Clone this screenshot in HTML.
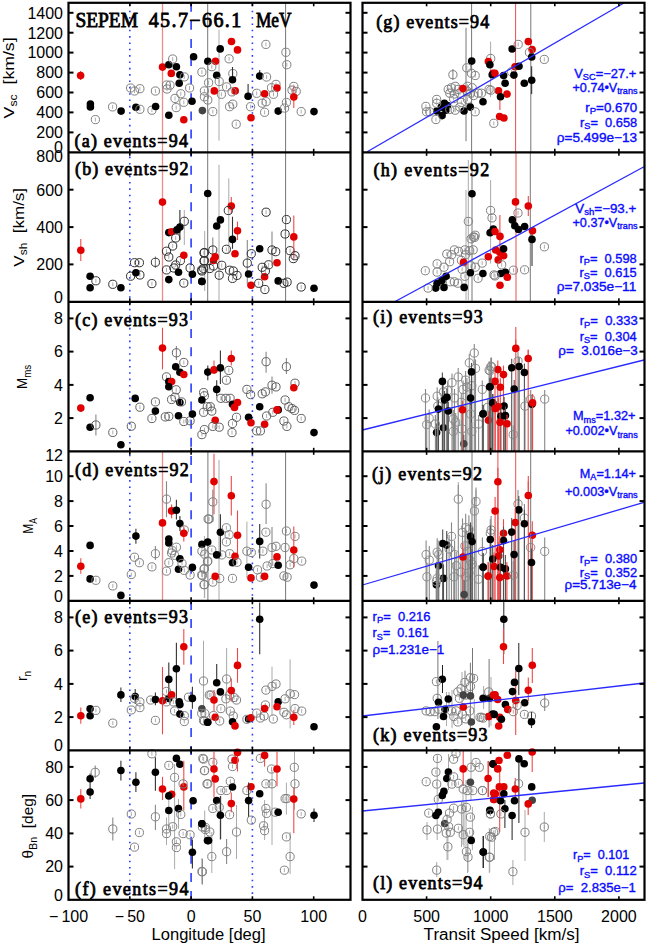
<!DOCTYPE html>
<html><head><meta charset="utf-8"><style>
html,body{margin:0;padding:0;background:#fff;width:648px;height:946px;overflow:hidden}
svg{display:block} text{white-space:pre}

</style></head><body>
<svg width="648" height="946" viewBox="0 0 648 946">
<rect x="0" y="0" width="648" height="946" fill="#fff"/>
<line x1="162.5" y1="2.8" x2="162.5" y2="152.3" stroke="#f08a8a" stroke-width="1.3"/>
<line x1="207.7" y1="2.8" x2="207.7" y2="152.3" stroke="#777" stroke-width="1"/>
<line x1="285.6" y1="2.8" x2="285.6" y2="152.3" stroke="#777" stroke-width="1"/>
<line x1="219" y1="29.6" x2="219" y2="140.7" stroke="#aaa" stroke-width="1"/>
<line x1="162.5" y1="152.3" x2="162.5" y2="301.8" stroke="#f08a8a" stroke-width="1.3"/>
<line x1="207.7" y1="152.3" x2="207.7" y2="301.8" stroke="#777" stroke-width="1"/>
<line x1="285.6" y1="152.3" x2="285.6" y2="301.8" stroke="#777" stroke-width="1"/>
<line x1="219" y1="164.8" x2="219" y2="300.6" stroke="#aaa" stroke-width="1"/>
<line x1="228.8" y1="178.4" x2="228.8" y2="253.7" stroke="#aaa" stroke-width="1"/>
<line x1="204.7" y1="231" x2="204.7" y2="291" stroke="#aaa" stroke-width="1"/>
<line x1="184.3" y1="210" x2="184.3" y2="245" stroke="#aaa" stroke-width="1"/>
<line x1="179.9" y1="210" x2="179.9" y2="240" stroke="#222" stroke-width="1"/>
<line x1="162.5" y1="451.3" x2="162.5" y2="600.8" stroke="#f08a8a" stroke-width="1.3"/>
<line x1="207.9" y1="451.3" x2="207.9" y2="600.8" stroke="#777" stroke-width="1"/>
<line x1="285.6" y1="451.3" x2="285.6" y2="600.8" stroke="#777" stroke-width="1"/>
<line x1="219" y1="459.9" x2="219" y2="600.6" stroke="#aaa" stroke-width="1"/>
<line x1="204.4" y1="536" x2="204.4" y2="598" stroke="#aaa" stroke-width="1"/>
<line x1="246.9" y1="521.6" x2="246.9" y2="578" stroke="#aaa" stroke-width="1"/>
<line x1="204.7" y1="549" x2="204.7" y2="598" stroke="#aaa" stroke-width="1"/>
<line x1="203.5" y1="640.7" x2="203.5" y2="711.1" stroke="#aaa" stroke-width="1"/>
<line x1="226.6" y1="648" x2="226.6" y2="713" stroke="#aaa" stroke-width="1"/>
<line x1="272" y1="666.7" x2="272" y2="716" stroke="#aaa" stroke-width="1"/>
<line x1="290.1" y1="659.3" x2="290.1" y2="728.4" stroke="#aaa" stroke-width="1"/>
<line x1="174.6" y1="764" x2="174.6" y2="869" stroke="#aaa" stroke-width="1"/>
<line x1="168.8" y1="791.7" x2="168.8" y2="829" stroke="#aaa" stroke-width="1"/>
<line x1="166.5" y1="817.4" x2="166.5" y2="845" stroke="#aaa" stroke-width="1"/>
<line x1="178.5" y1="799" x2="178.5" y2="829" stroke="#aaa" stroke-width="1"/>
<line x1="204.7" y1="810.5" x2="204.7" y2="840.6" stroke="#aaa" stroke-width="1"/>
<line x1="236.5" y1="805" x2="236.5" y2="859" stroke="#aaa" stroke-width="1"/>
<line x1="286.4" y1="782.6" x2="286.4" y2="814.6" stroke="#aaa" stroke-width="1"/>
<line x1="294.5" y1="751.7" x2="294.5" y2="809.7" stroke="#aaa" stroke-width="1"/>
<line x1="290.1" y1="832" x2="290.1" y2="874" stroke="#aaa" stroke-width="1"/>
<line x1="220.9" y1="796" x2="220.9" y2="839" stroke="#aaa" stroke-width="1"/>
<line x1="211.8" y1="832" x2="211.8" y2="873" stroke="#aaa" stroke-width="1"/>
<line x1="201.9" y1="858" x2="201.9" y2="884" stroke="#aaa" stroke-width="1"/>
<line x1="272" y1="770" x2="272" y2="845" stroke="#aaa" stroke-width="1"/>
<line x1="264.6" y1="800" x2="264.6" y2="840" stroke="#aaa" stroke-width="1"/>
<line x1="466" y1="27.8" x2="466" y2="141.2" stroke="#777" stroke-width="1"/>
<line x1="471.6" y1="2.8" x2="471.6" y2="152.3" stroke="#777" stroke-width="1"/>
<line x1="515.6" y1="2.8" x2="515.6" y2="152.3" stroke="#e85050" stroke-width="1"/>
<line x1="530.8" y1="2.8" x2="530.8" y2="152.3" stroke="#777" stroke-width="1"/>
<line x1="490.6" y1="41.7" x2="490.6" y2="97" stroke="#aaa" stroke-width="1"/>
<line x1="531.7" y1="66.3" x2="531.7" y2="94.1" stroke="#222" stroke-width="1"/>
<line x1="499.9" y1="97" x2="499.9" y2="110" stroke="#f04848" stroke-width="1.1"/>
<line x1="472" y1="152.3" x2="472" y2="301.8" stroke="#777" stroke-width="1"/>
<line x1="516" y1="152.3" x2="516" y2="301.8" stroke="#e85050" stroke-width="1"/>
<line x1="530.3" y1="152.3" x2="530.3" y2="301.8" stroke="#777" stroke-width="1"/>
<line x1="490.6" y1="180" x2="490.6" y2="263.6" stroke="#aaa" stroke-width="1"/>
<line x1="466" y1="190" x2="466" y2="300" stroke="#aaa" stroke-width="1"/>
<line x1="468.3" y1="160" x2="468.3" y2="300" stroke="#aaa" stroke-width="1"/>
<line x1="532" y1="229" x2="532" y2="266" stroke="#222" stroke-width="1"/>
<line x1="499.9" y1="215" x2="499.9" y2="250" stroke="#f04848" stroke-width="1.1"/>
<line x1="528.3" y1="196" x2="528.3" y2="216" stroke="#f04848" stroke-width="1.1"/>
<line x1="515.8" y1="327" x2="515.8" y2="348" stroke="#f04848" stroke-width="1.1"/>
<line x1="528.2" y1="350" x2="528.2" y2="358" stroke="#f04848" stroke-width="1.1"/>
<line x1="472" y1="451.3" x2="472" y2="600.8" stroke="#777" stroke-width="1"/>
<line x1="497.9" y1="451.3" x2="497.9" y2="600.8" stroke="#e85050" stroke-width="1"/>
<line x1="515.7" y1="451.3" x2="515.7" y2="600.8" stroke="#e85050" stroke-width="1"/>
<line x1="530.7" y1="451.3" x2="530.7" y2="600.8" stroke="#777" stroke-width="1"/>
<line x1="458.3" y1="482" x2="458.3" y2="499" stroke="#aaa" stroke-width="1"/>
<line x1="476" y1="490" x2="476" y2="501" stroke="#aaa" stroke-width="1"/>
<line x1="528.3" y1="476" x2="528.3" y2="495" stroke="#f04848" stroke-width="1.1"/>
<line x1="437.9" y1="641" x2="437.9" y2="719" stroke="#777" stroke-width="1"/>
<line x1="442.5" y1="665" x2="442.5" y2="693" stroke="#222" stroke-width="1"/>
<line x1="472.5" y1="648" x2="472.5" y2="695.4" stroke="#777" stroke-width="1"/>
<line x1="470.4" y1="662.7" x2="470.4" y2="728.8" stroke="#777" stroke-width="1"/>
<line x1="465" y1="670.7" x2="465" y2="699" stroke="#777" stroke-width="1"/>
<line x1="483.6" y1="686" x2="483.6" y2="709" stroke="#aaa" stroke-width="1"/>
<line x1="489.1" y1="659" x2="489.1" y2="727.5" stroke="#777" stroke-width="1"/>
<line x1="491" y1="677" x2="491" y2="726" stroke="#aaa" stroke-width="1"/>
<line x1="446.5" y1="692" x2="446.5" y2="726" stroke="#aaa" stroke-width="1"/>
<line x1="449" y1="692" x2="449" y2="709" stroke="#aaa" stroke-width="1"/>
<line x1="474.3" y1="699" x2="474.3" y2="724" stroke="#aaa" stroke-width="1"/>
<line x1="503.8" y1="601.5" x2="503.8" y2="654" stroke="#222" stroke-width="1"/>
<line x1="503.5" y1="628.5" x2="503.5" y2="664" stroke="#f04848" stroke-width="1.1"/>
<line x1="518.8" y1="643" x2="518.8" y2="695" stroke="#222" stroke-width="1"/>
<line x1="532.3" y1="648" x2="532.3" y2="683" stroke="#f04848" stroke-width="1.1"/>
<line x1="528.3" y1="677.6" x2="528.3" y2="701" stroke="#f04848" stroke-width="1.1"/>
<line x1="515.7" y1="671" x2="515.7" y2="735" stroke="#f04848" stroke-width="1.1"/>
<line x1="489.5" y1="662" x2="489.5" y2="727" stroke="#aaa" stroke-width="1"/>
<line x1="462" y1="672" x2="462" y2="725" stroke="#aaa" stroke-width="1"/>
<line x1="452" y1="690" x2="452" y2="728" stroke="#aaa" stroke-width="1"/>
<line x1="463.2" y1="751" x2="463.2" y2="786" stroke="#f04848" stroke-width="1.1"/>
<line x1="488.1" y1="761" x2="488.1" y2="797" stroke="#f04848" stroke-width="1.1"/>
<line x1="448.5" y1="754" x2="448.5" y2="790" stroke="#aaa" stroke-width="1"/>
<line x1="471" y1="752" x2="471" y2="800" stroke="#aaa" stroke-width="1"/>
<line x1="463" y1="790" x2="463" y2="845" stroke="#aaa" stroke-width="1"/>
<line x1="466" y1="780" x2="466" y2="860" stroke="#aaa" stroke-width="1"/>
<line x1="447.9" y1="835" x2="447.9" y2="860" stroke="#aaa" stroke-width="1"/>
<line x1="468" y1="840" x2="468" y2="872" stroke="#aaa" stroke-width="1"/>
<line x1="489.7" y1="830" x2="489.7" y2="872" stroke="#aaa" stroke-width="1"/>
<line x1="427" y1="822" x2="427" y2="840" stroke="#aaa" stroke-width="1"/>
<line x1="483.3" y1="836" x2="483.3" y2="868" stroke="#222" stroke-width="1"/>
<line x1="436.7" y1="862" x2="436.7" y2="877" stroke="#aaa" stroke-width="1"/>
<line x1="532.2" y1="751" x2="532.2" y2="772" stroke="#f04848" stroke-width="1.1"/>
<line x1="488.4" y1="761" x2="488.4" y2="797" stroke="#f04848" stroke-width="1.1"/>
<line x1="515.3" y1="778" x2="515.3" y2="800" stroke="#f04848" stroke-width="1.1"/>
<line x1="528.2" y1="800" x2="528.2" y2="815" stroke="#f04848" stroke-width="1.1"/>
<line x1="518.9" y1="762" x2="518.9" y2="823" stroke="#222" stroke-width="1"/>
<line x1="499.7" y1="765" x2="499.7" y2="832" stroke="#f04848" stroke-width="1.1"/>
<line x1="525" y1="810" x2="525" y2="861" stroke="#aaa" stroke-width="1"/>
<line x1="544.3" y1="812" x2="544.3" y2="842" stroke="#aaa" stroke-width="1"/>
<line x1="512.9" y1="860" x2="512.9" y2="885" stroke="#aaa" stroke-width="1"/>
<line x1="489.3" y1="828" x2="489.3" y2="873" stroke="#aaa" stroke-width="1"/>
<line x1="512.1" y1="812" x2="512.1" y2="840" stroke="#222" stroke-width="1"/>
<line x1="483.2" y1="836" x2="483.2" y2="868" stroke="#222" stroke-width="1"/>
<line x1="504.9" y1="800" x2="504.9" y2="828" stroke="#222" stroke-width="1"/>
<line x1="437.2" y1="754.8" x2="437.2" y2="840" stroke="#aaa" stroke-width="1"/>
<line x1="447" y1="814" x2="447" y2="860" stroke="#aaa" stroke-width="1"/>
<line x1="461.5" y1="802" x2="461.5" y2="847" stroke="#aaa" stroke-width="1"/>
<line x1="464" y1="802" x2="464" y2="847" stroke="#aaa" stroke-width="1"/>
<line x1="467.5" y1="843" x2="467.5" y2="873" stroke="#aaa" stroke-width="1"/>
<line x1="472.4" y1="807" x2="472.4" y2="850" stroke="#aaa" stroke-width="1"/>
<line x1="494.5" y1="833" x2="494.5" y2="860" stroke="#aaa" stroke-width="1"/>
<line x1="129.8" y1="2.7" x2="129.8" y2="899.3" stroke="#2a3cff" stroke-width="1.6" stroke-dasharray="1.6 4.743" stroke-dashoffset="4.693"/>
<line x1="252.4" y1="2.7" x2="252.4" y2="899.3" stroke="#2a3cff" stroke-width="1.6" stroke-dasharray="1.6 4.743" stroke-dashoffset="4.693"/>
<line x1="191.1" y1="2.7" x2="191.1" y2="899.3" stroke="#2a3cff" stroke-width="1.6" stroke-dasharray="9 9.13" stroke-dashoffset="0"/>
<line x1="80.6" y1="71" x2="80.6" y2="80" stroke="#f04848" stroke-width="1.1"/>
<circle cx="80.6" cy="75.6" r="3.8" fill="#e00000"/>
<circle cx="90.4" cy="104" r="3.8" fill="#000"/>
<circle cx="90.4" cy="107" r="3.8" fill="#000"/>
<line x1="95.4" y1="117.6" x2="95.4" y2="121.6" stroke="#999" stroke-width="0.8"/>
<circle cx="95.4" cy="119.6" r="4.1" fill="none" stroke="#808080" stroke-width="1"/>
<line x1="112.6" y1="104.9" x2="112.6" y2="108.9" stroke="#999" stroke-width="0.8"/>
<circle cx="112.6" cy="106.9" r="4.1" fill="none" stroke="#808080" stroke-width="1"/>
<circle cx="121.1" cy="111.1" r="3.8" fill="#000"/>
<line x1="130.6" y1="86" x2="130.6" y2="90" stroke="#999" stroke-width="0.8"/>
<circle cx="130.6" cy="88" r="4.1" fill="none" stroke="#808080" stroke-width="1"/>
<line x1="134.5" y1="89" x2="134.5" y2="93" stroke="#999" stroke-width="0.8"/>
<circle cx="134.5" cy="91" r="4.1" fill="none" stroke="#808080" stroke-width="1"/>
<line x1="139.9" y1="86.7" x2="139.9" y2="90.7" stroke="#999" stroke-width="0.8"/>
<circle cx="139.9" cy="88.7" r="4.1" fill="none" stroke="#808080" stroke-width="1"/>
<circle cx="135.9" cy="107.2" r="3.8" fill="#000"/>
<line x1="139.9" y1="107.3" x2="139.9" y2="111.3" stroke="#999" stroke-width="0.8"/>
<circle cx="139.9" cy="109.3" r="4.1" fill="none" stroke="#808080" stroke-width="1"/>
<line x1="151.9" y1="108.2" x2="151.9" y2="112.2" stroke="#999" stroke-width="0.8"/>
<circle cx="151.9" cy="110.2" r="4.1" fill="none" stroke="#808080" stroke-width="1"/>
<circle cx="155.6" cy="106.5" r="3.8" fill="#000"/>
<line x1="155.4" y1="89" x2="155.4" y2="93" stroke="#999" stroke-width="0.8"/>
<circle cx="155.4" cy="91" r="4.1" fill="none" stroke="#808080" stroke-width="1"/>
<circle cx="162.5" cy="67.1" r="3.8" fill="#e00000"/>
<circle cx="168.8" cy="64.8" r="3.8" fill="#000"/>
<line x1="172.7" y1="57" x2="172.7" y2="61" stroke="#999" stroke-width="0.8"/>
<circle cx="172.7" cy="59" r="4.1" fill="none" stroke="#808080" stroke-width="1"/>
<circle cx="176.4" cy="66.7" r="3.8" fill="#000"/>
<circle cx="171.3" cy="73.4" r="3.8" fill="#e00000"/>
<circle cx="179.9" cy="74.8" r="3.8" fill="#000"/>
<line x1="184.3" y1="74.9" x2="184.3" y2="78.9" stroke="#999" stroke-width="0.8"/>
<circle cx="184.3" cy="76.9" r="4.1" fill="none" stroke="#808080" stroke-width="1"/>
<line x1="166.5" y1="83" x2="166.5" y2="87" stroke="#999" stroke-width="0.8"/>
<circle cx="166.5" cy="85" r="4.1" fill="none" stroke="#808080" stroke-width="1"/>
<line x1="170" y1="83.2" x2="170" y2="87.2" stroke="#999" stroke-width="0.8"/>
<circle cx="170" cy="85.2" r="4.1" fill="none" stroke="#808080" stroke-width="1"/>
<line x1="167" y1="87" x2="167" y2="91" stroke="#999" stroke-width="0.8"/>
<circle cx="167" cy="89" r="4.1" fill="none" stroke="#808080" stroke-width="1"/>
<circle cx="179.2" cy="83.3" r="3.8" fill="#000"/>
<line x1="189.6" y1="86" x2="189.6" y2="90" stroke="#999" stroke-width="0.8"/>
<circle cx="189.6" cy="88" r="4.1" fill="none" stroke="#808080" stroke-width="1"/>
<line x1="180.8" y1="91.75" x2="180.8" y2="95.75" stroke="#999" stroke-width="0.8"/>
<circle cx="180.8" cy="93.75" r="4.1" fill="none" stroke="#808080" stroke-width="1"/>
<line x1="175" y1="96.4" x2="175" y2="100.4" stroke="#999" stroke-width="0.8"/>
<circle cx="175" cy="98.4" r="4.1" fill="none" stroke="#808080" stroke-width="1"/>
<line x1="183.8" y1="100.3" x2="183.8" y2="104.3" stroke="#999" stroke-width="0.8"/>
<circle cx="183.8" cy="102.3" r="4.1" fill="none" stroke="#808080" stroke-width="1"/>
<line x1="176.2" y1="105.6" x2="176.2" y2="109.6" stroke="#999" stroke-width="0.8"/>
<circle cx="176.2" cy="107.6" r="4.1" fill="none" stroke="#808080" stroke-width="1"/>
<circle cx="168.8" cy="115.3" r="3.8" fill="#000"/>
<circle cx="183.8" cy="119.7" r="3.8" fill="#e00000"/>
<circle cx="192" cy="101.2" r="3.8" fill="#000"/>
<circle cx="193.6" cy="56.7" r="3.8" fill="#000"/>
<circle cx="207.8" cy="61.2" r="3.8" fill="#000"/>
<circle cx="215.5" cy="61.2" r="3.8" fill="#e00000"/>
<circle cx="220.2" cy="48.9" r="3.8" fill="#000"/>
<line x1="211.8" y1="64.7" x2="211.8" y2="68.7" stroke="#999" stroke-width="0.8"/>
<circle cx="211.8" cy="66.7" r="4.1" fill="none" stroke="#808080" stroke-width="1"/>
<line x1="201.9" y1="70.1" x2="201.9" y2="74.1" stroke="#999" stroke-width="0.8"/>
<circle cx="201.9" cy="72.1" r="4.1" fill="none" stroke="#808080" stroke-width="1"/>
<circle cx="216.7" cy="75.3" r="3.8" fill="#000"/>
<line x1="208.6" y1="80.7" x2="208.6" y2="84.7" stroke="#999" stroke-width="0.8"/>
<circle cx="208.6" cy="82.7" r="4.1" fill="none" stroke="#808080" stroke-width="1"/>
<line x1="219.2" y1="79.5" x2="219.2" y2="83.5" stroke="#999" stroke-width="0.8"/>
<circle cx="219.2" cy="81.5" r="4.1" fill="none" stroke="#808080" stroke-width="1"/>
<line x1="226.6" y1="84.9" x2="226.6" y2="88.9" stroke="#999" stroke-width="0.8"/>
<circle cx="226.6" cy="86.9" r="4.1" fill="none" stroke="#808080" stroke-width="1"/>
<line x1="204.4" y1="88.9" x2="204.4" y2="92.9" stroke="#999" stroke-width="0.8"/>
<circle cx="204.4" cy="90.9" r="4.1" fill="none" stroke="#808080" stroke-width="1"/>
<line x1="204.4" y1="94.8" x2="204.4" y2="98.8" stroke="#999" stroke-width="0.8"/>
<circle cx="204.4" cy="96.8" r="4.1" fill="none" stroke="#808080" stroke-width="1"/>
<line x1="207.8" y1="98" x2="207.8" y2="102" stroke="#999" stroke-width="0.8"/>
<circle cx="207.8" cy="100" r="4.1" fill="none" stroke="#808080" stroke-width="1"/>
<line x1="221.4" y1="92.3" x2="221.4" y2="96.3" stroke="#999" stroke-width="0.8"/>
<circle cx="221.4" cy="94.3" r="4.1" fill="none" stroke="#808080" stroke-width="1"/>
<circle cx="214.3" cy="90.9" r="3.8" fill="#e00000"/>
<circle cx="231.5" cy="41.5" r="3.8" fill="#e00000"/>
<circle cx="237.5" cy="49.9" r="3.8" fill="#e00000"/>
<line x1="229.1" y1="56.8" x2="229.1" y2="60.8" stroke="#999" stroke-width="0.8"/>
<circle cx="229.1" cy="58.8" r="4.1" fill="none" stroke="#808080" stroke-width="1"/>
<line x1="232.8" y1="71.6" x2="232.8" y2="75.6" stroke="#999" stroke-width="0.8"/>
<circle cx="232.8" cy="73.6" r="4.1" fill="none" stroke="#808080" stroke-width="1"/>
<line x1="232.5" y1="67" x2="232.5" y2="80" stroke="#333" stroke-width="1.1"/>
<circle cx="232.5" cy="79.8" r="3.8" fill="#000"/>
<circle cx="235.2" cy="90.9" r="3.8" fill="#e00000"/>
<line x1="232" y1="89.9" x2="232" y2="93.9" stroke="#999" stroke-width="0.8"/>
<circle cx="232" cy="91.9" r="4.1" fill="none" stroke="#808080" stroke-width="1"/>
<line x1="229.6" y1="104.7" x2="229.6" y2="108.7" stroke="#999" stroke-width="0.8"/>
<circle cx="229.6" cy="106.7" r="4.1" fill="none" stroke="#808080" stroke-width="1"/>
<line x1="232.8" y1="102.2" x2="232.8" y2="106.2" stroke="#999" stroke-width="0.8"/>
<circle cx="232.8" cy="104.2" r="4.1" fill="none" stroke="#808080" stroke-width="1"/>
<circle cx="202.4" cy="110.6" r="3.8" fill="#444"/>
<line x1="212.8" y1="109.6" x2="212.8" y2="113.6" stroke="#999" stroke-width="0.8"/>
<circle cx="212.8" cy="111.6" r="4.1" fill="none" stroke="#808080" stroke-width="1"/>
<line x1="236.2" y1="122.2" x2="236.2" y2="126.2" stroke="#999" stroke-width="0.8"/>
<circle cx="236.2" cy="124.2" r="4.1" fill="none" stroke="#808080" stroke-width="1"/>
<line x1="248.1" y1="84" x2="248.1" y2="100" stroke="#333" stroke-width="1.1"/>
<circle cx="248.1" cy="96.3" r="3.8" fill="#000"/>
<line x1="250.6" y1="104.7" x2="250.6" y2="108.7" stroke="#999" stroke-width="0.8"/>
<circle cx="250.6" cy="106.7" r="4.1" fill="none" stroke="#808080" stroke-width="1"/>
<circle cx="251" cy="117.8" r="3.8" fill="#e00000"/>
<line x1="259.7" y1="70" x2="259.7" y2="80" stroke="#333" stroke-width="1.1"/>
<circle cx="259.7" cy="76" r="3.8" fill="#000"/>
<line x1="266.6" y1="75" x2="266.6" y2="79" stroke="#999" stroke-width="0.8"/>
<circle cx="266.6" cy="77" r="4.1" fill="none" stroke="#808080" stroke-width="1"/>
<line x1="265.9" y1="42.4" x2="265.9" y2="46.4" stroke="#999" stroke-width="0.8"/>
<circle cx="265.9" cy="44.4" r="4.1" fill="none" stroke="#808080" stroke-width="1"/>
<line x1="256.7" y1="91.3" x2="256.7" y2="95.3" stroke="#999" stroke-width="0.8"/>
<circle cx="256.7" cy="93.3" r="4.1" fill="none" stroke="#808080" stroke-width="1"/>
<circle cx="264.6" cy="93.8" r="3.8" fill="#e00000"/>
<line x1="262.2" y1="101.2" x2="262.2" y2="105.2" stroke="#999" stroke-width="0.8"/>
<circle cx="262.2" cy="103.2" r="4.1" fill="none" stroke="#808080" stroke-width="1"/>
<line x1="266.1" y1="99.7" x2="266.1" y2="103.7" stroke="#999" stroke-width="0.8"/>
<circle cx="266.1" cy="101.7" r="4.1" fill="none" stroke="#808080" stroke-width="1"/>
<line x1="264.6" y1="110.3" x2="264.6" y2="114.3" stroke="#999" stroke-width="0.8"/>
<circle cx="264.6" cy="112.3" r="4.1" fill="none" stroke="#808080" stroke-width="1"/>
<line x1="271.5" y1="85.7" x2="271.5" y2="89.7" stroke="#999" stroke-width="0.8"/>
<circle cx="271.5" cy="87.7" r="4.1" fill="none" stroke="#808080" stroke-width="1"/>
<line x1="276" y1="82.4" x2="276" y2="86.4" stroke="#999" stroke-width="0.8"/>
<circle cx="276" cy="84.4" r="4.1" fill="none" stroke="#808080" stroke-width="1"/>
<circle cx="277" cy="88.1" r="3.8" fill="#e00000"/>
<line x1="273.5" y1="92.3" x2="273.5" y2="96.3" stroke="#999" stroke-width="0.8"/>
<circle cx="273.5" cy="94.3" r="4.1" fill="none" stroke="#808080" stroke-width="1"/>
<circle cx="278.2" cy="111.1" r="3.8" fill="#000"/>
<line x1="285.9" y1="50.3" x2="285.9" y2="54.3" stroke="#999" stroke-width="0.8"/>
<circle cx="285.9" cy="52.3" r="4.1" fill="none" stroke="#808080" stroke-width="1"/>
<line x1="286.8" y1="62.7" x2="286.8" y2="66.7" stroke="#999" stroke-width="0.8"/>
<circle cx="286.8" cy="64.7" r="4.1" fill="none" stroke="#808080" stroke-width="1"/>
<line x1="286.4" y1="100.5" x2="286.4" y2="104.5" stroke="#999" stroke-width="0.8"/>
<circle cx="286.4" cy="102.5" r="4.1" fill="none" stroke="#808080" stroke-width="1"/>
<line x1="284.6" y1="106.1" x2="284.6" y2="110.1" stroke="#999" stroke-width="0.8"/>
<circle cx="284.6" cy="108.1" r="4.1" fill="none" stroke="#808080" stroke-width="1"/>
<line x1="293.8" y1="84.4" x2="293.8" y2="88.4" stroke="#999" stroke-width="0.8"/>
<circle cx="293.8" cy="86.4" r="4.1" fill="none" stroke="#808080" stroke-width="1"/>
<line x1="292" y1="88.1" x2="292" y2="92.1" stroke="#999" stroke-width="0.8"/>
<circle cx="292" cy="90.1" r="4.1" fill="none" stroke="#808080" stroke-width="1"/>
<line x1="296.2" y1="89.4" x2="296.2" y2="93.4" stroke="#999" stroke-width="0.8"/>
<circle cx="296.2" cy="91.4" r="4.1" fill="none" stroke="#808080" stroke-width="1"/>
<line x1="293.8" y1="86.4" x2="293.8" y2="108.1" stroke="#f04848" stroke-width="1.1"/>
<circle cx="293.8" cy="97" r="3.8" fill="#e00000"/>
<line x1="301.2" y1="109.6" x2="301.2" y2="113.6" stroke="#999" stroke-width="0.8"/>
<circle cx="301.2" cy="111.6" r="4.1" fill="none" stroke="#808080" stroke-width="1"/>
<circle cx="314" cy="111.6" r="3.8" fill="#000"/>
<line x1="80.8" y1="239.1" x2="80.8" y2="261.1" stroke="#f04848" stroke-width="1.1"/>
<circle cx="80.8" cy="250.2" r="3.8" fill="#e00000"/>
<circle cx="90.1" cy="276.2" r="3.8" fill="#000"/>
<circle cx="90.1" cy="287.7" r="3.8" fill="#000"/>
<line x1="95.9" y1="278.8" x2="95.9" y2="282.8" stroke="#999" stroke-width="0.8"/>
<circle cx="95.9" cy="280.8" r="4.1" fill="none" stroke="#303030" stroke-width="1"/>
<line x1="112.8" y1="282.3" x2="112.8" y2="286.3" stroke="#999" stroke-width="0.8"/>
<circle cx="112.8" cy="284.3" r="4.1" fill="none" stroke="#303030" stroke-width="1"/>
<circle cx="120.9" cy="287.7" r="3.8" fill="#000"/>
<line x1="130.6" y1="274.2" x2="130.6" y2="278.2" stroke="#999" stroke-width="0.8"/>
<circle cx="130.6" cy="276.2" r="4.1" fill="none" stroke="#303030" stroke-width="1"/>
<line x1="134.5" y1="260.7" x2="134.5" y2="264.7" stroke="#999" stroke-width="0.8"/>
<circle cx="134.5" cy="262.7" r="4.1" fill="none" stroke="#303030" stroke-width="1"/>
<line x1="139.4" y1="260.7" x2="139.4" y2="264.7" stroke="#999" stroke-width="0.8"/>
<circle cx="139.4" cy="262.7" r="4.1" fill="none" stroke="#303030" stroke-width="1"/>
<line x1="139.9" y1="273" x2="139.9" y2="277" stroke="#999" stroke-width="0.8"/>
<circle cx="139.9" cy="275" r="4.1" fill="none" stroke="#303030" stroke-width="1"/>
<circle cx="135.9" cy="272.7" r="3.8" fill="#000"/>
<line x1="151.9" y1="281.6" x2="151.9" y2="285.6" stroke="#999" stroke-width="0.8"/>
<circle cx="151.9" cy="283.6" r="4.1" fill="none" stroke="#303030" stroke-width="1"/>
<line x1="155.4" y1="256.5" x2="155.4" y2="268" stroke="#888" stroke-width="1.1"/>
<circle cx="155.4" cy="262.3" r="4.1" fill="none" stroke="#303030" stroke-width="1"/>
<circle cx="162.5" cy="202.1" r="3.8" fill="#e00000"/>
<circle cx="168.8" cy="232.6" r="3.8" fill="#000"/>
<circle cx="171.6" cy="231.7" r="3.8" fill="#e00000"/>
<circle cx="176.9" cy="229.9" r="3.8" fill="#000"/>
<circle cx="179.9" cy="227.1" r="3.8" fill="#000"/>
<line x1="184.3" y1="219.3" x2="184.3" y2="223.3" stroke="#999" stroke-width="0.8"/>
<circle cx="184.3" cy="221.3" r="4.1" fill="none" stroke="#303030" stroke-width="1"/>
<line x1="175.7" y1="236" x2="175.7" y2="240" stroke="#999" stroke-width="0.8"/>
<circle cx="175.7" cy="238" r="4.1" fill="none" stroke="#303030" stroke-width="1"/>
<line x1="172.7" y1="244" x2="172.7" y2="248" stroke="#999" stroke-width="0.8"/>
<circle cx="172.7" cy="246" r="4.1" fill="none" stroke="#303030" stroke-width="1"/>
<line x1="166.5" y1="249.2" x2="166.5" y2="253.2" stroke="#999" stroke-width="0.8"/>
<circle cx="166.5" cy="251.2" r="4.1" fill="none" stroke="#303030" stroke-width="1"/>
<line x1="168.8" y1="255" x2="168.8" y2="259" stroke="#999" stroke-width="0.8"/>
<circle cx="168.8" cy="257" r="4.1" fill="none" stroke="#303030" stroke-width="1"/>
<line x1="175.7" y1="263" x2="175.7" y2="267" stroke="#999" stroke-width="0.8"/>
<circle cx="175.7" cy="265" r="4.1" fill="none" stroke="#303030" stroke-width="1"/>
<line x1="180.4" y1="258.6" x2="180.4" y2="262.6" stroke="#999" stroke-width="0.8"/>
<circle cx="180.4" cy="260.6" r="4.1" fill="none" stroke="#303030" stroke-width="1"/>
<circle cx="183.8" cy="255.3" r="3.8" fill="#e00000"/>
<line x1="166.5" y1="267.9" x2="166.5" y2="271.9" stroke="#999" stroke-width="0.8"/>
<circle cx="166.5" cy="269.9" r="4.1" fill="none" stroke="#303030" stroke-width="1"/>
<line x1="173.9" y1="266" x2="173.9" y2="270" stroke="#999" stroke-width="0.8"/>
<circle cx="173.9" cy="268" r="4.1" fill="none" stroke="#303030" stroke-width="1"/>
<circle cx="168.8" cy="279.6" r="3.8" fill="#000"/>
<circle cx="178.5" cy="272.2" r="3.8" fill="#000"/>
<line x1="183.8" y1="281.1" x2="183.8" y2="285.1" stroke="#999" stroke-width="0.8"/>
<circle cx="183.8" cy="283.1" r="4.1" fill="none" stroke="#303030" stroke-width="1"/>
<line x1="190.1" y1="266" x2="190.1" y2="270" stroke="#999" stroke-width="0.8"/>
<circle cx="190.1" cy="268" r="4.1" fill="none" stroke="#303030" stroke-width="1"/>
<circle cx="192.4" cy="274.3" r="3.8" fill="#000"/>
<circle cx="207.7" cy="193.5" r="3.8" fill="#000"/>
<line x1="204" y1="251" x2="204" y2="255" stroke="#999" stroke-width="0.8"/>
<circle cx="204" cy="253" r="4.1" fill="none" stroke="#303030" stroke-width="1"/>
<line x1="204" y1="259.1" x2="204" y2="263.1" stroke="#999" stroke-width="0.8"/>
<circle cx="204" cy="261.1" r="4.1" fill="none" stroke="#303030" stroke-width="1"/>
<line x1="201.7" y1="267.9" x2="201.7" y2="271.9" stroke="#999" stroke-width="0.8"/>
<circle cx="201.7" cy="269.9" r="4.1" fill="none" stroke="#303030" stroke-width="1"/>
<circle cx="201.9" cy="281.5" r="3.8" fill="#000"/>
<circle cx="220.4" cy="219.9" r="3.8" fill="#000"/>
<circle cx="216.7" cy="226" r="3.8" fill="#000"/>
<line x1="231.3" y1="197" x2="231.3" y2="214" stroke="#f04848" stroke-width="1.1"/>
<circle cx="231.3" cy="206" r="3.8" fill="#e00000"/>
<line x1="228.3" y1="208.5" x2="228.3" y2="212.5" stroke="#999" stroke-width="0.8"/>
<circle cx="228.3" cy="210.5" r="4.1" fill="none" stroke="#303030" stroke-width="1"/>
<line x1="237.5" y1="221.6" x2="237.5" y2="240" stroke="#f04848" stroke-width="1.1"/>
<circle cx="237.5" cy="230.7" r="3.8" fill="#e00000"/>
<line x1="232.5" y1="216.7" x2="232.5" y2="248.8" stroke="#333" stroke-width="1.1"/>
<circle cx="232.5" cy="239.4" r="3.8" fill="#000"/>
<line x1="226.4" y1="247.3" x2="226.4" y2="251.3" stroke="#999" stroke-width="0.8"/>
<circle cx="226.4" cy="249.3" r="4.1" fill="none" stroke="#303030" stroke-width="1"/>
<circle cx="235" cy="253.7" r="3.8" fill="#e00000"/>
<line x1="204.4" y1="250.5" x2="204.4" y2="254.5" stroke="#999" stroke-width="0.8"/>
<circle cx="204.4" cy="252.5" r="4.1" fill="none" stroke="#303030" stroke-width="1"/>
<line x1="204.4" y1="258.6" x2="204.4" y2="262.6" stroke="#999" stroke-width="0.8"/>
<circle cx="204.4" cy="260.6" r="4.1" fill="none" stroke="#303030" stroke-width="1"/>
<line x1="212.8" y1="237.6" x2="212.8" y2="256" stroke="#888" stroke-width="1.1"/>
<circle cx="212.8" cy="250" r="4.1" fill="none" stroke="#303030" stroke-width="1"/>
<circle cx="215.2" cy="256.9" r="3.8" fill="#e00000"/>
<circle cx="213.5" cy="260.4" r="3.8" fill="#e00000"/>
<line x1="203.6" y1="266.5" x2="203.6" y2="270.5" stroke="#999" stroke-width="0.8"/>
<circle cx="203.6" cy="268.5" r="4.1" fill="none" stroke="#303030" stroke-width="1"/>
<line x1="201.9" y1="269" x2="201.9" y2="273" stroke="#999" stroke-width="0.8"/>
<circle cx="201.9" cy="271" r="4.1" fill="none" stroke="#303030" stroke-width="1"/>
<line x1="209.8" y1="266.5" x2="209.8" y2="270.5" stroke="#999" stroke-width="0.8"/>
<circle cx="209.8" cy="268.5" r="4.1" fill="none" stroke="#303030" stroke-width="1"/>
<line x1="213.5" y1="264" x2="213.5" y2="268" stroke="#999" stroke-width="0.8"/>
<circle cx="213.5" cy="266" r="4.1" fill="none" stroke="#303030" stroke-width="1"/>
<line x1="221.7" y1="263.3" x2="221.7" y2="267.3" stroke="#999" stroke-width="0.8"/>
<circle cx="221.7" cy="265.3" r="4.1" fill="none" stroke="#303030" stroke-width="1"/>
<line x1="219.2" y1="273.2" x2="219.2" y2="277.2" stroke="#999" stroke-width="0.8"/>
<circle cx="219.2" cy="275.2" r="4.1" fill="none" stroke="#303030" stroke-width="1"/>
<line x1="229.6" y1="268.2" x2="229.6" y2="272.2" stroke="#999" stroke-width="0.8"/>
<circle cx="229.6" cy="270.2" r="4.1" fill="none" stroke="#303030" stroke-width="1"/>
<line x1="233.3" y1="269" x2="233.3" y2="273" stroke="#999" stroke-width="0.8"/>
<circle cx="233.3" cy="271" r="4.1" fill="none" stroke="#303030" stroke-width="1"/>
<line x1="237" y1="273.4" x2="237" y2="277.4" stroke="#999" stroke-width="0.8"/>
<circle cx="237" cy="275.4" r="4.1" fill="none" stroke="#303030" stroke-width="1"/>
<line x1="232.5" y1="276.4" x2="232.5" y2="280.4" stroke="#999" stroke-width="0.8"/>
<circle cx="232.5" cy="278.4" r="4.1" fill="none" stroke="#303030" stroke-width="1"/>
<circle cx="201.9" cy="281.4" r="3.8" fill="#000"/>
<line x1="247.3" y1="240" x2="247.3" y2="284.6" stroke="#888" stroke-width="1.1"/>
<circle cx="247.3" cy="263.1" r="4.1" fill="none" stroke="#303030" stroke-width="1"/>
<line x1="251.3" y1="251.7" x2="251.3" y2="255.7" stroke="#999" stroke-width="0.8"/>
<circle cx="251.3" cy="253.7" r="4.1" fill="none" stroke="#303030" stroke-width="1"/>
<circle cx="248.6" cy="274" r="3.8" fill="#000"/>
<circle cx="251" cy="285.3" r="3.8" fill="#e00000"/>
<circle cx="259.7" cy="248.8" r="3.8" fill="#000"/>
<line x1="266.1" y1="210.2" x2="266.1" y2="214.2" stroke="#999" stroke-width="0.8"/>
<circle cx="266.1" cy="212.2" r="4.1" fill="none" stroke="#303030" stroke-width="1"/>
<line x1="258.7" y1="281.3" x2="258.7" y2="285.3" stroke="#999" stroke-width="0.8"/>
<circle cx="258.7" cy="283.3" r="4.1" fill="none" stroke="#303030" stroke-width="1"/>
<line x1="264.9" y1="287.5" x2="264.9" y2="291.5" stroke="#999" stroke-width="0.8"/>
<circle cx="264.9" cy="289.5" r="4.1" fill="none" stroke="#303030" stroke-width="1"/>
<circle cx="264.6" cy="276.7" r="3.8" fill="#e00000"/>
<line x1="262.2" y1="265.3" x2="262.2" y2="269.3" stroke="#999" stroke-width="0.8"/>
<circle cx="262.2" cy="267.3" r="4.1" fill="none" stroke="#303030" stroke-width="1"/>
<line x1="265.4" y1="269" x2="265.4" y2="273" stroke="#999" stroke-width="0.8"/>
<circle cx="265.4" cy="271" r="4.1" fill="none" stroke="#303030" stroke-width="1"/>
<line x1="268.6" y1="262.8" x2="268.6" y2="266.8" stroke="#999" stroke-width="0.8"/>
<circle cx="268.6" cy="264.8" r="4.1" fill="none" stroke="#303030" stroke-width="1"/>
<line x1="272" y1="231.5" x2="272" y2="266" stroke="#888" stroke-width="1.1"/>
<circle cx="272" cy="250" r="4.1" fill="none" stroke="#303030" stroke-width="1"/>
<line x1="275.7" y1="249.7" x2="275.7" y2="253.7" stroke="#999" stroke-width="0.8"/>
<circle cx="275.7" cy="251.7" r="4.1" fill="none" stroke="#303030" stroke-width="1"/>
<circle cx="277" cy="262.8" r="3.8" fill="#e00000"/>
<circle cx="278.2" cy="280.9" r="3.8" fill="#000"/>
<line x1="283.9" y1="281.3" x2="283.9" y2="285.3" stroke="#999" stroke-width="0.8"/>
<circle cx="283.9" cy="283.3" r="4.1" fill="none" stroke="#303030" stroke-width="1"/>
<line x1="287.1" y1="280.1" x2="287.1" y2="284.1" stroke="#999" stroke-width="0.8"/>
<circle cx="287.1" cy="282.1" r="4.1" fill="none" stroke="#303030" stroke-width="1"/>
<line x1="286.4" y1="217.6" x2="286.4" y2="221.6" stroke="#999" stroke-width="0.8"/>
<circle cx="286.4" cy="219.6" r="4.1" fill="none" stroke="#303030" stroke-width="1"/>
<line x1="285.1" y1="232" x2="285.1" y2="236" stroke="#999" stroke-width="0.8"/>
<circle cx="285.1" cy="234" r="4.1" fill="none" stroke="#303030" stroke-width="1"/>
<line x1="290.1" y1="248.7" x2="290.1" y2="252.7" stroke="#999" stroke-width="0.8"/>
<circle cx="290.1" cy="250.7" r="4.1" fill="none" stroke="#303030" stroke-width="1"/>
<line x1="293.8" y1="215.4" x2="293.8" y2="258.6" stroke="#f04848" stroke-width="1.1"/>
<circle cx="293.8" cy="236.9" r="3.8" fill="#e00000"/>
<line x1="293.3" y1="256.6" x2="293.3" y2="260.6" stroke="#999" stroke-width="0.8"/>
<circle cx="293.3" cy="258.6" r="4.1" fill="none" stroke="#303030" stroke-width="1"/>
<line x1="295" y1="253.7" x2="295" y2="257.7" stroke="#999" stroke-width="0.8"/>
<circle cx="295" cy="255.7" r="4.1" fill="none" stroke="#303030" stroke-width="1"/>
<line x1="301.2" y1="285" x2="301.2" y2="289" stroke="#999" stroke-width="0.8"/>
<circle cx="301.2" cy="287" r="4.1" fill="none" stroke="#303030" stroke-width="1"/>
<circle cx="314" cy="288.3" r="3.8" fill="#000"/>
<circle cx="80.8" cy="408.1" r="3.8" fill="#e00000"/>
<circle cx="90.1" cy="397.7" r="3.8" fill="#000"/>
<circle cx="90.1" cy="427.3" r="3.8" fill="#000"/>
<line x1="95.9" y1="414.6" x2="95.9" y2="435.4" stroke="#888" stroke-width="1.1"/>
<circle cx="95.9" cy="425" r="4.1" fill="none" stroke="#606060" stroke-width="1"/>
<line x1="112.8" y1="430.4" x2="112.8" y2="434.4" stroke="#999" stroke-width="0.8"/>
<circle cx="112.8" cy="432.4" r="4.1" fill="none" stroke="#606060" stroke-width="1"/>
<circle cx="120.9" cy="444.7" r="3.8" fill="#000"/>
<line x1="131.3" y1="424.2" x2="131.3" y2="428.2" stroke="#999" stroke-width="0.8"/>
<circle cx="131.3" cy="426.2" r="4.1" fill="none" stroke="#606060" stroke-width="1"/>
<circle cx="135.2" cy="398.4" r="3.8" fill="#000"/>
<line x1="139.9" y1="405.2" x2="139.9" y2="409.2" stroke="#999" stroke-width="0.8"/>
<circle cx="139.9" cy="407.2" r="4.1" fill="none" stroke="#606060" stroke-width="1"/>
<line x1="151.9" y1="416.5" x2="151.9" y2="420.5" stroke="#999" stroke-width="0.8"/>
<circle cx="151.9" cy="418.5" r="4.1" fill="none" stroke="#606060" stroke-width="1"/>
<circle cx="155.4" cy="411.1" r="3.8" fill="#000"/>
<line x1="155.4" y1="399.9" x2="155.4" y2="403.9" stroke="#999" stroke-width="0.8"/>
<circle cx="155.4" cy="401.9" r="4.1" fill="none" stroke="#606060" stroke-width="1"/>
<line x1="162.5" y1="327.8" x2="162.5" y2="369.4" stroke="#f04848" stroke-width="1.1"/>
<circle cx="162.5" cy="348.1" r="3.8" fill="#e00000"/>
<line x1="166.5" y1="374.9" x2="166.5" y2="378.9" stroke="#999" stroke-width="0.8"/>
<circle cx="166.5" cy="376.9" r="4.1" fill="none" stroke="#606060" stroke-width="1"/>
<circle cx="168.8" cy="381.5" r="3.8" fill="#000"/>
<circle cx="171.6" cy="381.5" r="3.8" fill="#e00000"/>
<circle cx="168.8" cy="386.8" r="3.8" fill="#000"/>
<circle cx="175.7" cy="366.7" r="3.8" fill="#000"/>
<circle cx="179.9" cy="372.2" r="3.8" fill="#000"/>
<circle cx="183.8" cy="374.5" r="3.8" fill="#e00000"/>
<line x1="176.4" y1="346" x2="176.4" y2="360" stroke="#888" stroke-width="1.1"/>
<circle cx="176.4" cy="352.8" r="4.1" fill="none" stroke="#606060" stroke-width="1"/>
<line x1="183.8" y1="360.5" x2="183.8" y2="364.5" stroke="#999" stroke-width="0.8"/>
<circle cx="183.8" cy="362.5" r="4.1" fill="none" stroke="#606060" stroke-width="1"/>
<line x1="176.2" y1="387.8" x2="176.2" y2="391.8" stroke="#999" stroke-width="0.8"/>
<circle cx="176.2" cy="389.8" r="4.1" fill="none" stroke="#606060" stroke-width="1"/>
<line x1="175" y1="395.2" x2="175" y2="399.2" stroke="#999" stroke-width="0.8"/>
<circle cx="175" cy="397.2" r="4.1" fill="none" stroke="#606060" stroke-width="1"/>
<line x1="171.6" y1="397.5" x2="171.6" y2="401.5" stroke="#999" stroke-width="0.8"/>
<circle cx="171.6" cy="399.5" r="4.1" fill="none" stroke="#606060" stroke-width="1"/>
<circle cx="179.9" cy="402.5" r="3.8" fill="#000"/>
<line x1="181.5" y1="399.9" x2="181.5" y2="403.9" stroke="#999" stroke-width="0.8"/>
<circle cx="181.5" cy="401.9" r="4.1" fill="none" stroke="#606060" stroke-width="1"/>
<line x1="165.3" y1="414.9" x2="165.3" y2="418.9" stroke="#999" stroke-width="0.8"/>
<circle cx="165.3" cy="416.9" r="4.1" fill="none" stroke="#606060" stroke-width="1"/>
<line x1="168.8" y1="414.4" x2="168.8" y2="418.4" stroke="#999" stroke-width="0.8"/>
<circle cx="168.8" cy="416.4" r="4.1" fill="none" stroke="#606060" stroke-width="1"/>
<circle cx="178.5" cy="415.7" r="3.8" fill="#000"/>
<line x1="183.8" y1="419.5" x2="183.8" y2="423.5" stroke="#999" stroke-width="0.8"/>
<circle cx="183.8" cy="421.5" r="4.1" fill="none" stroke="#606060" stroke-width="1"/>
<line x1="190.1" y1="418.8" x2="190.1" y2="422.8" stroke="#999" stroke-width="0.8"/>
<circle cx="190.1" cy="420.8" r="4.1" fill="none" stroke="#606060" stroke-width="1"/>
<circle cx="192.4" cy="414.1" r="3.8" fill="#000"/>
<line x1="207.8" y1="365.4" x2="207.8" y2="380.2" stroke="#333" stroke-width="1.1"/>
<circle cx="207.8" cy="372.1" r="3.8" fill="#000"/>
<line x1="214" y1="360.5" x2="214" y2="374" stroke="#f04848" stroke-width="1.1"/>
<circle cx="214" cy="369.9" r="3.8" fill="#e00000"/>
<line x1="220.4" y1="350.6" x2="220.4" y2="384" stroke="#333" stroke-width="1.1"/>
<circle cx="220.4" cy="367.9" r="3.8" fill="#000"/>
<line x1="228.8" y1="368.4" x2="228.8" y2="372.4" stroke="#999" stroke-width="0.8"/>
<circle cx="228.8" cy="370.4" r="4.1" fill="none" stroke="#606060" stroke-width="1"/>
<line x1="226.4" y1="378.2" x2="226.4" y2="382.2" stroke="#999" stroke-width="0.8"/>
<circle cx="226.4" cy="380.2" r="4.1" fill="none" stroke="#606060" stroke-width="1"/>
<line x1="231.3" y1="350.6" x2="231.3" y2="365.4" stroke="#f04848" stroke-width="1.1"/>
<circle cx="231.3" cy="358.5" r="3.8" fill="#e00000"/>
<line x1="216.7" y1="380.2" x2="216.7" y2="396.3" stroke="#333" stroke-width="1.1"/>
<circle cx="216.7" cy="389.4" r="3.8" fill="#000"/>
<line x1="203.6" y1="390.6" x2="203.6" y2="394.6" stroke="#999" stroke-width="0.8"/>
<circle cx="203.6" cy="392.6" r="4.1" fill="none" stroke="#606060" stroke-width="1"/>
<line x1="204.4" y1="393.8" x2="204.4" y2="397.8" stroke="#999" stroke-width="0.8"/>
<circle cx="204.4" cy="395.8" r="4.1" fill="none" stroke="#606060" stroke-width="1"/>
<circle cx="201.9" cy="400" r="3.8" fill="#000"/>
<line x1="220.9" y1="396.3" x2="220.9" y2="400.3" stroke="#999" stroke-width="0.8"/>
<circle cx="220.9" cy="398.3" r="4.1" fill="none" stroke="#606060" stroke-width="1"/>
<line x1="225.9" y1="396.3" x2="225.9" y2="400.3" stroke="#999" stroke-width="0.8"/>
<circle cx="225.9" cy="398.3" r="4.1" fill="none" stroke="#606060" stroke-width="1"/>
<line x1="230.1" y1="396.3" x2="230.1" y2="400.3" stroke="#999" stroke-width="0.8"/>
<circle cx="230.1" cy="398.3" r="4.1" fill="none" stroke="#606060" stroke-width="1"/>
<circle cx="232.5" cy="404.2" r="3.8" fill="#000"/>
<circle cx="237.5" cy="402.5" r="3.8" fill="#e00000"/>
<circle cx="234.5" cy="407.4" r="3.8" fill="#e00000"/>
<line x1="207.3" y1="404.7" x2="207.3" y2="408.7" stroke="#999" stroke-width="0.8"/>
<circle cx="207.3" cy="406.7" r="4.1" fill="none" stroke="#606060" stroke-width="1"/>
<line x1="210.3" y1="404.7" x2="210.3" y2="408.7" stroke="#999" stroke-width="0.8"/>
<circle cx="210.3" cy="406.7" r="4.1" fill="none" stroke="#606060" stroke-width="1"/>
<line x1="203.6" y1="410.3" x2="203.6" y2="414.3" stroke="#999" stroke-width="0.8"/>
<circle cx="203.6" cy="412.3" r="4.1" fill="none" stroke="#606060" stroke-width="1"/>
<line x1="211.8" y1="409.1" x2="211.8" y2="413.1" stroke="#999" stroke-width="0.8"/>
<circle cx="211.8" cy="411.1" r="4.1" fill="none" stroke="#606060" stroke-width="1"/>
<circle cx="215.2" cy="420.2" r="3.8" fill="#e00000"/>
<line x1="236.5" y1="415.3" x2="236.5" y2="419.3" stroke="#999" stroke-width="0.8"/>
<circle cx="236.5" cy="417.3" r="4.1" fill="none" stroke="#606060" stroke-width="1"/>
<line x1="232.5" y1="421.5" x2="232.5" y2="425.5" stroke="#999" stroke-width="0.8"/>
<circle cx="232.5" cy="423.5" r="4.1" fill="none" stroke="#606060" stroke-width="1"/>
<line x1="232" y1="430.6" x2="232" y2="434.6" stroke="#999" stroke-width="0.8"/>
<circle cx="232" cy="432.6" r="4.1" fill="none" stroke="#606060" stroke-width="1"/>
<line x1="204.4" y1="427.6" x2="204.4" y2="431.6" stroke="#999" stroke-width="0.8"/>
<circle cx="204.4" cy="429.6" r="4.1" fill="none" stroke="#606060" stroke-width="1"/>
<line x1="201.9" y1="432.6" x2="201.9" y2="436.6" stroke="#999" stroke-width="0.8"/>
<circle cx="201.9" cy="434.6" r="4.1" fill="none" stroke="#606060" stroke-width="1"/>
<line x1="212.8" y1="424.4" x2="212.8" y2="428.4" stroke="#999" stroke-width="0.8"/>
<circle cx="212.8" cy="426.4" r="4.1" fill="none" stroke="#606060" stroke-width="1"/>
<line x1="219.2" y1="425.2" x2="219.2" y2="429.2" stroke="#999" stroke-width="0.8"/>
<circle cx="219.2" cy="427.2" r="4.1" fill="none" stroke="#606060" stroke-width="1"/>
<line x1="246.9" y1="387.4" x2="246.9" y2="391.4" stroke="#999" stroke-width="0.8"/>
<circle cx="246.9" cy="389.4" r="4.1" fill="none" stroke="#606060" stroke-width="1"/>
<line x1="250.6" y1="392.6" x2="250.6" y2="396.6" stroke="#999" stroke-width="0.8"/>
<circle cx="250.6" cy="394.6" r="4.1" fill="none" stroke="#606060" stroke-width="1"/>
<circle cx="248.6" cy="417.3" r="3.8" fill="#000"/>
<circle cx="251" cy="422.7" r="3.8" fill="#e00000"/>
<circle cx="259.7" cy="406.7" r="3.8" fill="#000"/>
<line x1="266.1" y1="351.8" x2="266.1" y2="372.8" stroke="#888" stroke-width="1.1"/>
<circle cx="266.1" cy="361.7" r="4.1" fill="none" stroke="#606060" stroke-width="1"/>
<line x1="262.2" y1="391.8" x2="262.2" y2="395.8" stroke="#999" stroke-width="0.8"/>
<circle cx="262.2" cy="393.8" r="4.1" fill="none" stroke="#606060" stroke-width="1"/>
<line x1="265.4" y1="389.9" x2="265.4" y2="393.9" stroke="#999" stroke-width="0.8"/>
<circle cx="265.4" cy="391.9" r="4.1" fill="none" stroke="#606060" stroke-width="1"/>
<line x1="272" y1="376.5" x2="272" y2="393.8" stroke="#888" stroke-width="1.1"/>
<circle cx="272" cy="385.2" r="4.1" fill="none" stroke="#606060" stroke-width="1"/>
<line x1="276" y1="384.9" x2="276" y2="388.9" stroke="#999" stroke-width="0.8"/>
<circle cx="276" cy="386.9" r="4.1" fill="none" stroke="#606060" stroke-width="1"/>
<line x1="266.6" y1="414" x2="266.6" y2="418" stroke="#999" stroke-width="0.8"/>
<circle cx="266.6" cy="416" r="4.1" fill="none" stroke="#606060" stroke-width="1"/>
<line x1="272.8" y1="410.3" x2="272.8" y2="414.3" stroke="#999" stroke-width="0.8"/>
<circle cx="272.8" cy="412.3" r="4.1" fill="none" stroke="#606060" stroke-width="1"/>
<circle cx="264.6" cy="424.2" r="3.8" fill="#e00000"/>
<line x1="256.7" y1="428.9" x2="256.7" y2="432.9" stroke="#999" stroke-width="0.8"/>
<circle cx="256.7" cy="430.9" r="4.1" fill="none" stroke="#606060" stroke-width="1"/>
<line x1="260.4" y1="428.9" x2="260.4" y2="432.9" stroke="#999" stroke-width="0.8"/>
<circle cx="260.4" cy="430.9" r="4.1" fill="none" stroke="#606060" stroke-width="1"/>
<circle cx="278.2" cy="409.9" r="3.8" fill="#000"/>
<circle cx="277" cy="409.9" r="3.8" fill="#e00000"/>
<line x1="286.4" y1="358" x2="286.4" y2="374" stroke="#888" stroke-width="1.1"/>
<circle cx="286.4" cy="366.7" r="4.1" fill="none" stroke="#606060" stroke-width="1"/>
<line x1="285.1" y1="398" x2="285.1" y2="402" stroke="#999" stroke-width="0.8"/>
<circle cx="285.1" cy="400" r="4.1" fill="none" stroke="#606060" stroke-width="1"/>
<line x1="288.8" y1="404.7" x2="288.8" y2="408.7" stroke="#999" stroke-width="0.8"/>
<circle cx="288.8" cy="406.7" r="4.1" fill="none" stroke="#606060" stroke-width="1"/>
<line x1="292" y1="406.6" x2="292" y2="410.6" stroke="#999" stroke-width="0.8"/>
<circle cx="292" cy="408.6" r="4.1" fill="none" stroke="#606060" stroke-width="1"/>
<line x1="294.5" y1="408.4" x2="294.5" y2="412.4" stroke="#999" stroke-width="0.8"/>
<circle cx="294.5" cy="410.4" r="4.1" fill="none" stroke="#606060" stroke-width="1"/>
<line x1="295" y1="381.2" x2="295" y2="385.2" stroke="#999" stroke-width="0.8"/>
<circle cx="295" cy="383.2" r="4.1" fill="none" stroke="#606060" stroke-width="1"/>
<circle cx="293.8" cy="387.7" r="3.8" fill="#e00000"/>
<line x1="283.9" y1="419" x2="283.9" y2="423" stroke="#999" stroke-width="0.8"/>
<circle cx="283.9" cy="421" r="4.1" fill="none" stroke="#606060" stroke-width="1"/>
<line x1="286.9" y1="424.4" x2="286.9" y2="428.4" stroke="#999" stroke-width="0.8"/>
<circle cx="286.9" cy="426.4" r="4.1" fill="none" stroke="#606060" stroke-width="1"/>
<line x1="301.2" y1="416.5" x2="301.2" y2="420.5" stroke="#999" stroke-width="0.8"/>
<circle cx="301.2" cy="418.5" r="4.1" fill="none" stroke="#606060" stroke-width="1"/>
<circle cx="314" cy="432.6" r="3.8" fill="#000"/>
<line x1="80.8" y1="558.3" x2="80.8" y2="573.8" stroke="#f04848" stroke-width="1.1"/>
<circle cx="80.8" cy="566.2" r="3.8" fill="#e00000"/>
<circle cx="90.1" cy="545.4" r="3.8" fill="#000"/>
<circle cx="90.1" cy="578.9" r="3.8" fill="#000"/>
<line x1="95.9" y1="578.3" x2="95.9" y2="582.3" stroke="#999" stroke-width="0.8"/>
<circle cx="95.9" cy="580.3" r="4.1" fill="none" stroke="#808080" stroke-width="1"/>
<line x1="112.8" y1="583.9" x2="112.8" y2="587.9" stroke="#999" stroke-width="0.8"/>
<circle cx="112.8" cy="585.9" r="4.1" fill="none" stroke="#808080" stroke-width="1"/>
<circle cx="120.9" cy="595.4" r="3.8" fill="#000"/>
<line x1="131.3" y1="572.5" x2="131.3" y2="576.5" stroke="#999" stroke-width="0.8"/>
<circle cx="131.3" cy="574.5" r="4.1" fill="none" stroke="#808080" stroke-width="1"/>
<line x1="135.9" y1="528.7" x2="135.9" y2="543.8" stroke="#333" stroke-width="1.1"/>
<circle cx="135.9" cy="536.1" r="3.8" fill="#000"/>
<line x1="134.5" y1="555.2" x2="134.5" y2="559.2" stroke="#999" stroke-width="0.8"/>
<circle cx="134.5" cy="557.2" r="4.1" fill="none" stroke="#808080" stroke-width="1"/>
<line x1="139.4" y1="560.7" x2="139.4" y2="564.7" stroke="#999" stroke-width="0.8"/>
<circle cx="139.4" cy="562.7" r="4.1" fill="none" stroke="#808080" stroke-width="1"/>
<line x1="151.9" y1="564.9" x2="151.9" y2="568.9" stroke="#999" stroke-width="0.8"/>
<circle cx="151.9" cy="566.9" r="4.1" fill="none" stroke="#808080" stroke-width="1"/>
<line x1="155.4" y1="546" x2="155.4" y2="560" stroke="#888" stroke-width="1.1"/>
<circle cx="155.4" cy="553.7" r="4.1" fill="none" stroke="#808080" stroke-width="1"/>
<circle cx="162.5" cy="522.9" r="3.8" fill="#e00000"/>
<line x1="166.5" y1="481.2" x2="166.5" y2="517.1" stroke="#888" stroke-width="1.1"/>
<circle cx="166.5" cy="499.1" r="4.1" fill="none" stroke="#808080" stroke-width="1"/>
<line x1="171.6" y1="504.4" x2="171.6" y2="518.3" stroke="#f04848" stroke-width="1.1"/>
<circle cx="171.6" cy="510.9" r="3.8" fill="#e00000"/>
<line x1="176.4" y1="499.8" x2="176.4" y2="519.4" stroke="#333" stroke-width="1.1"/>
<circle cx="176.4" cy="510.2" r="3.8" fill="#000"/>
<line x1="179.9" y1="516" x2="179.9" y2="531" stroke="#333" stroke-width="1.1"/>
<circle cx="179.9" cy="523.6" r="3.8" fill="#000"/>
<line x1="184.3" y1="527.9" x2="184.3" y2="531.9" stroke="#999" stroke-width="0.8"/>
<circle cx="184.3" cy="529.9" r="4.1" fill="none" stroke="#808080" stroke-width="1"/>
<line x1="183.8" y1="526.4" x2="183.8" y2="541.4" stroke="#f04848" stroke-width="1.1"/>
<circle cx="183.8" cy="533.3" r="3.8" fill="#e00000"/>
<circle cx="168.8" cy="539.1" r="3.8" fill="#000"/>
<circle cx="168.8" cy="543" r="3.8" fill="#000"/>
<line x1="172.3" y1="548.7" x2="172.3" y2="552.7" stroke="#999" stroke-width="0.8"/>
<circle cx="172.3" cy="550.7" r="4.1" fill="none" stroke="#808080" stroke-width="1"/>
<line x1="176.4" y1="545.2" x2="176.4" y2="549.2" stroke="#999" stroke-width="0.8"/>
<circle cx="176.4" cy="547.2" r="4.1" fill="none" stroke="#808080" stroke-width="1"/>
<line x1="174.6" y1="553.3" x2="174.6" y2="557.3" stroke="#999" stroke-width="0.8"/>
<circle cx="174.6" cy="555.3" r="4.1" fill="none" stroke="#808080" stroke-width="1"/>
<line x1="171.6" y1="551" x2="171.6" y2="555" stroke="#999" stroke-width="0.8"/>
<circle cx="171.6" cy="553" r="4.1" fill="none" stroke="#808080" stroke-width="1"/>
<line x1="168.8" y1="560.7" x2="168.8" y2="564.7" stroke="#999" stroke-width="0.8"/>
<circle cx="168.8" cy="562.7" r="4.1" fill="none" stroke="#808080" stroke-width="1"/>
<line x1="166.5" y1="569.1" x2="166.5" y2="573.1" stroke="#999" stroke-width="0.8"/>
<circle cx="166.5" cy="571.1" r="4.1" fill="none" stroke="#808080" stroke-width="1"/>
<circle cx="179.9" cy="558.8" r="3.8" fill="#000"/>
<circle cx="178.5" cy="569.2" r="3.8" fill="#000"/>
<line x1="182" y1="561.4" x2="182" y2="565.4" stroke="#999" stroke-width="0.8"/>
<circle cx="182" cy="563.4" r="4.1" fill="none" stroke="#808080" stroke-width="1"/>
<line x1="184.3" y1="568.4" x2="184.3" y2="572.4" stroke="#999" stroke-width="0.8"/>
<circle cx="184.3" cy="570.4" r="4.1" fill="none" stroke="#808080" stroke-width="1"/>
<line x1="190.1" y1="573" x2="190.1" y2="577" stroke="#999" stroke-width="0.8"/>
<circle cx="190.1" cy="575" r="4.1" fill="none" stroke="#808080" stroke-width="1"/>
<circle cx="192.4" cy="567.4" r="3.8" fill="#000"/>
<circle cx="201.9" cy="544.4" r="3.8" fill="#000"/>
<circle cx="207.7" cy="542.1" r="3.8" fill="#000"/>
<line x1="208.1" y1="517" x2="208.1" y2="521" stroke="#999" stroke-width="0.8"/>
<circle cx="208.1" cy="519" r="4.1" fill="none" stroke="#808080" stroke-width="1"/>
<line x1="201.9" y1="549.2" x2="201.9" y2="553.2" stroke="#999" stroke-width="0.8"/>
<circle cx="201.9" cy="551.2" r="4.1" fill="none" stroke="#808080" stroke-width="1"/>
<line x1="204.7" y1="552.2" x2="204.7" y2="556.2" stroke="#999" stroke-width="0.8"/>
<circle cx="204.7" cy="554.2" r="4.1" fill="none" stroke="#808080" stroke-width="1"/>
<line x1="207.5" y1="559.6" x2="207.5" y2="563.6" stroke="#999" stroke-width="0.8"/>
<circle cx="207.5" cy="561.6" r="4.1" fill="none" stroke="#808080" stroke-width="1"/>
<line x1="204" y1="567.2" x2="204" y2="571.2" stroke="#999" stroke-width="0.8"/>
<circle cx="204" cy="569.2" r="4.1" fill="none" stroke="#808080" stroke-width="1"/>
<line x1="201.7" y1="573" x2="201.7" y2="577" stroke="#999" stroke-width="0.8"/>
<circle cx="201.7" cy="575" r="4.1" fill="none" stroke="#808080" stroke-width="1"/>
<line x1="204" y1="582.7" x2="204" y2="586.7" stroke="#999" stroke-width="0.8"/>
<circle cx="204" cy="584.7" r="4.1" fill="none" stroke="#808080" stroke-width="1"/>
<line x1="214" y1="453.7" x2="214" y2="514.2" stroke="#f04848" stroke-width="1.1"/>
<circle cx="214" cy="481.6" r="3.8" fill="#e00000"/>
<line x1="212.8" y1="489.5" x2="212.8" y2="521.6" stroke="#888" stroke-width="1.1"/>
<circle cx="212.8" cy="501.9" r="4.1" fill="none" stroke="#808080" stroke-width="1"/>
<line x1="209.1" y1="517.1" x2="209.1" y2="521.1" stroke="#999" stroke-width="0.8"/>
<circle cx="209.1" cy="519.1" r="4.1" fill="none" stroke="#808080" stroke-width="1"/>
<line x1="231.3" y1="475.9" x2="231.3" y2="515.4" stroke="#f04848" stroke-width="1.1"/>
<circle cx="231.3" cy="495.7" r="3.8" fill="#e00000"/>
<line x1="220.4" y1="514.2" x2="220.4" y2="556.2" stroke="#333" stroke-width="1.1"/>
<circle cx="220.4" cy="532.2" r="3.8" fill="#000"/>
<line x1="226.4" y1="525.8" x2="226.4" y2="529.8" stroke="#999" stroke-width="0.8"/>
<circle cx="226.4" cy="527.8" r="4.1" fill="none" stroke="#808080" stroke-width="1"/>
<line x1="229.1" y1="532.7" x2="229.1" y2="536.7" stroke="#999" stroke-width="0.8"/>
<circle cx="229.1" cy="534.7" r="4.1" fill="none" stroke="#808080" stroke-width="1"/>
<line x1="226.4" y1="539.9" x2="226.4" y2="543.9" stroke="#999" stroke-width="0.8"/>
<circle cx="226.4" cy="541.9" r="4.1" fill="none" stroke="#808080" stroke-width="1"/>
<line x1="237.5" y1="510.5" x2="237.5" y2="558.6" stroke="#f04848" stroke-width="1.1"/>
<circle cx="237.5" cy="535.2" r="3.8" fill="#e00000"/>
<line x1="211.8" y1="548" x2="211.8" y2="552" stroke="#999" stroke-width="0.8"/>
<circle cx="211.8" cy="550" r="4.1" fill="none" stroke="#808080" stroke-width="1"/>
<line x1="221.7" y1="552.9" x2="221.7" y2="556.9" stroke="#999" stroke-width="0.8"/>
<circle cx="221.7" cy="554.9" r="4.1" fill="none" stroke="#808080" stroke-width="1"/>
<line x1="229.6" y1="551.7" x2="229.6" y2="555.7" stroke="#999" stroke-width="0.8"/>
<circle cx="229.6" cy="553.7" r="4.1" fill="none" stroke="#808080" stroke-width="1"/>
<circle cx="216.7" cy="554.9" r="3.8" fill="#000"/>
<circle cx="235" cy="556.2" r="3.8" fill="#e00000"/>
<circle cx="232.5" cy="562.8" r="3.8" fill="#000"/>
<line x1="237" y1="560.3" x2="237" y2="564.3" stroke="#999" stroke-width="0.8"/>
<circle cx="237" cy="562.3" r="4.1" fill="none" stroke="#808080" stroke-width="1"/>
<line x1="207.8" y1="559.1" x2="207.8" y2="563.1" stroke="#999" stroke-width="0.8"/>
<circle cx="207.8" cy="561.1" r="4.1" fill="none" stroke="#808080" stroke-width="1"/>
<line x1="204.4" y1="566.5" x2="204.4" y2="570.5" stroke="#999" stroke-width="0.8"/>
<circle cx="204.4" cy="568.5" r="4.1" fill="none" stroke="#808080" stroke-width="1"/>
<line x1="202.4" y1="573.4" x2="202.4" y2="577.4" stroke="#999" stroke-width="0.8"/>
<circle cx="202.4" cy="575.4" r="4.1" fill="none" stroke="#808080" stroke-width="1"/>
<line x1="204.4" y1="582.6" x2="204.4" y2="586.6" stroke="#999" stroke-width="0.8"/>
<circle cx="204.4" cy="584.6" r="4.1" fill="none" stroke="#808080" stroke-width="1"/>
<line x1="212.8" y1="580.1" x2="212.8" y2="584.1" stroke="#999" stroke-width="0.8"/>
<circle cx="212.8" cy="582.1" r="4.1" fill="none" stroke="#808080" stroke-width="1"/>
<line x1="219.7" y1="576.4" x2="219.7" y2="580.4" stroke="#999" stroke-width="0.8"/>
<circle cx="219.7" cy="578.4" r="4.1" fill="none" stroke="#808080" stroke-width="1"/>
<circle cx="215.2" cy="576.4" r="3.8" fill="#e00000"/>
<line x1="232.5" y1="576.4" x2="232.5" y2="580.4" stroke="#999" stroke-width="0.8"/>
<circle cx="232.5" cy="578.4" r="4.1" fill="none" stroke="#808080" stroke-width="1"/>
<line x1="246.9" y1="549.2" x2="246.9" y2="553.2" stroke="#999" stroke-width="0.8"/>
<circle cx="246.9" cy="551.2" r="4.1" fill="none" stroke="#808080" stroke-width="1"/>
<line x1="251.3" y1="550.5" x2="251.3" y2="554.5" stroke="#999" stroke-width="0.8"/>
<circle cx="251.3" cy="552.5" r="4.1" fill="none" stroke="#808080" stroke-width="1"/>
<circle cx="248.6" cy="567.3" r="3.8" fill="#000"/>
<circle cx="251" cy="577.9" r="3.8" fill="#e00000"/>
<line x1="259.7" y1="524" x2="259.7" y2="558.6" stroke="#333" stroke-width="1.1"/>
<circle cx="259.7" cy="541.4" r="3.8" fill="#000"/>
<line x1="266.1" y1="483.3" x2="266.1" y2="524" stroke="#888" stroke-width="1.1"/>
<circle cx="266.1" cy="504.3" r="4.1" fill="none" stroke="#808080" stroke-width="1"/>
<line x1="265.9" y1="530.2" x2="265.9" y2="534.2" stroke="#999" stroke-width="0.8"/>
<circle cx="265.9" cy="532.2" r="4.1" fill="none" stroke="#808080" stroke-width="1"/>
<line x1="262.9" y1="549.2" x2="262.9" y2="553.2" stroke="#999" stroke-width="0.8"/>
<circle cx="262.9" cy="551.2" r="4.1" fill="none" stroke="#808080" stroke-width="1"/>
<line x1="257.5" y1="567.8" x2="257.5" y2="571.8" stroke="#999" stroke-width="0.8"/>
<circle cx="257.5" cy="569.8" r="4.1" fill="none" stroke="#808080" stroke-width="1"/>
<line x1="260.4" y1="575.2" x2="260.4" y2="579.2" stroke="#999" stroke-width="0.8"/>
<circle cx="260.4" cy="577.2" r="4.1" fill="none" stroke="#808080" stroke-width="1"/>
<circle cx="264.6" cy="576.4" r="3.8" fill="#e00000"/>
<line x1="267.1" y1="564" x2="267.1" y2="568" stroke="#999" stroke-width="0.8"/>
<circle cx="267.1" cy="566" r="4.1" fill="none" stroke="#808080" stroke-width="1"/>
<line x1="272" y1="527" x2="272" y2="566" stroke="#888" stroke-width="1.1"/>
<circle cx="272" cy="547.5" r="4.1" fill="none" stroke="#808080" stroke-width="1"/>
<line x1="276" y1="544.3" x2="276" y2="548.3" stroke="#999" stroke-width="0.8"/>
<circle cx="276" cy="546.3" r="4.1" fill="none" stroke="#808080" stroke-width="1"/>
<line x1="272.8" y1="561.6" x2="272.8" y2="565.6" stroke="#999" stroke-width="0.8"/>
<circle cx="272.8" cy="563.6" r="4.1" fill="none" stroke="#808080" stroke-width="1"/>
<circle cx="277" cy="556.9" r="3.8" fill="#e00000"/>
<circle cx="278.2" cy="565.3" r="3.8" fill="#000"/>
<line x1="286.4" y1="529" x2="286.4" y2="533" stroke="#999" stroke-width="0.8"/>
<circle cx="286.4" cy="531" r="4.1" fill="none" stroke="#808080" stroke-width="1"/>
<line x1="285.1" y1="545.5" x2="285.1" y2="549.5" stroke="#999" stroke-width="0.8"/>
<circle cx="285.1" cy="547.5" r="4.1" fill="none" stroke="#808080" stroke-width="1"/>
<line x1="290.1" y1="562.8" x2="290.1" y2="566.8" stroke="#999" stroke-width="0.8"/>
<circle cx="290.1" cy="564.8" r="4.1" fill="none" stroke="#808080" stroke-width="1"/>
<line x1="283.9" y1="573.9" x2="283.9" y2="577.9" stroke="#999" stroke-width="0.8"/>
<circle cx="283.9" cy="575.9" r="4.1" fill="none" stroke="#808080" stroke-width="1"/>
<line x1="287.1" y1="575.2" x2="287.1" y2="579.2" stroke="#999" stroke-width="0.8"/>
<circle cx="287.1" cy="577.2" r="4.1" fill="none" stroke="#808080" stroke-width="1"/>
<line x1="295" y1="534.4" x2="295" y2="538.4" stroke="#999" stroke-width="0.8"/>
<circle cx="295" cy="536.4" r="4.1" fill="none" stroke="#808080" stroke-width="1"/>
<line x1="293.8" y1="526.5" x2="293.8" y2="567.3" stroke="#f04848" stroke-width="1.1"/>
<circle cx="293.8" cy="550" r="3.8" fill="#e00000"/>
<line x1="293.8" y1="556.6" x2="293.8" y2="560.6" stroke="#999" stroke-width="0.8"/>
<circle cx="293.8" cy="558.6" r="4.1" fill="none" stroke="#808080" stroke-width="1"/>
<line x1="301.7" y1="559.1" x2="301.7" y2="563.1" stroke="#999" stroke-width="0.8"/>
<circle cx="301.7" cy="561.1" r="4.1" fill="none" stroke="#808080" stroke-width="1"/>
<circle cx="314" cy="585.1" r="3.8" fill="#000"/>
<line x1="80.8" y1="707.6" x2="80.8" y2="723.8" stroke="#f04848" stroke-width="1.1"/>
<circle cx="80.8" cy="715.7" r="3.8" fill="#e00000"/>
<circle cx="90.1" cy="708.8" r="3.8" fill="#000"/>
<circle cx="90.1" cy="715.7" r="3.8" fill="#000"/>
<line x1="95.9" y1="708.4" x2="95.9" y2="712.4" stroke="#999" stroke-width="0.8"/>
<circle cx="95.9" cy="710.4" r="4.1" fill="none" stroke="#808080" stroke-width="1"/>
<line x1="112.8" y1="721.1" x2="112.8" y2="725.1" stroke="#999" stroke-width="0.8"/>
<circle cx="112.8" cy="723.1" r="4.1" fill="none" stroke="#808080" stroke-width="1"/>
<line x1="120.9" y1="687.5" x2="120.9" y2="701.9" stroke="#333" stroke-width="1.1"/>
<circle cx="120.9" cy="694.9" r="3.8" fill="#000"/>
<line x1="131.3" y1="708" x2="131.3" y2="712" stroke="#999" stroke-width="0.8"/>
<circle cx="131.3" cy="710" r="4.1" fill="none" stroke="#808080" stroke-width="1"/>
<line x1="135.2" y1="689" x2="135.2" y2="704" stroke="#333" stroke-width="1.1"/>
<circle cx="135.2" cy="696.5" r="3.8" fill="#000"/>
<line x1="139.9" y1="699.9" x2="139.9" y2="703.9" stroke="#999" stroke-width="0.8"/>
<circle cx="139.9" cy="701.9" r="4.1" fill="none" stroke="#808080" stroke-width="1"/>
<line x1="139.9" y1="705.6" x2="139.9" y2="709.6" stroke="#999" stroke-width="0.8"/>
<circle cx="139.9" cy="707.6" r="4.1" fill="none" stroke="#808080" stroke-width="1"/>
<line x1="134.5" y1="696.4" x2="134.5" y2="700.4" stroke="#999" stroke-width="0.8"/>
<circle cx="134.5" cy="698.4" r="4.1" fill="none" stroke="#808080" stroke-width="1"/>
<line x1="150.7" y1="698" x2="150.7" y2="702" stroke="#999" stroke-width="0.8"/>
<circle cx="150.7" cy="700" r="4.1" fill="none" stroke="#808080" stroke-width="1"/>
<line x1="155.4" y1="692.6" x2="155.4" y2="705.3" stroke="#333" stroke-width="1.1"/>
<circle cx="155.4" cy="699.5" r="3.8" fill="#000"/>
<line x1="155.4" y1="718.4" x2="155.4" y2="722.4" stroke="#999" stroke-width="0.8"/>
<circle cx="155.4" cy="720.4" r="4.1" fill="none" stroke="#808080" stroke-width="1"/>
<line x1="162.5" y1="667" x2="162.5" y2="734.3" stroke="#f04848" stroke-width="1.1"/>
<circle cx="162.5" cy="700.7" r="3.8" fill="#e00000"/>
<line x1="168.8" y1="662.5" x2="168.8" y2="697.2" stroke="#333" stroke-width="1.1"/>
<circle cx="168.8" cy="679.4" r="3.8" fill="#000"/>
<circle cx="168.8" cy="698.4" r="3.8" fill="#000"/>
<line x1="166.5" y1="689.4" x2="166.5" y2="693.4" stroke="#999" stroke-width="0.8"/>
<circle cx="166.5" cy="691.4" r="4.1" fill="none" stroke="#808080" stroke-width="1"/>
<line x1="166.5" y1="699.9" x2="166.5" y2="703.9" stroke="#999" stroke-width="0.8"/>
<circle cx="166.5" cy="701.9" r="4.1" fill="none" stroke="#808080" stroke-width="1"/>
<circle cx="171.6" cy="694.9" r="3.8" fill="#e00000"/>
<line x1="176.4" y1="642.8" x2="176.4" y2="706.5" stroke="#333" stroke-width="1.1"/>
<circle cx="176.4" cy="668.8" r="3.8" fill="#000"/>
<line x1="173.4" y1="699.9" x2="173.4" y2="703.9" stroke="#999" stroke-width="0.8"/>
<circle cx="173.4" cy="701.9" r="4.1" fill="none" stroke="#808080" stroke-width="1"/>
<line x1="174.6" y1="709" x2="174.6" y2="713" stroke="#999" stroke-width="0.8"/>
<circle cx="174.6" cy="711" r="4.1" fill="none" stroke="#808080" stroke-width="1"/>
<circle cx="179.2" cy="701.9" r="3.8" fill="#000"/>
<circle cx="179.9" cy="704.6" r="3.8" fill="#000"/>
<circle cx="179.9" cy="714.1" r="3.8" fill="#000"/>
<line x1="184.3" y1="713.7" x2="184.3" y2="717.7" stroke="#999" stroke-width="0.8"/>
<circle cx="184.3" cy="715.7" r="4.1" fill="none" stroke="#808080" stroke-width="1"/>
<line x1="184.3" y1="719.5" x2="184.3" y2="723.5" stroke="#999" stroke-width="0.8"/>
<circle cx="184.3" cy="721.5" r="4.1" fill="none" stroke="#808080" stroke-width="1"/>
<line x1="183.8" y1="628.9" x2="183.8" y2="664.8" stroke="#f04848" stroke-width="1.1"/>
<circle cx="183.8" cy="646.8" r="3.8" fill="#e00000"/>
<line x1="188.5" y1="695.2" x2="188.5" y2="699.2" stroke="#999" stroke-width="0.8"/>
<circle cx="188.5" cy="697.2" r="4.1" fill="none" stroke="#808080" stroke-width="1"/>
<line x1="192.4" y1="686.8" x2="192.4" y2="708.8" stroke="#333" stroke-width="1.1"/>
<circle cx="192.4" cy="698.4" r="3.8" fill="#000"/>
<line x1="203.5" y1="679" x2="203.5" y2="683" stroke="#999" stroke-width="0.8"/>
<circle cx="203.5" cy="681" r="4.1" fill="none" stroke="#808080" stroke-width="1"/>
<circle cx="201.9" cy="708.8" r="3.8" fill="#444"/>
<line x1="201.7" y1="711.4" x2="201.7" y2="715.4" stroke="#999" stroke-width="0.8"/>
<circle cx="201.7" cy="713.4" r="4.1" fill="none" stroke="#808080" stroke-width="1"/>
<line x1="203.5" y1="718.4" x2="203.5" y2="722.4" stroke="#999" stroke-width="0.8"/>
<circle cx="203.5" cy="720.4" r="4.1" fill="none" stroke="#808080" stroke-width="1"/>
<circle cx="207.5" cy="722.2" r="3.8" fill="#000"/>
<line x1="209.3" y1="693" x2="209.3" y2="697" stroke="#999" stroke-width="0.8"/>
<circle cx="209.3" cy="695" r="4.1" fill="none" stroke="#808080" stroke-width="1"/>
<line x1="204.9" y1="711.6" x2="204.9" y2="715.6" stroke="#999" stroke-width="0.8"/>
<circle cx="204.9" cy="713.6" r="4.1" fill="none" stroke="#808080" stroke-width="1"/>
<line x1="204.4" y1="719" x2="204.4" y2="723" stroke="#999" stroke-width="0.8"/>
<circle cx="204.4" cy="721" r="4.1" fill="none" stroke="#808080" stroke-width="1"/>
<circle cx="207.8" cy="722.2" r="3.8" fill="#000"/>
<line x1="211" y1="693" x2="211" y2="697" stroke="#999" stroke-width="0.8"/>
<circle cx="211" cy="695" r="4.1" fill="none" stroke="#808080" stroke-width="1"/>
<line x1="213.5" y1="713.6" x2="213.5" y2="717.6" stroke="#999" stroke-width="0.8"/>
<circle cx="213.5" cy="715.6" r="4.1" fill="none" stroke="#808080" stroke-width="1"/>
<line x1="214" y1="690" x2="214" y2="711" stroke="#f04848" stroke-width="1.1"/>
<circle cx="214" cy="700" r="3.8" fill="#e00000"/>
<circle cx="215.2" cy="717.3" r="3.8" fill="#e00000"/>
<line x1="216.7" y1="664" x2="216.7" y2="684" stroke="#333" stroke-width="1.1"/>
<circle cx="216.7" cy="682.7" r="3.8" fill="#000"/>
<circle cx="220.4" cy="691.9" r="3.8" fill="#000"/>
<line x1="219.7" y1="719" x2="219.7" y2="723" stroke="#999" stroke-width="0.8"/>
<circle cx="219.7" cy="721" r="4.1" fill="none" stroke="#808080" stroke-width="1"/>
<line x1="220.9" y1="706.6" x2="220.9" y2="710.6" stroke="#999" stroke-width="0.8"/>
<circle cx="220.9" cy="708.6" r="4.1" fill="none" stroke="#808080" stroke-width="1"/>
<line x1="226.6" y1="677" x2="226.6" y2="681" stroke="#999" stroke-width="0.8"/>
<circle cx="226.6" cy="679" r="4.1" fill="none" stroke="#808080" stroke-width="1"/>
<line x1="225.9" y1="696.8" x2="225.9" y2="700.8" stroke="#999" stroke-width="0.8"/>
<circle cx="225.9" cy="698.8" r="4.1" fill="none" stroke="#808080" stroke-width="1"/>
<line x1="229.6" y1="693" x2="229.6" y2="697" stroke="#999" stroke-width="0.8"/>
<circle cx="229.6" cy="695" r="4.1" fill="none" stroke="#808080" stroke-width="1"/>
<line x1="230.3" y1="709.1" x2="230.3" y2="713.1" stroke="#999" stroke-width="0.8"/>
<circle cx="230.3" cy="711.1" r="4.1" fill="none" stroke="#808080" stroke-width="1"/>
<line x1="233.3" y1="714" x2="233.3" y2="718" stroke="#999" stroke-width="0.8"/>
<circle cx="233.3" cy="716" r="4.1" fill="none" stroke="#808080" stroke-width="1"/>
<line x1="236.5" y1="698" x2="236.5" y2="702" stroke="#999" stroke-width="0.8"/>
<circle cx="236.5" cy="700" r="4.1" fill="none" stroke="#808080" stroke-width="1"/>
<line x1="234" y1="695.5" x2="234" y2="699.5" stroke="#999" stroke-width="0.8"/>
<circle cx="234" cy="697.5" r="4.1" fill="none" stroke="#808080" stroke-width="1"/>
<line x1="231.3" y1="678.5" x2="231.3" y2="701.2" stroke="#f04848" stroke-width="1.1"/>
<circle cx="231.3" cy="690.6" r="3.8" fill="#e00000"/>
<line x1="237.5" y1="648" x2="237.5" y2="682.7" stroke="#f04848" stroke-width="1.1"/>
<circle cx="237.5" cy="665.4" r="3.8" fill="#e00000"/>
<circle cx="232.5" cy="721.7" r="3.8" fill="#000"/>
<circle cx="235" cy="725.9" r="3.8" fill="#e00000"/>
<circle cx="248.6" cy="719" r="3.8" fill="#000"/>
<line x1="246.9" y1="717.3" x2="246.9" y2="721.3" stroke="#999" stroke-width="0.8"/>
<circle cx="246.9" cy="719.3" r="4.1" fill="none" stroke="#808080" stroke-width="1"/>
<circle cx="251" cy="717.8" r="3.8" fill="#e00000"/>
<line x1="259.7" y1="602.5" x2="259.7" y2="654.3" stroke="#333" stroke-width="1.1"/>
<circle cx="259.7" cy="619.3" r="3.8" fill="#000"/>
<line x1="256.7" y1="711.1" x2="256.7" y2="715.1" stroke="#999" stroke-width="0.8"/>
<circle cx="256.7" cy="713.1" r="4.1" fill="none" stroke="#808080" stroke-width="1"/>
<line x1="260.4" y1="716" x2="260.4" y2="720" stroke="#999" stroke-width="0.8"/>
<circle cx="260.4" cy="718" r="4.1" fill="none" stroke="#808080" stroke-width="1"/>
<line x1="264.1" y1="714" x2="264.1" y2="718" stroke="#999" stroke-width="0.8"/>
<circle cx="264.1" cy="716" r="4.1" fill="none" stroke="#808080" stroke-width="1"/>
<line x1="265.4" y1="703" x2="265.4" y2="707" stroke="#999" stroke-width="0.8"/>
<circle cx="265.4" cy="705" r="4.1" fill="none" stroke="#808080" stroke-width="1"/>
<circle cx="264.6" cy="708.6" r="3.8" fill="#e00000"/>
<line x1="265.9" y1="688.1" x2="265.9" y2="692.1" stroke="#999" stroke-width="0.8"/>
<circle cx="265.9" cy="690.1" r="4.1" fill="none" stroke="#808080" stroke-width="1"/>
<line x1="272" y1="684.4" x2="272" y2="688.4" stroke="#999" stroke-width="0.8"/>
<circle cx="272" cy="686.4" r="4.1" fill="none" stroke="#808080" stroke-width="1"/>
<line x1="276" y1="682" x2="276" y2="686" stroke="#999" stroke-width="0.8"/>
<circle cx="276" cy="684" r="4.1" fill="none" stroke="#808080" stroke-width="1"/>
<line x1="273.3" y1="717" x2="273.3" y2="721" stroke="#999" stroke-width="0.8"/>
<circle cx="273.3" cy="719" r="4.1" fill="none" stroke="#808080" stroke-width="1"/>
<circle cx="278.2" cy="701.7" r="3.8" fill="#000"/>
<circle cx="277" cy="706.7" r="3.8" fill="#e00000"/>
<line x1="283.9" y1="710.3" x2="283.9" y2="714.3" stroke="#999" stroke-width="0.8"/>
<circle cx="283.9" cy="712.3" r="4.1" fill="none" stroke="#808080" stroke-width="1"/>
<line x1="286.4" y1="712.8" x2="286.4" y2="716.8" stroke="#999" stroke-width="0.8"/>
<circle cx="286.4" cy="714.8" r="4.1" fill="none" stroke="#808080" stroke-width="1"/>
<line x1="285.1" y1="696.8" x2="285.1" y2="700.8" stroke="#999" stroke-width="0.8"/>
<circle cx="285.1" cy="698.8" r="4.1" fill="none" stroke="#808080" stroke-width="1"/>
<line x1="290.1" y1="691.8" x2="290.1" y2="695.8" stroke="#999" stroke-width="0.8"/>
<circle cx="290.1" cy="693.8" r="4.1" fill="none" stroke="#808080" stroke-width="1"/>
<line x1="294.5" y1="692.6" x2="294.5" y2="696.6" stroke="#999" stroke-width="0.8"/>
<circle cx="294.5" cy="694.6" r="4.1" fill="none" stroke="#808080" stroke-width="1"/>
<line x1="295" y1="706.6" x2="295" y2="710.6" stroke="#999" stroke-width="0.8"/>
<circle cx="295" cy="708.6" r="4.1" fill="none" stroke="#808080" stroke-width="1"/>
<line x1="301.7" y1="709.1" x2="301.7" y2="713.1" stroke="#999" stroke-width="0.8"/>
<circle cx="301.7" cy="711.1" r="4.1" fill="none" stroke="#808080" stroke-width="1"/>
<line x1="293.8" y1="710" x2="293.8" y2="725" stroke="#f04848" stroke-width="1.1"/>
<circle cx="293.8" cy="717.3" r="3.8" fill="#e00000"/>
<circle cx="314" cy="726.7" r="3.8" fill="#000"/>
<line x1="80.8" y1="789.2" x2="80.8" y2="808.6" stroke="#f04848" stroke-width="1.1"/>
<circle cx="80.8" cy="798.9" r="3.8" fill="#e00000"/>
<line x1="90.1" y1="773.5" x2="90.1" y2="799" stroke="#333" stroke-width="1.1"/>
<circle cx="90.1" cy="778.8" r="3.8" fill="#000"/>
<circle cx="90.1" cy="792" r="3.8" fill="#000"/>
<line x1="95.2" y1="765.4" x2="95.2" y2="778.1" stroke="#888" stroke-width="1.1"/>
<circle cx="95.2" cy="772.3" r="4.1" fill="none" stroke="#808080" stroke-width="1"/>
<line x1="112.8" y1="817.4" x2="112.8" y2="840.6" stroke="#888" stroke-width="1.1"/>
<circle cx="112.8" cy="829" r="4.1" fill="none" stroke="#808080" stroke-width="1"/>
<line x1="120.9" y1="760.7" x2="120.9" y2="780.4" stroke="#333" stroke-width="1.1"/>
<circle cx="120.9" cy="770.5" r="3.8" fill="#000"/>
<line x1="131.3" y1="812" x2="131.3" y2="816" stroke="#999" stroke-width="0.8"/>
<circle cx="131.3" cy="814" r="4.1" fill="none" stroke="#808080" stroke-width="1"/>
<line x1="135.9" y1="772.3" x2="135.9" y2="792" stroke="#333" stroke-width="1.1"/>
<circle cx="135.9" cy="782.3" r="3.8" fill="#000"/>
<line x1="134.5" y1="845.1" x2="134.5" y2="849.1" stroke="#999" stroke-width="0.8"/>
<circle cx="134.5" cy="847.1" r="4.1" fill="none" stroke="#808080" stroke-width="1"/>
<line x1="139.4" y1="830.5" x2="139.4" y2="834.5" stroke="#999" stroke-width="0.8"/>
<circle cx="139.4" cy="832.5" r="4.1" fill="none" stroke="#808080" stroke-width="1"/>
<line x1="155.4" y1="757.3" x2="155.4" y2="790.8" stroke="#333" stroke-width="1.1"/>
<circle cx="155.4" cy="772.3" r="3.8" fill="#000"/>
<line x1="151.9" y1="751.8" x2="151.9" y2="755.8" stroke="#999" stroke-width="0.8"/>
<circle cx="151.9" cy="753.8" r="4.1" fill="none" stroke="#808080" stroke-width="1"/>
<line x1="155.4" y1="804.7" x2="155.4" y2="830" stroke="#888" stroke-width="1.1"/>
<circle cx="155.4" cy="816.8" r="4.1" fill="none" stroke="#808080" stroke-width="1"/>
<line x1="162.5" y1="776.9" x2="162.5" y2="800" stroke="#f04848" stroke-width="1.1"/>
<circle cx="162.5" cy="789" r="3.8" fill="#e00000"/>
<line x1="168.8" y1="763.4" x2="168.8" y2="767.4" stroke="#999" stroke-width="0.8"/>
<circle cx="168.8" cy="765.4" r="4.1" fill="none" stroke="#808080" stroke-width="1"/>
<line x1="174.6" y1="775.4" x2="174.6" y2="779.4" stroke="#999" stroke-width="0.8"/>
<circle cx="174.6" cy="777.4" r="4.1" fill="none" stroke="#808080" stroke-width="1"/>
<circle cx="176.4" cy="758.4" r="3.8" fill="#000"/>
<circle cx="179.9" cy="764.2" r="3.8" fill="#000"/>
<circle cx="171.6" cy="794.3" r="3.8" fill="#e00000"/>
<circle cx="168.8" cy="795.9" r="3.8" fill="#000"/>
<circle cx="168.8" cy="810.5" r="3.8" fill="#000"/>
<circle cx="178.5" cy="808.6" r="3.8" fill="#000"/>
<line x1="183.8" y1="760.7" x2="183.8" y2="810.5" stroke="#f04848" stroke-width="1.1"/>
<circle cx="183.8" cy="786.9" r="3.8" fill="#e00000"/>
<line x1="183.1" y1="781.9" x2="183.1" y2="785.9" stroke="#999" stroke-width="0.8"/>
<circle cx="183.1" cy="783.9" r="4.1" fill="none" stroke="#808080" stroke-width="1"/>
<line x1="180.8" y1="812.4" x2="180.8" y2="816.4" stroke="#999" stroke-width="0.8"/>
<circle cx="180.8" cy="814.4" r="4.1" fill="none" stroke="#808080" stroke-width="1"/>
<line x1="166.5" y1="827" x2="166.5" y2="831" stroke="#999" stroke-width="0.8"/>
<circle cx="166.5" cy="829" r="4.1" fill="none" stroke="#808080" stroke-width="1"/>
<line x1="166.5" y1="831.6" x2="166.5" y2="835.6" stroke="#999" stroke-width="0.8"/>
<circle cx="166.5" cy="833.6" r="4.1" fill="none" stroke="#808080" stroke-width="1"/>
<line x1="172.7" y1="824.7" x2="172.7" y2="828.7" stroke="#999" stroke-width="0.8"/>
<circle cx="172.7" cy="826.7" r="4.1" fill="none" stroke="#808080" stroke-width="1"/>
<line x1="176.4" y1="839.8" x2="176.4" y2="843.8" stroke="#999" stroke-width="0.8"/>
<circle cx="176.4" cy="841.8" r="4.1" fill="none" stroke="#808080" stroke-width="1"/>
<line x1="176.4" y1="845.5" x2="176.4" y2="849.5" stroke="#999" stroke-width="0.8"/>
<circle cx="176.4" cy="847.5" r="4.1" fill="none" stroke="#808080" stroke-width="1"/>
<line x1="183.1" y1="831.6" x2="183.1" y2="835.6" stroke="#999" stroke-width="0.8"/>
<circle cx="183.1" cy="833.6" r="4.1" fill="none" stroke="#808080" stroke-width="1"/>
<line x1="190.1" y1="832.8" x2="190.1" y2="836.8" stroke="#999" stroke-width="0.8"/>
<circle cx="190.1" cy="834.8" r="4.1" fill="none" stroke="#808080" stroke-width="1"/>
<circle cx="193.1" cy="800.8" r="3.8" fill="#000"/>
<line x1="192.4" y1="839.4" x2="192.4" y2="868.4" stroke="#333" stroke-width="1.1"/>
<circle cx="192.4" cy="852.2" r="3.8" fill="#000"/>
<line x1="202.8" y1="756.4" x2="202.8" y2="760.4" stroke="#999" stroke-width="0.8"/>
<circle cx="202.8" cy="758.4" r="4.1" fill="none" stroke="#808080" stroke-width="1"/>
<line x1="204.7" y1="768.5" x2="204.7" y2="772.5" stroke="#999" stroke-width="0.8"/>
<circle cx="204.7" cy="770.5" r="4.1" fill="none" stroke="#808080" stroke-width="1"/>
<line x1="207" y1="781.9" x2="207" y2="785.9" stroke="#999" stroke-width="0.8"/>
<circle cx="207" cy="783.9" r="4.1" fill="none" stroke="#808080" stroke-width="1"/>
<circle cx="201.9" cy="823.7" r="3.8" fill="#000"/>
<line x1="205.4" y1="825.4" x2="205.4" y2="829.4" stroke="#999" stroke-width="0.8"/>
<circle cx="205.4" cy="827.4" r="4.1" fill="none" stroke="#808080" stroke-width="1"/>
<circle cx="207.5" cy="840.6" r="3.8" fill="#000"/>
<line x1="202.4" y1="859" x2="202.4" y2="884.6" stroke="#888" stroke-width="1.1"/>
<circle cx="202.4" cy="871.8" r="4.1" fill="none" stroke="#808080" stroke-width="1"/>
<line x1="203.6" y1="757.1" x2="203.6" y2="761.1" stroke="#999" stroke-width="0.8"/>
<circle cx="203.6" cy="759.1" r="4.1" fill="none" stroke="#808080" stroke-width="1"/>
<line x1="204.4" y1="768.7" x2="204.4" y2="772.7" stroke="#999" stroke-width="0.8"/>
<circle cx="204.4" cy="770.7" r="4.1" fill="none" stroke="#808080" stroke-width="1"/>
<line x1="207.8" y1="781.8" x2="207.8" y2="785.8" stroke="#999" stroke-width="0.8"/>
<circle cx="207.8" cy="783.8" r="4.1" fill="none" stroke="#808080" stroke-width="1"/>
<line x1="212.8" y1="760.3" x2="212.8" y2="764.3" stroke="#999" stroke-width="0.8"/>
<circle cx="212.8" cy="762.3" r="4.1" fill="none" stroke="#808080" stroke-width="1"/>
<line x1="214" y1="751.7" x2="214" y2="797.4" stroke="#f04848" stroke-width="1.1"/>
<circle cx="214" cy="769" r="3.8" fill="#e00000"/>
<circle cx="215.2" cy="778.9" r="3.8" fill="#e00000"/>
<circle cx="216.7" cy="800.6" r="3.8" fill="#000"/>
<line x1="212.8" y1="806.5" x2="212.8" y2="810.5" stroke="#999" stroke-width="0.8"/>
<circle cx="212.8" cy="808.5" r="4.1" fill="none" stroke="#808080" stroke-width="1"/>
<line x1="219.2" y1="805.3" x2="219.2" y2="809.3" stroke="#999" stroke-width="0.8"/>
<circle cx="219.2" cy="807.3" r="4.1" fill="none" stroke="#808080" stroke-width="1"/>
<line x1="220.4" y1="796" x2="220.4" y2="839.4" stroke="#333" stroke-width="1.1"/>
<circle cx="220.4" cy="815.2" r="3.8" fill="#000"/>
<line x1="220.9" y1="788.5" x2="220.9" y2="792.5" stroke="#999" stroke-width="0.8"/>
<circle cx="220.9" cy="790.5" r="4.1" fill="none" stroke="#808080" stroke-width="1"/>
<line x1="226.6" y1="788.5" x2="226.6" y2="792.5" stroke="#999" stroke-width="0.8"/>
<circle cx="226.6" cy="790.5" r="4.1" fill="none" stroke="#808080" stroke-width="1"/>
<line x1="230.3" y1="779.3" x2="230.3" y2="783.3" stroke="#999" stroke-width="0.8"/>
<circle cx="230.3" cy="781.3" r="4.1" fill="none" stroke="#808080" stroke-width="1"/>
<line x1="232" y1="757.1" x2="232" y2="761.1" stroke="#999" stroke-width="0.8"/>
<circle cx="232" cy="759.1" r="4.1" fill="none" stroke="#808080" stroke-width="1"/>
<line x1="232.5" y1="764.5" x2="232.5" y2="768.5" stroke="#999" stroke-width="0.8"/>
<circle cx="232.5" cy="766.5" r="4.1" fill="none" stroke="#808080" stroke-width="1"/>
<circle cx="235" cy="760.3" r="3.8" fill="#e00000"/>
<line x1="237.5" y1="751.7" x2="237.5" y2="771.5" stroke="#f04848" stroke-width="1.1"/>
<circle cx="237.5" cy="752.4" r="3.8" fill="#e00000"/>
<circle cx="232.5" cy="787" r="3.8" fill="#000"/>
<line x1="229.6" y1="812.7" x2="229.6" y2="816.7" stroke="#999" stroke-width="0.8"/>
<circle cx="229.6" cy="814.7" r="4.1" fill="none" stroke="#808080" stroke-width="1"/>
<line x1="231.3" y1="792.4" x2="231.3" y2="812.2" stroke="#f04848" stroke-width="1.1"/>
<circle cx="231.3" cy="803.6" r="3.8" fill="#e00000"/>
<line x1="236.5" y1="830" x2="236.5" y2="834" stroke="#999" stroke-width="0.8"/>
<circle cx="236.5" cy="832" r="4.1" fill="none" stroke="#808080" stroke-width="1"/>
<line x1="202.4" y1="825" x2="202.4" y2="829" stroke="#999" stroke-width="0.8"/>
<circle cx="202.4" cy="827" r="4.1" fill="none" stroke="#808080" stroke-width="1"/>
<line x1="205.4" y1="827.5" x2="205.4" y2="831.5" stroke="#999" stroke-width="0.8"/>
<circle cx="205.4" cy="829.5" r="4.1" fill="none" stroke="#808080" stroke-width="1"/>
<line x1="209.8" y1="830" x2="209.8" y2="834" stroke="#999" stroke-width="0.8"/>
<circle cx="209.8" cy="832" r="4.1" fill="none" stroke="#808080" stroke-width="1"/>
<circle cx="201.9" cy="823.8" r="3.8" fill="#000"/>
<circle cx="208.6" cy="840.6" r="3.8" fill="#000"/>
<line x1="211.8" y1="854.6" x2="211.8" y2="858.6" stroke="#999" stroke-width="0.8"/>
<circle cx="211.8" cy="856.6" r="4.1" fill="none" stroke="#808080" stroke-width="1"/>
<line x1="201.9" y1="869.5" x2="201.9" y2="873.5" stroke="#999" stroke-width="0.8"/>
<circle cx="201.9" cy="871.5" r="4.1" fill="none" stroke="#808080" stroke-width="1"/>
<line x1="226.6" y1="839" x2="226.6" y2="864" stroke="#888" stroke-width="1.1"/>
<circle cx="226.6" cy="851.7" r="4.1" fill="none" stroke="#808080" stroke-width="1"/>
<line x1="246.9" y1="788.5" x2="246.9" y2="792.5" stroke="#999" stroke-width="0.8"/>
<circle cx="246.9" cy="790.5" r="4.1" fill="none" stroke="#808080" stroke-width="1"/>
<circle cx="251" cy="786.8" r="3.8" fill="#e00000"/>
<line x1="248.6" y1="782.6" x2="248.6" y2="817.1" stroke="#333" stroke-width="1.1"/>
<circle cx="248.6" cy="800.6" r="3.8" fill="#000"/>
<line x1="251.3" y1="818.1" x2="251.3" y2="822.1" stroke="#999" stroke-width="0.8"/>
<circle cx="251.3" cy="820.1" r="4.1" fill="none" stroke="#808080" stroke-width="1"/>
<circle cx="259.7" cy="793.7" r="3.8" fill="#000"/>
<line x1="260.4" y1="756.4" x2="260.4" y2="760.4" stroke="#999" stroke-width="0.8"/>
<circle cx="260.4" cy="758.4" r="4.1" fill="none" stroke="#808080" stroke-width="1"/>
<line x1="264.6" y1="751.7" x2="264.6" y2="766.5" stroke="#f04848" stroke-width="1.1"/>
<circle cx="264.6" cy="755.4" r="3.8" fill="#e00000"/>
<line x1="265.9" y1="781.8" x2="265.9" y2="785.8" stroke="#999" stroke-width="0.8"/>
<circle cx="265.9" cy="783.8" r="4.1" fill="none" stroke="#808080" stroke-width="1"/>
<line x1="272" y1="781.8" x2="272" y2="785.8" stroke="#999" stroke-width="0.8"/>
<circle cx="272" cy="783.8" r="4.1" fill="none" stroke="#808080" stroke-width="1"/>
<line x1="265.9" y1="806.5" x2="265.9" y2="810.5" stroke="#999" stroke-width="0.8"/>
<circle cx="265.9" cy="808.5" r="4.1" fill="none" stroke="#808080" stroke-width="1"/>
<line x1="266.6" y1="811.4" x2="266.6" y2="815.4" stroke="#999" stroke-width="0.8"/>
<circle cx="266.6" cy="813.4" r="4.1" fill="none" stroke="#808080" stroke-width="1"/>
<line x1="263.6" y1="823.8" x2="263.6" y2="827.8" stroke="#999" stroke-width="0.8"/>
<circle cx="263.6" cy="825.8" r="4.1" fill="none" stroke="#808080" stroke-width="1"/>
<line x1="264.6" y1="828.7" x2="264.6" y2="832.7" stroke="#999" stroke-width="0.8"/>
<circle cx="264.6" cy="830.7" r="4.1" fill="none" stroke="#808080" stroke-width="1"/>
<line x1="271.5" y1="767" x2="271.5" y2="771" stroke="#999" stroke-width="0.8"/>
<circle cx="271.5" cy="769" r="4.1" fill="none" stroke="#808080" stroke-width="1"/>
<line x1="277" y1="751.7" x2="277" y2="786.3" stroke="#f04848" stroke-width="1.1"/>
<circle cx="277" cy="769" r="3.8" fill="#e00000"/>
<line x1="275.2" y1="810.2" x2="275.2" y2="814.2" stroke="#999" stroke-width="0.8"/>
<circle cx="275.2" cy="812.2" r="4.1" fill="none" stroke="#808080" stroke-width="1"/>
<circle cx="278.2" cy="812.2" r="3.8" fill="#000"/>
<line x1="285.1" y1="796.6" x2="285.1" y2="800.6" stroke="#999" stroke-width="0.8"/>
<circle cx="285.1" cy="798.6" r="4.1" fill="none" stroke="#808080" stroke-width="1"/>
<line x1="286.9" y1="796.6" x2="286.9" y2="800.6" stroke="#999" stroke-width="0.8"/>
<circle cx="286.9" cy="798.6" r="4.1" fill="none" stroke="#808080" stroke-width="1"/>
<line x1="286.4" y1="834.9" x2="286.4" y2="838.9" stroke="#999" stroke-width="0.8"/>
<circle cx="286.4" cy="836.9" r="4.1" fill="none" stroke="#808080" stroke-width="1"/>
<line x1="290.1" y1="854.6" x2="290.1" y2="858.6" stroke="#999" stroke-width="0.8"/>
<circle cx="290.1" cy="856.6" r="4.1" fill="none" stroke="#808080" stroke-width="1"/>
<line x1="284.4" y1="868.2" x2="284.4" y2="872.2" stroke="#999" stroke-width="0.8"/>
<circle cx="284.4" cy="870.2" r="4.1" fill="none" stroke="#808080" stroke-width="1"/>
<line x1="294.3" y1="765.3" x2="294.3" y2="769.3" stroke="#999" stroke-width="0.8"/>
<circle cx="294.3" cy="767.3" r="4.1" fill="none" stroke="#808080" stroke-width="1"/>
<line x1="295" y1="781.8" x2="295" y2="785.8" stroke="#999" stroke-width="0.8"/>
<circle cx="295" cy="783.8" r="4.1" fill="none" stroke="#808080" stroke-width="1"/>
<line x1="293.8" y1="787.5" x2="293.8" y2="833.2" stroke="#f04848" stroke-width="1.1"/>
<circle cx="293.8" cy="799.1" r="3.8" fill="#e00000"/>
<line x1="301.2" y1="811.9" x2="301.2" y2="815.9" stroke="#999" stroke-width="0.8"/>
<circle cx="301.2" cy="813.9" r="4.1" fill="none" stroke="#808080" stroke-width="1"/>
<line x1="314" y1="808.5" x2="314" y2="822" stroke="#333" stroke-width="1.1"/>
<circle cx="314" cy="815.2" r="3.8" fill="#000"/>
<circle cx="471.7" cy="61.1" r="3.8" fill="#000"/>
<line x1="466.8" y1="65.8" x2="466.8" y2="69.8" stroke="#999" stroke-width="0.8"/>
<circle cx="466.8" cy="67.8" r="4.1" fill="none" stroke="#808080" stroke-width="1"/>
<line x1="452.9" y1="69" x2="452.9" y2="80" stroke="#888" stroke-width="1.1"/>
<circle cx="452.9" cy="74.7" r="4.1" fill="none" stroke="#808080" stroke-width="1"/>
<line x1="471.4" y1="71.2" x2="471.4" y2="75.2" stroke="#999" stroke-width="0.8"/>
<circle cx="471.4" cy="73.2" r="4.1" fill="none" stroke="#808080" stroke-width="1"/>
<line x1="475.2" y1="73.5" x2="475.2" y2="77.5" stroke="#999" stroke-width="0.8"/>
<circle cx="475.2" cy="75.5" r="4.1" fill="none" stroke="#808080" stroke-width="1"/>
<line x1="448.2" y1="87.4" x2="448.2" y2="91.4" stroke="#999" stroke-width="0.8"/>
<circle cx="448.2" cy="89.4" r="4.1" fill="none" stroke="#808080" stroke-width="1"/>
<line x1="451.3" y1="85.8" x2="451.3" y2="89.8" stroke="#999" stroke-width="0.8"/>
<circle cx="451.3" cy="87.8" r="4.1" fill="none" stroke="#808080" stroke-width="1"/>
<line x1="455.2" y1="84.3" x2="455.2" y2="88.3" stroke="#999" stroke-width="0.8"/>
<circle cx="455.2" cy="86.3" r="4.1" fill="none" stroke="#808080" stroke-width="1"/>
<line x1="458.3" y1="87.4" x2="458.3" y2="91.4" stroke="#999" stroke-width="0.8"/>
<circle cx="458.3" cy="89.4" r="4.1" fill="none" stroke="#808080" stroke-width="1"/>
<line x1="449.8" y1="91.2" x2="449.8" y2="95.2" stroke="#999" stroke-width="0.8"/>
<circle cx="449.8" cy="93.2" r="4.1" fill="none" stroke="#808080" stroke-width="1"/>
<line x1="454.4" y1="92" x2="454.4" y2="96" stroke="#999" stroke-width="0.8"/>
<circle cx="454.4" cy="94" r="4.1" fill="none" stroke="#808080" stroke-width="1"/>
<line x1="459.8" y1="91.2" x2="459.8" y2="95.2" stroke="#999" stroke-width="0.8"/>
<circle cx="459.8" cy="93.2" r="4.1" fill="none" stroke="#808080" stroke-width="1"/>
<line x1="467.5" y1="84.3" x2="467.5" y2="88.3" stroke="#999" stroke-width="0.8"/>
<circle cx="467.5" cy="86.3" r="4.1" fill="none" stroke="#808080" stroke-width="1"/>
<line x1="472.2" y1="85.8" x2="472.2" y2="89.8" stroke="#999" stroke-width="0.8"/>
<circle cx="472.2" cy="87.8" r="4.1" fill="none" stroke="#808080" stroke-width="1"/>
<line x1="470.6" y1="91.2" x2="470.6" y2="95.2" stroke="#999" stroke-width="0.8"/>
<circle cx="470.6" cy="93.2" r="4.1" fill="none" stroke="#808080" stroke-width="1"/>
<line x1="466.8" y1="88.9" x2="466.8" y2="92.9" stroke="#999" stroke-width="0.8"/>
<circle cx="466.8" cy="90.9" r="4.1" fill="none" stroke="#808080" stroke-width="1"/>
<line x1="473.7" y1="93.6" x2="473.7" y2="97.6" stroke="#999" stroke-width="0.8"/>
<circle cx="473.7" cy="95.6" r="4.1" fill="none" stroke="#808080" stroke-width="1"/>
<circle cx="462.9" cy="88.6" r="3.8" fill="#e00000"/>
<line x1="453.6" y1="96.6" x2="453.6" y2="100.6" stroke="#999" stroke-width="0.8"/>
<circle cx="453.6" cy="98.6" r="4.1" fill="none" stroke="#808080" stroke-width="1"/>
<line x1="461.4" y1="100.5" x2="461.4" y2="104.5" stroke="#999" stroke-width="0.8"/>
<circle cx="461.4" cy="102.5" r="4.1" fill="none" stroke="#808080" stroke-width="1"/>
<line x1="467.5" y1="97.4" x2="467.5" y2="101.4" stroke="#999" stroke-width="0.8"/>
<circle cx="467.5" cy="99.4" r="4.1" fill="none" stroke="#808080" stroke-width="1"/>
<line x1="478.3" y1="91.2" x2="478.3" y2="95.2" stroke="#999" stroke-width="0.8"/>
<circle cx="478.3" cy="93.2" r="4.1" fill="none" stroke="#808080" stroke-width="1"/>
<line x1="481.4" y1="91.2" x2="481.4" y2="95.2" stroke="#999" stroke-width="0.8"/>
<circle cx="481.4" cy="93.2" r="4.1" fill="none" stroke="#808080" stroke-width="1"/>
<line x1="489.1" y1="87.4" x2="489.1" y2="91.4" stroke="#999" stroke-width="0.8"/>
<circle cx="489.1" cy="89.4" r="4.1" fill="none" stroke="#808080" stroke-width="1"/>
<circle cx="483" cy="101.7" r="3.8" fill="#000"/>
<circle cx="464" cy="111" r="3.8" fill="#000"/>
<circle cx="470.3" cy="107.1" r="3.8" fill="#000"/>
<line x1="475.2" y1="109.8" x2="475.2" y2="113.8" stroke="#999" stroke-width="0.8"/>
<circle cx="475.2" cy="111.8" r="4.1" fill="none" stroke="#808080" stroke-width="1"/>
<line x1="455.2" y1="108.2" x2="455.2" y2="112.2" stroke="#999" stroke-width="0.8"/>
<circle cx="455.2" cy="110.2" r="4.1" fill="none" stroke="#808080" stroke-width="1"/>
<line x1="459.8" y1="105.1" x2="459.8" y2="109.1" stroke="#999" stroke-width="0.8"/>
<circle cx="459.8" cy="107.1" r="4.1" fill="none" stroke="#808080" stroke-width="1"/>
<circle cx="444.4" cy="103.3" r="3.8" fill="#000"/>
<circle cx="447.5" cy="105.6" r="3.8" fill="#000"/>
<circle cx="441.3" cy="107.1" r="3.8" fill="#000"/>
<circle cx="436.7" cy="111" r="3.8" fill="#000"/>
<circle cx="442.1" cy="115.6" r="3.8" fill="#000"/>
<circle cx="445.9" cy="110.2" r="3.8" fill="#000"/>
<line x1="425.9" y1="104.4" x2="425.9" y2="108.4" stroke="#999" stroke-width="0.8"/>
<circle cx="425.9" cy="106.4" r="4.1" fill="none" stroke="#808080" stroke-width="1"/>
<line x1="426.6" y1="109.8" x2="426.6" y2="113.8" stroke="#999" stroke-width="0.8"/>
<circle cx="426.6" cy="111.8" r="4.1" fill="none" stroke="#808080" stroke-width="1"/>
<line x1="436.7" y1="97.4" x2="436.7" y2="101.4" stroke="#999" stroke-width="0.8"/>
<circle cx="436.7" cy="99.4" r="4.1" fill="none" stroke="#808080" stroke-width="1"/>
<line x1="436.7" y1="101.3" x2="436.7" y2="105.3" stroke="#999" stroke-width="0.8"/>
<circle cx="436.7" cy="103.3" r="4.1" fill="none" stroke="#808080" stroke-width="1"/>
<line x1="435.9" y1="117.5" x2="435.9" y2="121.5" stroke="#999" stroke-width="0.8"/>
<circle cx="435.9" cy="119.5" r="4.1" fill="none" stroke="#808080" stroke-width="1"/>
<line x1="429.7" y1="109.8" x2="429.7" y2="113.8" stroke="#999" stroke-width="0.8"/>
<circle cx="429.7" cy="111.8" r="4.1" fill="none" stroke="#808080" stroke-width="1"/>
<line x1="449.8" y1="107.4" x2="449.8" y2="111.4" stroke="#999" stroke-width="0.8"/>
<circle cx="449.8" cy="109.4" r="4.1" fill="none" stroke="#808080" stroke-width="1"/>
<line x1="490.7" y1="56.5" x2="490.7" y2="60.5" stroke="#999" stroke-width="0.8"/>
<circle cx="490.7" cy="58.5" r="4.1" fill="none" stroke="#808080" stroke-width="1"/>
<circle cx="488.4" cy="61.6" r="3.8" fill="#e00000"/>
<circle cx="489.9" cy="64.7" r="3.8" fill="#000"/>
<circle cx="493" cy="73.2" r="3.8" fill="#e00000"/>
<circle cx="492.2" cy="74.7" r="3.8" fill="#000"/>
<line x1="493.8" y1="121.3" x2="493.8" y2="125.3" stroke="#999" stroke-width="0.8"/>
<circle cx="493.8" cy="123.3" r="4.1" fill="none" stroke="#808080" stroke-width="1"/>
<circle cx="528.3" cy="41.6" r="3.8" fill="#e00000"/>
<circle cx="532.1" cy="49.6" r="3.8" fill="#e00000"/>
<line x1="529.4" y1="50.4" x2="529.4" y2="54.4" stroke="#999" stroke-width="0.8"/>
<circle cx="529.4" cy="52.4" r="4.1" fill="none" stroke="#808080" stroke-width="1"/>
<circle cx="531.7" cy="57" r="3.8" fill="#000"/>
<line x1="544.3" y1="57.4" x2="544.3" y2="61.4" stroke="#999" stroke-width="0.8"/>
<circle cx="544.3" cy="59.4" r="4.1" fill="none" stroke="#808080" stroke-width="1"/>
<circle cx="512.1" cy="49" r="3.8" fill="#000"/>
<line x1="518.2" y1="42.4" x2="518.2" y2="46.4" stroke="#999" stroke-width="0.8"/>
<circle cx="518.2" cy="44.4" r="4.1" fill="none" stroke="#808080" stroke-width="1"/>
<circle cx="515" cy="66.8" r="3.8" fill="#e00000"/>
<circle cx="519" cy="66.3" r="3.8" fill="#000"/>
<line x1="511.6" y1="69.7" x2="511.6" y2="73.7" stroke="#999" stroke-width="0.8"/>
<circle cx="511.6" cy="71.7" r="4.1" fill="none" stroke="#808080" stroke-width="1"/>
<circle cx="513.9" cy="75.1" r="3.8" fill="#000"/>
<circle cx="494.9" cy="73.2" r="3.8" fill="#e00000"/>
<circle cx="503.6" cy="75.6" r="3.8" fill="#000"/>
<circle cx="505.1" cy="83.3" r="3.8" fill="#000"/>
<circle cx="524.3" cy="83.3" r="3.8" fill="#000"/>
<circle cx="531.7" cy="80.2" r="3.8" fill="#000"/>
<circle cx="498.5" cy="90.7" r="3.8" fill="#e00000"/>
<circle cx="507" cy="94.1" r="3.8" fill="#e00000"/>
<circle cx="500.5" cy="96.7" r="3.8" fill="#000"/>
<circle cx="499.6" cy="116.5" r="3.8" fill="#e00000"/>
<circle cx="503.9" cy="118" r="3.8" fill="#e00000"/>
<line x1="490.8" y1="88.2" x2="490.8" y2="92.2" stroke="#999" stroke-width="0.8"/>
<circle cx="490.8" cy="90.2" r="4.1" fill="none" stroke="#808080" stroke-width="1"/>
<circle cx="472" cy="193.7" r="3.8" fill="#000"/>
<line x1="490.6" y1="208.5" x2="490.6" y2="212.5" stroke="#999" stroke-width="0.8"/>
<circle cx="490.6" cy="210.5" r="4.1" fill="none" stroke="#808080" stroke-width="1"/>
<line x1="492" y1="215.9" x2="492" y2="219.9" stroke="#999" stroke-width="0.8"/>
<circle cx="492" cy="217.9" r="4.1" fill="none" stroke="#808080" stroke-width="1"/>
<line x1="468.3" y1="219.4" x2="468.3" y2="223.4" stroke="#999" stroke-width="0.8"/>
<circle cx="468.3" cy="221.4" r="4.1" fill="none" stroke="#808080" stroke-width="1"/>
<line x1="473.5" y1="234.9" x2="473.5" y2="238.9" stroke="#999" stroke-width="0.8"/>
<circle cx="473.5" cy="236.9" r="4.1" fill="none" stroke="#808080" stroke-width="1"/>
<line x1="475.2" y1="233.2" x2="475.2" y2="237.2" stroke="#999" stroke-width="0.8"/>
<circle cx="475.2" cy="235.2" r="4.1" fill="none" stroke="#808080" stroke-width="1"/>
<circle cx="490.1" cy="232.7" r="3.8" fill="#000"/>
<circle cx="493.3" cy="229" r="3.8" fill="#000"/>
<circle cx="495" cy="231.5" r="3.8" fill="#e00000"/>
<circle cx="500" cy="236.4" r="3.8" fill="#e00000"/>
<circle cx="515.5" cy="201.9" r="3.8" fill="#e00000"/>
<circle cx="528.3" cy="206" r="3.8" fill="#e00000"/>
<line x1="518" y1="211" x2="518" y2="215" stroke="#999" stroke-width="0.8"/>
<circle cx="518" cy="213" r="4.1" fill="none" stroke="#808080" stroke-width="1"/>
<circle cx="512.3" cy="219.9" r="3.8" fill="#000"/>
<circle cx="514.8" cy="225.8" r="3.8" fill="#000"/>
<circle cx="518.5" cy="229.5" r="3.8" fill="#000"/>
<circle cx="524.6" cy="226.5" r="3.8" fill="#000"/>
<circle cx="532.5" cy="230.7" r="3.8" fill="#e00000"/>
<circle cx="532" cy="239.4" r="3.8" fill="#000"/>
<line x1="544.4" y1="244.8" x2="544.4" y2="248.8" stroke="#999" stroke-width="0.8"/>
<circle cx="544.4" cy="246.8" r="4.1" fill="none" stroke="#808080" stroke-width="1"/>
<circle cx="495.7" cy="250" r="3.8" fill="#e00000"/>
<circle cx="499.9" cy="252.5" r="3.8" fill="#e00000"/>
<circle cx="503.6" cy="255.7" r="3.8" fill="#e00000"/>
<circle cx="488.3" cy="256.7" r="3.8" fill="#e00000"/>
<circle cx="498.2" cy="259.9" r="3.8" fill="#e00000"/>
<circle cx="503.6" cy="248.8" r="3.8" fill="#000"/>
<line x1="501.7" y1="262.8" x2="501.7" y2="266.8" stroke="#999" stroke-width="0.8"/>
<circle cx="501.7" cy="264.8" r="4.1" fill="none" stroke="#808080" stroke-width="1"/>
<circle cx="500.7" cy="273.5" r="3.8" fill="#000"/>
<circle cx="505.4" cy="272.2" r="3.8" fill="#000"/>
<circle cx="507.3" cy="277.2" r="3.8" fill="#e00000"/>
<circle cx="500" cy="285.3" r="3.8" fill="#e00000"/>
<line x1="495" y1="273.9" x2="495" y2="277.9" stroke="#999" stroke-width="0.8"/>
<circle cx="495" cy="275.9" r="4.1" fill="none" stroke="#808080" stroke-width="1"/>
<line x1="513.5" y1="268.2" x2="513.5" y2="272.2" stroke="#999" stroke-width="0.8"/>
<circle cx="513.5" cy="270.2" r="4.1" fill="none" stroke="#808080" stroke-width="1"/>
<line x1="524.6" y1="267.8" x2="524.6" y2="271.8" stroke="#999" stroke-width="0.8"/>
<circle cx="524.6" cy="269.8" r="4.1" fill="none" stroke="#808080" stroke-width="1"/>
<line x1="425.3" y1="268.7" x2="425.3" y2="272.7" stroke="#999" stroke-width="0.8"/>
<circle cx="425.3" cy="270.7" r="4.1" fill="none" stroke="#808080" stroke-width="1"/>
<line x1="437.1" y1="261.8" x2="437.1" y2="265.8" stroke="#999" stroke-width="0.8"/>
<circle cx="437.1" cy="263.8" r="4.1" fill="none" stroke="#808080" stroke-width="1"/>
<line x1="437.1" y1="270.1" x2="437.1" y2="274.1" stroke="#999" stroke-width="0.8"/>
<circle cx="437.1" cy="272.1" r="4.1" fill="none" stroke="#808080" stroke-width="1"/>
<line x1="444" y1="265.2" x2="444" y2="269.2" stroke="#999" stroke-width="0.8"/>
<circle cx="444" cy="267.2" r="4.1" fill="none" stroke="#808080" stroke-width="1"/>
<line x1="446.8" y1="252" x2="446.8" y2="256" stroke="#999" stroke-width="0.8"/>
<circle cx="446.8" cy="254" r="4.1" fill="none" stroke="#808080" stroke-width="1"/>
<line x1="451.7" y1="252.7" x2="451.7" y2="256.7" stroke="#999" stroke-width="0.8"/>
<circle cx="451.7" cy="254.7" r="4.1" fill="none" stroke="#808080" stroke-width="1"/>
<line x1="449.6" y1="259.7" x2="449.6" y2="263.7" stroke="#999" stroke-width="0.8"/>
<circle cx="449.6" cy="261.7" r="4.1" fill="none" stroke="#808080" stroke-width="1"/>
<line x1="454.4" y1="247.9" x2="454.4" y2="251.9" stroke="#999" stroke-width="0.8"/>
<circle cx="454.4" cy="249.9" r="4.1" fill="none" stroke="#808080" stroke-width="1"/>
<line x1="458.6" y1="249.3" x2="458.6" y2="253.3" stroke="#999" stroke-width="0.8"/>
<circle cx="458.6" cy="251.3" r="4.1" fill="none" stroke="#808080" stroke-width="1"/>
<line x1="461.4" y1="258.3" x2="461.4" y2="262.3" stroke="#999" stroke-width="0.8"/>
<circle cx="461.4" cy="260.3" r="4.1" fill="none" stroke="#808080" stroke-width="1"/>
<line x1="464.9" y1="247.9" x2="464.9" y2="251.9" stroke="#999" stroke-width="0.8"/>
<circle cx="464.9" cy="249.9" r="4.1" fill="none" stroke="#808080" stroke-width="1"/>
<line x1="465.6" y1="252.7" x2="465.6" y2="256.7" stroke="#999" stroke-width="0.8"/>
<circle cx="465.6" cy="254.7" r="4.1" fill="none" stroke="#808080" stroke-width="1"/>
<line x1="469.7" y1="248.6" x2="469.7" y2="252.6" stroke="#999" stroke-width="0.8"/>
<circle cx="469.7" cy="250.6" r="4.1" fill="none" stroke="#808080" stroke-width="1"/>
<line x1="473.2" y1="247.9" x2="473.2" y2="251.9" stroke="#999" stroke-width="0.8"/>
<circle cx="473.2" cy="249.9" r="4.1" fill="none" stroke="#808080" stroke-width="1"/>
<line x1="471.1" y1="236.8" x2="471.1" y2="240.8" stroke="#999" stroke-width="0.8"/>
<circle cx="471.1" cy="238.8" r="4.1" fill="none" stroke="#808080" stroke-width="1"/>
<line x1="474.6" y1="235.4" x2="474.6" y2="239.4" stroke="#999" stroke-width="0.8"/>
<circle cx="474.6" cy="237.4" r="4.1" fill="none" stroke="#808080" stroke-width="1"/>
<circle cx="463.5" cy="262.4" r="3.8" fill="#e00000"/>
<line x1="454.4" y1="279.8" x2="454.4" y2="283.8" stroke="#999" stroke-width="0.8"/>
<circle cx="454.4" cy="281.8" r="4.1" fill="none" stroke="#808080" stroke-width="1"/>
<line x1="457.9" y1="281.2" x2="457.9" y2="285.2" stroke="#999" stroke-width="0.8"/>
<circle cx="457.9" cy="283.2" r="4.1" fill="none" stroke="#808080" stroke-width="1"/>
<line x1="450.3" y1="279.8" x2="450.3" y2="283.8" stroke="#999" stroke-width="0.8"/>
<circle cx="450.3" cy="281.8" r="4.1" fill="none" stroke="#808080" stroke-width="1"/>
<line x1="462.1" y1="267.3" x2="462.1" y2="271.3" stroke="#999" stroke-width="0.8"/>
<circle cx="462.1" cy="269.3" r="4.1" fill="none" stroke="#808080" stroke-width="1"/>
<line x1="464.9" y1="274.3" x2="464.9" y2="278.3" stroke="#999" stroke-width="0.8"/>
<circle cx="464.9" cy="276.3" r="4.1" fill="none" stroke="#808080" stroke-width="1"/>
<line x1="471.1" y1="263.8" x2="471.1" y2="267.8" stroke="#999" stroke-width="0.8"/>
<circle cx="471.1" cy="265.8" r="4.1" fill="none" stroke="#808080" stroke-width="1"/>
<line x1="475.3" y1="265.2" x2="475.3" y2="269.2" stroke="#999" stroke-width="0.8"/>
<circle cx="475.3" cy="267.2" r="4.1" fill="none" stroke="#808080" stroke-width="1"/>
<line x1="482.2" y1="261.1" x2="482.2" y2="265.1" stroke="#999" stroke-width="0.8"/>
<circle cx="482.2" cy="263.1" r="4.1" fill="none" stroke="#808080" stroke-width="1"/>
<line x1="478.1" y1="276.3" x2="478.1" y2="280.3" stroke="#999" stroke-width="0.8"/>
<circle cx="478.1" cy="278.3" r="4.1" fill="none" stroke="#808080" stroke-width="1"/>
<line x1="494" y1="272.9" x2="494" y2="276.9" stroke="#999" stroke-width="0.8"/>
<circle cx="494" cy="274.9" r="4.1" fill="none" stroke="#808080" stroke-width="1"/>
<circle cx="446.1" cy="276.3" r="3.8" fill="#000"/>
<circle cx="441.9" cy="280.4" r="3.8" fill="#000"/>
<circle cx="437.1" cy="283.2" r="3.8" fill="#000"/>
<circle cx="435.7" cy="288.1" r="3.8" fill="#000"/>
<circle cx="444" cy="287.4" r="3.8" fill="#000"/>
<circle cx="464.2" cy="287.4" r="3.8" fill="#000"/>
<circle cx="470.4" cy="272.8" r="3.8" fill="#000"/>
<circle cx="482.9" cy="273.5" r="3.8" fill="#000"/>
<line x1="428.1" y1="286.1" x2="428.1" y2="290.1" stroke="#999" stroke-width="0.8"/>
<circle cx="428.1" cy="288.1" r="4.1" fill="none" stroke="#808080" stroke-width="1"/>
<line x1="425.5" y1="389" x2="425.5" y2="451.3" stroke="#888" stroke-width="1.1"/>
<circle cx="425.5" cy="398" r="4.1" fill="none" stroke="#8a8a8a" stroke-width="1"/>
<line x1="426.7" y1="415.6" x2="426.7" y2="451.3" stroke="#888" stroke-width="1.1"/>
<circle cx="426.7" cy="424.6" r="4.1" fill="none" stroke="#8a8a8a" stroke-width="1"/>
<line x1="429.2" y1="409.4" x2="429.2" y2="451.3" stroke="#888" stroke-width="1.1"/>
<circle cx="429.2" cy="418.4" r="4.1" fill="none" stroke="#8a8a8a" stroke-width="1"/>
<line x1="436.6" y1="423.6" x2="436.6" y2="451.3" stroke="#505050" stroke-width="1.1"/>
<circle cx="436.6" cy="432.6" r="3.8" fill="#000"/>
<line x1="443.4" y1="418.7" x2="443.4" y2="451.3" stroke="#505050" stroke-width="1.1"/>
<circle cx="443.4" cy="427.7" r="3.8" fill="#000"/>
<line x1="437.2" y1="387.2" x2="437.2" y2="451.3" stroke="#888" stroke-width="1.1"/>
<circle cx="437.2" cy="396.2" r="4.1" fill="none" stroke="#8a8a8a" stroke-width="1"/>
<line x1="437.8" y1="397" x2="437.8" y2="451.3" stroke="#888" stroke-width="1.1"/>
<circle cx="437.8" cy="406" r="4.1" fill="none" stroke="#8a8a8a" stroke-width="1"/>
<line x1="443.4" y1="382.9" x2="443.4" y2="451.3" stroke="#888" stroke-width="1.1"/>
<circle cx="443.4" cy="391.9" r="4.1" fill="none" stroke="#8a8a8a" stroke-width="1"/>
<line x1="447.7" y1="381.6" x2="447.7" y2="451.3" stroke="#888" stroke-width="1.1"/>
<circle cx="447.7" cy="390.6" r="4.1" fill="none" stroke="#8a8a8a" stroke-width="1"/>
<line x1="452" y1="373.6" x2="452" y2="451.3" stroke="#888" stroke-width="1.1"/>
<circle cx="452" cy="382.6" r="4.1" fill="none" stroke="#8a8a8a" stroke-width="1"/>
<line x1="458.2" y1="368" x2="458.2" y2="451.3" stroke="#888" stroke-width="1.1"/>
<circle cx="458.2" cy="377" r="4.1" fill="none" stroke="#8a8a8a" stroke-width="1"/>
<line x1="465.6" y1="371.1" x2="465.6" y2="451.3" stroke="#888" stroke-width="1.1"/>
<circle cx="465.6" cy="380.1" r="4.1" fill="none" stroke="#8a8a8a" stroke-width="1"/>
<line x1="469.3" y1="353.8" x2="469.3" y2="451.3" stroke="#888" stroke-width="1.1"/>
<circle cx="469.3" cy="362.8" r="4.1" fill="none" stroke="#8a8a8a" stroke-width="1"/>
<line x1="474.3" y1="344" x2="474.3" y2="451.3" stroke="#888" stroke-width="1.1"/>
<circle cx="474.3" cy="353" r="4.1" fill="none" stroke="#8a8a8a" stroke-width="1"/>
<line x1="475.5" y1="359.4" x2="475.5" y2="451.3" stroke="#888" stroke-width="1.1"/>
<circle cx="475.5" cy="368.4" r="4.1" fill="none" stroke="#8a8a8a" stroke-width="1"/>
<line x1="463.1" y1="380.4" x2="463.1" y2="451.3" stroke="#888" stroke-width="1.1"/>
<circle cx="463.1" cy="389.4" r="4.1" fill="none" stroke="#8a8a8a" stroke-width="1"/>
<line x1="454.5" y1="389" x2="454.5" y2="451.3" stroke="#888" stroke-width="1.1"/>
<circle cx="454.5" cy="398" r="4.1" fill="none" stroke="#8a8a8a" stroke-width="1"/>
<line x1="461.3" y1="393.3" x2="461.3" y2="451.3" stroke="#888" stroke-width="1.1"/>
<circle cx="461.3" cy="402.3" r="4.1" fill="none" stroke="#8a8a8a" stroke-width="1"/>
<line x1="471.8" y1="376.7" x2="471.8" y2="451.3" stroke="#888" stroke-width="1.1"/>
<circle cx="471.8" cy="385.7" r="4.1" fill="none" stroke="#8a8a8a" stroke-width="1"/>
<line x1="466.9" y1="377.9" x2="466.9" y2="451.3" stroke="#888" stroke-width="1.1"/>
<circle cx="466.9" cy="386.9" r="4.1" fill="none" stroke="#8a8a8a" stroke-width="1"/>
<line x1="482.3" y1="380.4" x2="482.3" y2="451.3" stroke="#888" stroke-width="1.1"/>
<circle cx="482.3" cy="389.4" r="4.1" fill="none" stroke="#8a8a8a" stroke-width="1"/>
<line x1="489.1" y1="361.2" x2="489.1" y2="451.3" stroke="#888" stroke-width="1.1"/>
<circle cx="489.1" cy="370.2" r="4.1" fill="none" stroke="#8a8a8a" stroke-width="1"/>
<line x1="491.5" y1="357.5" x2="491.5" y2="451.3" stroke="#888" stroke-width="1.1"/>
<circle cx="491.5" cy="366.5" r="4.1" fill="none" stroke="#8a8a8a" stroke-width="1"/>
<line x1="442.4" y1="372.4" x2="442.4" y2="451.3" stroke="#505050" stroke-width="1.1"/>
<circle cx="442.4" cy="381.4" r="3.8" fill="#000"/>
<line x1="444.6" y1="390.9" x2="444.6" y2="451.3" stroke="#505050" stroke-width="1.1"/>
<circle cx="444.6" cy="399.9" r="3.8" fill="#000"/>
<line x1="446.9" y1="388.4" x2="446.9" y2="451.3" stroke="#505050" stroke-width="1.1"/>
<circle cx="446.9" cy="397.4" r="3.8" fill="#000"/>
<line x1="438.5" y1="400.1" x2="438.5" y2="451.3" stroke="#505050" stroke-width="1.1"/>
<circle cx="438.5" cy="409.1" r="3.8" fill="#000"/>
<line x1="448.3" y1="402" x2="448.3" y2="451.3" stroke="#505050" stroke-width="1.1"/>
<circle cx="448.3" cy="411" r="3.8" fill="#000"/>
<line x1="471.5" y1="362.9" x2="471.5" y2="451.3" stroke="#505050" stroke-width="1.1"/>
<circle cx="471.5" cy="371.9" r="3.8" fill="#000"/>
<line x1="470.6" y1="389" x2="470.6" y2="451.3" stroke="#505050" stroke-width="1.1"/>
<circle cx="470.6" cy="398" r="3.8" fill="#000"/>
<line x1="463.8" y1="434.7" x2="463.8" y2="451.3" stroke="#555" stroke-width="1.1"/>
<circle cx="463.8" cy="443.7" r="3.8" fill="#444"/>
<line x1="462.5" y1="400.8" x2="462.5" y2="451.3" stroke="#f04848" stroke-width="1.1"/>
<circle cx="462.5" cy="409.8" r="3.8" fill="#e00000"/>
<line x1="435.4" y1="415" x2="435.4" y2="451.3" stroke="#888" stroke-width="1.1"/>
<circle cx="435.4" cy="424" r="4.1" fill="none" stroke="#8a8a8a" stroke-width="1"/>
<line x1="453.3" y1="410" x2="453.3" y2="451.3" stroke="#888" stroke-width="1.1"/>
<circle cx="453.3" cy="419" r="4.1" fill="none" stroke="#8a8a8a" stroke-width="1"/>
<line x1="455.7" y1="413.1" x2="455.7" y2="451.3" stroke="#888" stroke-width="1.1"/>
<circle cx="455.7" cy="422.1" r="4.1" fill="none" stroke="#8a8a8a" stroke-width="1"/>
<line x1="453.3" y1="422.4" x2="453.3" y2="451.3" stroke="#888" stroke-width="1.1"/>
<circle cx="453.3" cy="431.4" r="4.1" fill="none" stroke="#8a8a8a" stroke-width="1"/>
<line x1="461.9" y1="419.9" x2="461.9" y2="451.3" stroke="#888" stroke-width="1.1"/>
<circle cx="461.9" cy="428.9" r="4.1" fill="none" stroke="#8a8a8a" stroke-width="1"/>
<line x1="470.6" y1="405.1" x2="470.6" y2="451.3" stroke="#888" stroke-width="1.1"/>
<circle cx="470.6" cy="414.1" r="4.1" fill="none" stroke="#8a8a8a" stroke-width="1"/>
<line x1="471.8" y1="422.4" x2="471.8" y2="451.3" stroke="#888" stroke-width="1.1"/>
<circle cx="471.8" cy="431.4" r="4.1" fill="none" stroke="#8a8a8a" stroke-width="1"/>
<line x1="478.6" y1="415" x2="478.6" y2="451.3" stroke="#888" stroke-width="1.1"/>
<circle cx="478.6" cy="424" r="4.1" fill="none" stroke="#8a8a8a" stroke-width="1"/>
<line x1="487.8" y1="398.3" x2="487.8" y2="451.3" stroke="#888" stroke-width="1.1"/>
<circle cx="487.8" cy="407.3" r="4.1" fill="none" stroke="#8a8a8a" stroke-width="1"/>
<line x1="482.9" y1="405.1" x2="482.9" y2="451.3" stroke="#505050" stroke-width="1.1"/>
<circle cx="482.9" cy="414.1" r="3.8" fill="#000"/>
<line x1="488.5" y1="411.2" x2="488.5" y2="451.3" stroke="#f04848" stroke-width="1.1"/>
<circle cx="488.5" cy="420.2" r="3.8" fill="#e00000"/>
<line x1="489.7" y1="377.9" x2="489.7" y2="451.3" stroke="#505050" stroke-width="1.1"/>
<circle cx="489.7" cy="386.9" r="3.8" fill="#000"/>
<line x1="492.8" y1="394" x2="492.8" y2="451.3" stroke="#505050" stroke-width="1.1"/>
<circle cx="492.8" cy="403" r="3.8" fill="#000"/>
<line x1="515.8" y1="339.4" x2="515.8" y2="451.3" stroke="#f04848" stroke-width="1.1"/>
<circle cx="515.8" cy="348.4" r="3.8" fill="#e00000"/>
<line x1="528.2" y1="349.5" x2="528.2" y2="451.3" stroke="#f04848" stroke-width="1.1"/>
<circle cx="528.2" cy="358.5" r="3.8" fill="#e00000"/>
<line x1="518" y1="352.1" x2="518" y2="451.3" stroke="#888" stroke-width="1.1"/>
<circle cx="518" cy="361.1" r="4.1" fill="none" stroke="#8a8a8a" stroke-width="1"/>
<line x1="511.7" y1="358.8" x2="511.7" y2="451.3" stroke="#505050" stroke-width="1.1"/>
<circle cx="511.7" cy="367.8" r="3.8" fill="#000"/>
<line x1="519.1" y1="357.5" x2="519.1" y2="451.3" stroke="#505050" stroke-width="1.1"/>
<circle cx="519.1" cy="366.5" r="3.8" fill="#000"/>
<line x1="524.4" y1="363.5" x2="524.4" y2="451.3" stroke="#505050" stroke-width="1.1"/>
<circle cx="524.4" cy="372.5" r="3.8" fill="#000"/>
<line x1="514.2" y1="380" x2="514.2" y2="451.3" stroke="#505050" stroke-width="1.1"/>
<circle cx="514.2" cy="389" r="3.8" fill="#000"/>
<line x1="497.8" y1="360.6" x2="497.8" y2="451.3" stroke="#f04848" stroke-width="1.1"/>
<circle cx="497.8" cy="369.6" r="3.8" fill="#e00000"/>
<line x1="503.5" y1="365.6" x2="503.5" y2="451.3" stroke="#f04848" stroke-width="1.1"/>
<circle cx="503.5" cy="374.6" r="3.8" fill="#e00000"/>
<line x1="495" y1="372.4" x2="495" y2="451.3" stroke="#f04848" stroke-width="1.1"/>
<circle cx="495" cy="381.4" r="3.8" fill="#e00000"/>
<line x1="500.3" y1="378.3" x2="500.3" y2="451.3" stroke="#f04848" stroke-width="1.1"/>
<circle cx="500.3" cy="387.3" r="3.8" fill="#e00000"/>
<line x1="490.8" y1="357.8" x2="490.8" y2="451.3" stroke="#888" stroke-width="1.1"/>
<circle cx="490.8" cy="366.8" r="4.1" fill="none" stroke="#8a8a8a" stroke-width="1"/>
<line x1="490.1" y1="361.6" x2="490.1" y2="451.3" stroke="#888" stroke-width="1.1"/>
<circle cx="490.1" cy="370.6" r="4.1" fill="none" stroke="#8a8a8a" stroke-width="1"/>
<line x1="490.1" y1="377.8" x2="490.1" y2="451.3" stroke="#505050" stroke-width="1.1"/>
<circle cx="490.1" cy="386.8" r="3.8" fill="#000"/>
<line x1="492.7" y1="393.9" x2="492.7" y2="451.3" stroke="#505050" stroke-width="1.1"/>
<circle cx="492.7" cy="402.9" r="3.8" fill="#000"/>
<line x1="504.1" y1="397.1" x2="504.1" y2="451.3" stroke="#505050" stroke-width="1.1"/>
<circle cx="504.1" cy="406.1" r="3.8" fill="#000"/>
<line x1="498.4" y1="397.7" x2="498.4" y2="451.3" stroke="#f04848" stroke-width="1.1"/>
<circle cx="498.4" cy="406.7" r="3.8" fill="#e00000"/>
<line x1="495.2" y1="399.4" x2="495.2" y2="451.3" stroke="#f04848" stroke-width="1.1"/>
<circle cx="495.2" cy="408.4" r="3.8" fill="#e00000"/>
<line x1="483.2" y1="404.7" x2="483.2" y2="451.3" stroke="#505050" stroke-width="1.1"/>
<circle cx="483.2" cy="413.7" r="3.8" fill="#000"/>
<line x1="500.9" y1="407.2" x2="500.9" y2="451.3" stroke="#505050" stroke-width="1.1"/>
<circle cx="500.9" cy="416.2" r="3.8" fill="#000"/>
<line x1="505.4" y1="406.6" x2="505.4" y2="451.3" stroke="#505050" stroke-width="1.1"/>
<circle cx="505.4" cy="415.6" r="3.8" fill="#000"/>
<line x1="500" y1="413.3" x2="500" y2="451.3" stroke="#f04848" stroke-width="1.1"/>
<circle cx="500" cy="422.3" r="3.8" fill="#e00000"/>
<line x1="507" y1="414.8" x2="507" y2="451.3" stroke="#f04848" stroke-width="1.1"/>
<circle cx="507" cy="423.8" r="3.8" fill="#e00000"/>
<line x1="513.2" y1="425.6" x2="513.2" y2="451.3" stroke="#888" stroke-width="1.1"/>
<circle cx="513.2" cy="434.6" r="4.1" fill="none" stroke="#8a8a8a" stroke-width="1"/>
<line x1="525" y1="397.1" x2="525" y2="451.3" stroke="#888" stroke-width="1.1"/>
<circle cx="525" cy="406.1" r="4.1" fill="none" stroke="#8a8a8a" stroke-width="1"/>
<line x1="530.7" y1="390.1" x2="530.7" y2="451.3" stroke="#888" stroke-width="1.1"/>
<circle cx="530.7" cy="399.1" r="4.1" fill="none" stroke="#8a8a8a" stroke-width="1"/>
<line x1="532" y1="395.2" x2="532" y2="451.3" stroke="#505050" stroke-width="1.1"/>
<circle cx="532" cy="404.2" r="3.8" fill="#000"/>
<line x1="532.6" y1="393.9" x2="532.6" y2="451.3" stroke="#f04848" stroke-width="1.1"/>
<circle cx="532.6" cy="402.9" r="3.8" fill="#e00000"/>
<line x1="544.7" y1="390.1" x2="544.7" y2="451.3" stroke="#888" stroke-width="1.1"/>
<circle cx="544.7" cy="399.1" r="4.1" fill="none" stroke="#8a8a8a" stroke-width="1"/>
<line x1="426.1" y1="540.6" x2="426.1" y2="600.8" stroke="#888" stroke-width="1.1"/>
<circle cx="426.1" cy="554.6" r="4.1" fill="none" stroke="#8a8a8a" stroke-width="1"/>
<line x1="429.3" y1="546.1" x2="429.3" y2="600.8" stroke="#888" stroke-width="1.1"/>
<circle cx="429.3" cy="560.1" r="4.1" fill="none" stroke="#8a8a8a" stroke-width="1"/>
<line x1="426.9" y1="562.8" x2="426.9" y2="600.8" stroke="#888" stroke-width="1.1"/>
<circle cx="426.9" cy="576.8" r="4.1" fill="none" stroke="#8a8a8a" stroke-width="1"/>
<line x1="438.5" y1="551.7" x2="438.5" y2="600.8" stroke="#505050" stroke-width="1.1"/>
<circle cx="438.5" cy="565.7" r="3.8" fill="#000"/>
<line x1="436.4" y1="570.7" x2="436.4" y2="600.8" stroke="#505050" stroke-width="1.1"/>
<circle cx="436.4" cy="584.7" r="3.8" fill="#000"/>
<line x1="443.5" y1="564.4" x2="443.5" y2="600.8" stroke="#505050" stroke-width="1.1"/>
<circle cx="443.5" cy="578.4" r="3.8" fill="#000"/>
<line x1="442.7" y1="529.5" x2="442.7" y2="600.8" stroke="#505050" stroke-width="1.1"/>
<circle cx="442.7" cy="543.5" r="3.8" fill="#000"/>
<line x1="446.7" y1="531.1" x2="446.7" y2="600.8" stroke="#505050" stroke-width="1.1"/>
<circle cx="446.7" cy="545.1" r="3.8" fill="#000"/>
<line x1="437.2" y1="538.2" x2="437.2" y2="600.8" stroke="#888" stroke-width="1.1"/>
<circle cx="437.2" cy="552.2" r="4.1" fill="none" stroke="#8a8a8a" stroke-width="1"/>
<line x1="438.8" y1="540.6" x2="438.8" y2="600.8" stroke="#888" stroke-width="1.1"/>
<circle cx="438.8" cy="554.6" r="4.1" fill="none" stroke="#8a8a8a" stroke-width="1"/>
<line x1="449.1" y1="535" x2="449.1" y2="600.8" stroke="#888" stroke-width="1.1"/>
<circle cx="449.1" cy="549" r="4.1" fill="none" stroke="#8a8a8a" stroke-width="1"/>
<line x1="451.5" y1="522.4" x2="451.5" y2="600.8" stroke="#888" stroke-width="1.1"/>
<circle cx="451.5" cy="536.4" r="4.1" fill="none" stroke="#8a8a8a" stroke-width="1"/>
<line x1="454.6" y1="540.6" x2="454.6" y2="600.8" stroke="#888" stroke-width="1.1"/>
<circle cx="454.6" cy="554.6" r="4.1" fill="none" stroke="#8a8a8a" stroke-width="1"/>
<line x1="456.2" y1="551.7" x2="456.2" y2="600.8" stroke="#888" stroke-width="1.1"/>
<circle cx="456.2" cy="565.7" r="4.1" fill="none" stroke="#8a8a8a" stroke-width="1"/>
<line x1="453.8" y1="562.8" x2="453.8" y2="600.8" stroke="#888" stroke-width="1.1"/>
<circle cx="453.8" cy="576.8" r="4.1" fill="none" stroke="#8a8a8a" stroke-width="1"/>
<line x1="437.2" y1="564.4" x2="437.2" y2="600.8" stroke="#888" stroke-width="1.1"/>
<circle cx="437.2" cy="578.4" r="4.1" fill="none" stroke="#8a8a8a" stroke-width="1"/>
<line x1="436.4" y1="567.5" x2="436.4" y2="600.8" stroke="#888" stroke-width="1.1"/>
<circle cx="436.4" cy="581.5" r="4.1" fill="none" stroke="#8a8a8a" stroke-width="1"/>
<line x1="458.3" y1="485.1" x2="458.3" y2="600.8" stroke="#888" stroke-width="1.1"/>
<circle cx="458.3" cy="499.1" r="4.1" fill="none" stroke="#8a8a8a" stroke-width="1"/>
<line x1="476" y1="487.5" x2="476" y2="600.8" stroke="#888" stroke-width="1.1"/>
<circle cx="476" cy="501.5" r="4.1" fill="none" stroke="#8a8a8a" stroke-width="1"/>
<line x1="474.4" y1="497" x2="474.4" y2="600.8" stroke="#888" stroke-width="1.1"/>
<circle cx="474.4" cy="511" r="4.1" fill="none" stroke="#8a8a8a" stroke-width="1"/>
<line x1="462.5" y1="518.4" x2="462.5" y2="600.8" stroke="#888" stroke-width="1.1"/>
<circle cx="462.5" cy="532.4" r="4.1" fill="none" stroke="#8a8a8a" stroke-width="1"/>
<line x1="465.7" y1="513.7" x2="465.7" y2="600.8" stroke="#888" stroke-width="1.1"/>
<circle cx="465.7" cy="527.7" r="4.1" fill="none" stroke="#8a8a8a" stroke-width="1"/>
<line x1="468.9" y1="515.2" x2="468.9" y2="600.8" stroke="#888" stroke-width="1.1"/>
<circle cx="468.9" cy="529.2" r="4.1" fill="none" stroke="#8a8a8a" stroke-width="1"/>
<line x1="464.9" y1="531.9" x2="464.9" y2="600.8" stroke="#888" stroke-width="1.1"/>
<circle cx="464.9" cy="545.9" r="4.1" fill="none" stroke="#8a8a8a" stroke-width="1"/>
<line x1="467.3" y1="537.4" x2="467.3" y2="600.8" stroke="#888" stroke-width="1.1"/>
<circle cx="467.3" cy="551.4" r="4.1" fill="none" stroke="#8a8a8a" stroke-width="1"/>
<line x1="470.5" y1="546.9" x2="470.5" y2="600.8" stroke="#888" stroke-width="1.1"/>
<circle cx="470.5" cy="560.9" r="4.1" fill="none" stroke="#8a8a8a" stroke-width="1"/>
<line x1="472.1" y1="550.1" x2="472.1" y2="600.8" stroke="#888" stroke-width="1.1"/>
<circle cx="472.1" cy="564.1" r="4.1" fill="none" stroke="#8a8a8a" stroke-width="1"/>
<line x1="468.9" y1="558.8" x2="468.9" y2="600.8" stroke="#888" stroke-width="1.1"/>
<circle cx="468.9" cy="572.8" r="4.1" fill="none" stroke="#8a8a8a" stroke-width="1"/>
<line x1="465.7" y1="562.8" x2="465.7" y2="600.8" stroke="#888" stroke-width="1.1"/>
<circle cx="465.7" cy="576.8" r="4.1" fill="none" stroke="#8a8a8a" stroke-width="1"/>
<line x1="461" y1="558" x2="461" y2="600.8" stroke="#888" stroke-width="1.1"/>
<circle cx="461" cy="572" r="4.1" fill="none" stroke="#8a8a8a" stroke-width="1"/>
<line x1="470.5" y1="522.4" x2="470.5" y2="600.8" stroke="#505050" stroke-width="1.1"/>
<circle cx="470.5" cy="536.4" r="3.8" fill="#000"/>
<line x1="472.1" y1="527.6" x2="472.1" y2="600.8" stroke="#505050" stroke-width="1.1"/>
<circle cx="472.1" cy="541.6" r="3.8" fill="#000"/>
<line x1="463" y1="543" x2="463" y2="600.8" stroke="#f04848" stroke-width="1.1"/>
<circle cx="463" cy="557" r="3.8" fill="#e00000"/>
<line x1="464.1" y1="580.5" x2="464.1" y2="600.8" stroke="#555" stroke-width="1.1"/>
<circle cx="464.1" cy="594.5" r="3.8" fill="#444"/>
<line x1="482.4" y1="537.4" x2="482.4" y2="600.8" stroke="#888" stroke-width="1.1"/>
<circle cx="482.4" cy="551.4" r="4.1" fill="none" stroke="#8a8a8a" stroke-width="1"/>
<line x1="478.4" y1="565.2" x2="478.4" y2="600.8" stroke="#888" stroke-width="1.1"/>
<circle cx="478.4" cy="579.2" r="4.1" fill="none" stroke="#8a8a8a" stroke-width="1"/>
<line x1="483.1" y1="553.3" x2="483.1" y2="600.8" stroke="#505050" stroke-width="1.1"/>
<circle cx="483.1" cy="567.3" r="3.8" fill="#000"/>
<line x1="488.2" y1="562.3" x2="488.2" y2="600.8" stroke="#f04848" stroke-width="1.1"/>
<circle cx="488.2" cy="576.3" r="3.8" fill="#e00000"/>
<line x1="497.9" y1="467.7" x2="497.9" y2="600.8" stroke="#f04848" stroke-width="1.1"/>
<circle cx="497.9" cy="481.7" r="3.8" fill="#e00000"/>
<line x1="495.1" y1="497" x2="495.1" y2="600.8" stroke="#f04848" stroke-width="1.1"/>
<circle cx="495.1" cy="511" r="3.8" fill="#e00000"/>
<line x1="528.3" y1="481.5" x2="528.3" y2="600.8" stroke="#f04848" stroke-width="1.1"/>
<circle cx="528.3" cy="495.5" r="3.8" fill="#e00000"/>
<line x1="518" y1="489.9" x2="518" y2="600.8" stroke="#888" stroke-width="1.1"/>
<circle cx="518" cy="503.9" r="4.1" fill="none" stroke="#8a8a8a" stroke-width="1"/>
<line x1="518.8" y1="495.9" x2="518.8" y2="600.8" stroke="#505050" stroke-width="1.1"/>
<circle cx="518.8" cy="509.9" r="3.8" fill="#000"/>
<line x1="524.4" y1="504.1" x2="524.4" y2="600.8" stroke="#888" stroke-width="1.1"/>
<circle cx="524.4" cy="518.1" r="4.1" fill="none" stroke="#8a8a8a" stroke-width="1"/>
<line x1="524.4" y1="509.70000000000005" x2="524.4" y2="600.8" stroke="#505050" stroke-width="1.1"/>
<circle cx="524.4" cy="523.7" r="3.8" fill="#000"/>
<line x1="515.2" y1="508.6" x2="515.2" y2="600.8" stroke="#f04848" stroke-width="1.1"/>
<circle cx="515.2" cy="522.6" r="3.8" fill="#e00000"/>
<line x1="511.7" y1="518.1" x2="511.7" y2="600.8" stroke="#505050" stroke-width="1.1"/>
<circle cx="511.7" cy="532.1" r="3.8" fill="#000"/>
<line x1="503.5" y1="519.2" x2="503.5" y2="600.8" stroke="#f04848" stroke-width="1.1"/>
<circle cx="503.5" cy="533.2" r="3.8" fill="#e00000"/>
<line x1="503.5" y1="526.6" x2="503.5" y2="600.8" stroke="#505050" stroke-width="1.1"/>
<circle cx="503.5" cy="540.6" r="3.8" fill="#000"/>
<line x1="491.1" y1="516" x2="491.1" y2="600.8" stroke="#888" stroke-width="1.1"/>
<circle cx="491.1" cy="530" r="4.1" fill="none" stroke="#8a8a8a" stroke-width="1"/>
<line x1="490.3" y1="519.2" x2="490.3" y2="600.8" stroke="#888" stroke-width="1.1"/>
<circle cx="490.3" cy="533.2" r="4.1" fill="none" stroke="#8a8a8a" stroke-width="1"/>
<line x1="490.3" y1="525.5" x2="490.3" y2="600.8" stroke="#505050" stroke-width="1.1"/>
<circle cx="490.3" cy="539.5" r="3.8" fill="#000"/>
<line x1="532.3" y1="521.3" x2="532.3" y2="600.8" stroke="#f04848" stroke-width="1.1"/>
<circle cx="532.3" cy="535.3" r="3.8" fill="#e00000"/>
<line x1="530.7" y1="533.5" x2="530.7" y2="600.8" stroke="#888" stroke-width="1.1"/>
<circle cx="530.7" cy="547.5" r="4.1" fill="none" stroke="#8a8a8a" stroke-width="1"/>
<line x1="544.7" y1="537.4" x2="544.7" y2="600.8" stroke="#888" stroke-width="1.1"/>
<circle cx="544.7" cy="551.4" r="4.1" fill="none" stroke="#8a8a8a" stroke-width="1"/>
<line x1="499.8" y1="535.8" x2="499.8" y2="600.8" stroke="#f04848" stroke-width="1.1"/>
<circle cx="499.8" cy="549.8" r="3.8" fill="#e00000"/>
<line x1="498.7" y1="541.9" x2="498.7" y2="600.8" stroke="#f04848" stroke-width="1.1"/>
<circle cx="498.7" cy="555.9" r="3.8" fill="#e00000"/>
<line x1="514.1" y1="540.6" x2="514.1" y2="600.8" stroke="#505050" stroke-width="1.1"/>
<circle cx="514.1" cy="554.6" r="3.8" fill="#000"/>
<line x1="492.7" y1="545" x2="492.7" y2="600.8" stroke="#505050" stroke-width="1.1"/>
<circle cx="492.7" cy="559" r="3.8" fill="#000"/>
<line x1="483.2" y1="553" x2="483.2" y2="600.8" stroke="#505050" stroke-width="1.1"/>
<circle cx="483.2" cy="567" r="3.8" fill="#000"/>
<line x1="494" y1="552.5" x2="494" y2="600.8" stroke="#f04848" stroke-width="1.1"/>
<circle cx="494" cy="566.5" r="3.8" fill="#e00000"/>
<line x1="500.6" y1="553.3" x2="500.6" y2="600.8" stroke="#505050" stroke-width="1.1"/>
<circle cx="500.6" cy="567.3" r="3.8" fill="#000"/>
<line x1="505.4" y1="554.9" x2="505.4" y2="600.8" stroke="#505050" stroke-width="1.1"/>
<circle cx="505.4" cy="568.9" r="3.8" fill="#000"/>
<line x1="488.2" y1="562" x2="488.2" y2="600.8" stroke="#f04848" stroke-width="1.1"/>
<circle cx="488.2" cy="576" r="3.8" fill="#e00000"/>
<line x1="499.8" y1="563.6" x2="499.8" y2="600.8" stroke="#f04848" stroke-width="1.1"/>
<circle cx="499.8" cy="577.6" r="3.8" fill="#e00000"/>
<line x1="506.9" y1="562" x2="506.9" y2="600.8" stroke="#f04848" stroke-width="1.1"/>
<circle cx="506.9" cy="576" r="3.8" fill="#e00000"/>
<line x1="513.3" y1="561.2" x2="513.3" y2="600.8" stroke="#888" stroke-width="1.1"/>
<circle cx="513.3" cy="575.2" r="4.1" fill="none" stroke="#8a8a8a" stroke-width="1"/>
<line x1="531.5" y1="548.5" x2="531.5" y2="600.8" stroke="#505050" stroke-width="1.1"/>
<circle cx="531.5" cy="562.5" r="3.8" fill="#000"/>
<circle cx="442.3" cy="679.2" r="3.8" fill="#000"/>
<line x1="436.4" y1="679.6" x2="436.4" y2="683.6" stroke="#999" stroke-width="0.8"/>
<circle cx="436.4" cy="681.6" r="4.1" fill="none" stroke="#808080" stroke-width="1"/>
<line x1="437.2" y1="696.3" x2="437.2" y2="700.3" stroke="#999" stroke-width="0.8"/>
<circle cx="437.2" cy="698.3" r="4.1" fill="none" stroke="#808080" stroke-width="1"/>
<circle cx="438.5" cy="702.2" r="3.8" fill="#000"/>
<circle cx="448.3" cy="699" r="3.8" fill="#000"/>
<circle cx="445.1" cy="709.3" r="3.8" fill="#000"/>
<circle cx="443.5" cy="716.5" r="3.8" fill="#000"/>
<circle cx="436.4" cy="726.8" r="3.8" fill="#000"/>
<line x1="426.1" y1="708.9" x2="426.1" y2="712.9" stroke="#999" stroke-width="0.8"/>
<circle cx="426.1" cy="710.9" r="4.1" fill="none" stroke="#808080" stroke-width="1"/>
<line x1="430.1" y1="709.7" x2="430.1" y2="713.7" stroke="#999" stroke-width="0.8"/>
<circle cx="430.1" cy="711.7" r="4.1" fill="none" stroke="#808080" stroke-width="1"/>
<line x1="434.8" y1="709.7" x2="434.8" y2="713.7" stroke="#999" stroke-width="0.8"/>
<circle cx="434.8" cy="711.7" r="4.1" fill="none" stroke="#808080" stroke-width="1"/>
<line x1="438.8" y1="707.3" x2="438.8" y2="711.3" stroke="#999" stroke-width="0.8"/>
<circle cx="438.8" cy="709.3" r="4.1" fill="none" stroke="#808080" stroke-width="1"/>
<line x1="451.5" y1="708.9" x2="451.5" y2="712.9" stroke="#999" stroke-width="0.8"/>
<circle cx="451.5" cy="710.9" r="4.1" fill="none" stroke="#808080" stroke-width="1"/>
<line x1="453.8" y1="714.5" x2="453.8" y2="718.5" stroke="#999" stroke-width="0.8"/>
<circle cx="453.8" cy="716.5" r="4.1" fill="none" stroke="#808080" stroke-width="1"/>
<line x1="457.8" y1="689.9" x2="457.8" y2="693.9" stroke="#999" stroke-width="0.8"/>
<circle cx="457.8" cy="691.9" r="4.1" fill="none" stroke="#808080" stroke-width="1"/>
<line x1="461" y1="686.7" x2="461" y2="690.7" stroke="#999" stroke-width="0.8"/>
<circle cx="461" cy="688.7" r="4.1" fill="none" stroke="#808080" stroke-width="1"/>
<line x1="464.9" y1="680.4" x2="464.9" y2="684.4" stroke="#999" stroke-width="0.8"/>
<circle cx="464.9" cy="682.4" r="4.1" fill="none" stroke="#808080" stroke-width="1"/>
<line x1="470.5" y1="675.7" x2="470.5" y2="679.7" stroke="#999" stroke-width="0.8"/>
<circle cx="470.5" cy="677.7" r="4.1" fill="none" stroke="#808080" stroke-width="1"/>
<line x1="473.6" y1="676.4" x2="473.6" y2="680.4" stroke="#999" stroke-width="0.8"/>
<circle cx="473.6" cy="678.4" r="4.1" fill="none" stroke="#808080" stroke-width="1"/>
<line x1="470.5" y1="684.4" x2="470.5" y2="688.4" stroke="#999" stroke-width="0.8"/>
<circle cx="470.5" cy="686.4" r="4.1" fill="none" stroke="#808080" stroke-width="1"/>
<line x1="465.7" y1="693.1" x2="465.7" y2="697.1" stroke="#999" stroke-width="0.8"/>
<circle cx="465.7" cy="695.1" r="4.1" fill="none" stroke="#808080" stroke-width="1"/>
<line x1="459.4" y1="696.3" x2="459.4" y2="700.3" stroke="#999" stroke-width="0.8"/>
<circle cx="459.4" cy="698.3" r="4.1" fill="none" stroke="#808080" stroke-width="1"/>
<line x1="456.2" y1="708.9" x2="456.2" y2="712.9" stroke="#999" stroke-width="0.8"/>
<circle cx="456.2" cy="710.9" r="4.1" fill="none" stroke="#808080" stroke-width="1"/>
<line x1="462.5" y1="712.1" x2="462.5" y2="716.1" stroke="#999" stroke-width="0.8"/>
<circle cx="462.5" cy="714.1" r="4.1" fill="none" stroke="#808080" stroke-width="1"/>
<line x1="457.8" y1="720" x2="457.8" y2="724" stroke="#999" stroke-width="0.8"/>
<circle cx="457.8" cy="722" r="4.1" fill="none" stroke="#808080" stroke-width="1"/>
<line x1="465.7" y1="716.9" x2="465.7" y2="720.9" stroke="#999" stroke-width="0.8"/>
<circle cx="465.7" cy="718.9" r="4.1" fill="none" stroke="#808080" stroke-width="1"/>
<line x1="469.7" y1="708.9" x2="469.7" y2="712.9" stroke="#999" stroke-width="0.8"/>
<circle cx="469.7" cy="710.9" r="4.1" fill="none" stroke="#808080" stroke-width="1"/>
<line x1="480" y1="715.3" x2="480" y2="719.3" stroke="#999" stroke-width="0.8"/>
<circle cx="480" cy="717.3" r="4.1" fill="none" stroke="#808080" stroke-width="1"/>
<line x1="483.1" y1="716.1" x2="483.1" y2="720.1" stroke="#999" stroke-width="0.8"/>
<circle cx="483.1" cy="718.1" r="4.1" fill="none" stroke="#808080" stroke-width="1"/>
<circle cx="463.3" cy="695.1" r="3.8" fill="#444"/>
<circle cx="470.5" cy="695.9" r="3.8" fill="#444"/>
<circle cx="463.3" cy="707" r="3.8" fill="#e00000"/>
<circle cx="471.3" cy="722" r="3.8" fill="#444"/>
<circle cx="483.1" cy="698.3" r="3.8" fill="#000"/>
<circle cx="489.5" cy="698.3" r="3.8" fill="#000"/>
<line x1="488.7" y1="689.9" x2="488.7" y2="693.9" stroke="#999" stroke-width="0.8"/>
<circle cx="488.7" cy="691.9" r="4.1" fill="none" stroke="#808080" stroke-width="1"/>
<circle cx="488.7" cy="716.5" r="3.8" fill="#e00000"/>
<circle cx="492.7" cy="714.1" r="3.8" fill="#000"/>
<circle cx="493.4" cy="695.1" r="3.8" fill="#e00000"/>
<circle cx="503.8" cy="619.3" r="3.8" fill="#000"/>
<circle cx="503.5" cy="646.8" r="3.8" fill="#e00000"/>
<circle cx="518.8" cy="668.5" r="3.8" fill="#000"/>
<circle cx="532.3" cy="665.3" r="3.8" fill="#e00000"/>
<circle cx="514.5" cy="682.4" r="3.8" fill="#000"/>
<circle cx="512.5" cy="691.6" r="3.8" fill="#000"/>
<circle cx="528.3" cy="690.3" r="3.8" fill="#e00000"/>
<circle cx="495.1" cy="694.8" r="3.8" fill="#e00000"/>
<circle cx="497.7" cy="699.5" r="3.8" fill="#e00000"/>
<circle cx="515.7" cy="700.6" r="3.8" fill="#e00000"/>
<circle cx="505.4" cy="704.6" r="3.8" fill="#000"/>
<circle cx="507.7" cy="709.4" r="3.8" fill="#e00000"/>
<circle cx="524.7" cy="702.7" r="3.8" fill="#000"/>
<line x1="513.3" y1="709.7" x2="513.3" y2="713.7" stroke="#999" stroke-width="0.8"/>
<circle cx="513.3" cy="711.7" r="4.1" fill="none" stroke="#808080" stroke-width="1"/>
<line x1="524.4" y1="712.4" x2="524.4" y2="716.4" stroke="#999" stroke-width="0.8"/>
<circle cx="524.4" cy="714.4" r="4.1" fill="none" stroke="#808080" stroke-width="1"/>
<line x1="531.5" y1="714" x2="531.5" y2="718" stroke="#999" stroke-width="0.8"/>
<circle cx="531.5" cy="716" r="4.1" fill="none" stroke="#808080" stroke-width="1"/>
<line x1="517.2" y1="703.4" x2="517.2" y2="707.4" stroke="#999" stroke-width="0.8"/>
<circle cx="517.2" cy="705.4" r="4.1" fill="none" stroke="#808080" stroke-width="1"/>
<line x1="544.7" y1="695" x2="544.7" y2="711" stroke="#888" stroke-width="1.1"/>
<circle cx="544.7" cy="703" r="4.1" fill="none" stroke="#808080" stroke-width="1"/>
<circle cx="488.7" cy="716.5" r="3.8" fill="#e00000"/>
<circle cx="499.8" cy="717.3" r="3.8" fill="#e00000"/>
<circle cx="498.7" cy="726" r="3.8" fill="#e00000"/>
<circle cx="494.3" cy="714.4" r="3.8" fill="#000"/>
<circle cx="501.4" cy="719.2" r="3.8" fill="#000"/>
<line x1="531.5" y1="712" x2="531.5" y2="728" stroke="#333" stroke-width="1.1"/>
<circle cx="531.5" cy="721.7" r="3.8" fill="#000"/>
<line x1="481.6" y1="715.3" x2="481.6" y2="719.3" stroke="#999" stroke-width="0.8"/>
<circle cx="481.6" cy="717.3" r="4.1" fill="none" stroke="#808080" stroke-width="1"/>
<line x1="437.5" y1="756.4" x2="437.5" y2="760.4" stroke="#999" stroke-width="0.8"/>
<circle cx="437.5" cy="758.4" r="4.1" fill="none" stroke="#808080" stroke-width="1"/>
<line x1="435.9" y1="770.1" x2="435.9" y2="774.1" stroke="#999" stroke-width="0.8"/>
<circle cx="435.9" cy="772.1" r="4.1" fill="none" stroke="#808080" stroke-width="1"/>
<line x1="426.2" y1="779.7" x2="426.2" y2="783.7" stroke="#999" stroke-width="0.8"/>
<circle cx="426.2" cy="781.7" r="4.1" fill="none" stroke="#808080" stroke-width="1"/>
<line x1="436.7" y1="782.1" x2="436.7" y2="786.1" stroke="#999" stroke-width="0.8"/>
<circle cx="436.7" cy="784.1" r="4.1" fill="none" stroke="#808080" stroke-width="1"/>
<line x1="438.3" y1="797.4" x2="438.3" y2="801.4" stroke="#999" stroke-width="0.8"/>
<circle cx="438.3" cy="799.4" r="4.1" fill="none" stroke="#808080" stroke-width="1"/>
<line x1="428.7" y1="811.1" x2="428.7" y2="815.1" stroke="#999" stroke-width="0.8"/>
<circle cx="428.7" cy="813.1" r="4.1" fill="none" stroke="#808080" stroke-width="1"/>
<line x1="427" y1="827.9" x2="427" y2="831.9" stroke="#999" stroke-width="0.8"/>
<circle cx="427" cy="829.9" r="4.1" fill="none" stroke="#808080" stroke-width="1"/>
<line x1="437.5" y1="827.1" x2="437.5" y2="831.1" stroke="#999" stroke-width="0.8"/>
<circle cx="437.5" cy="829.1" r="4.1" fill="none" stroke="#808080" stroke-width="1"/>
<line x1="436.7" y1="868.1" x2="436.7" y2="872.1" stroke="#999" stroke-width="0.8"/>
<circle cx="436.7" cy="870.1" r="4.1" fill="none" stroke="#808080" stroke-width="1"/>
<circle cx="448.4" cy="772.1" r="3.8" fill="#000"/>
<circle cx="446.8" cy="778.5" r="3.8" fill="#000"/>
<circle cx="443.9" cy="791.4" r="3.8" fill="#000"/>
<circle cx="442.3" cy="795.4" r="3.8" fill="#000"/>
<circle cx="438.3" cy="812.3" r="3.8" fill="#000"/>
<circle cx="435.9" cy="815.5" r="3.8" fill="#000"/>
<circle cx="444.7" cy="823.5" r="3.8" fill="#444"/>
<line x1="453.6" y1="757.2" x2="453.6" y2="761.2" stroke="#999" stroke-width="0.8"/>
<circle cx="453.6" cy="759.2" r="4.1" fill="none" stroke="#808080" stroke-width="1"/>
<line x1="456" y1="751.6" x2="456" y2="755.6" stroke="#999" stroke-width="0.8"/>
<circle cx="456" cy="753.6" r="4.1" fill="none" stroke="#808080" stroke-width="1"/>
<line x1="453.6" y1="774.9" x2="453.6" y2="778.9" stroke="#999" stroke-width="0.8"/>
<circle cx="453.6" cy="776.9" r="4.1" fill="none" stroke="#808080" stroke-width="1"/>
<line x1="451.9" y1="782.1" x2="451.9" y2="786.1" stroke="#999" stroke-width="0.8"/>
<circle cx="451.9" cy="784.1" r="4.1" fill="none" stroke="#808080" stroke-width="1"/>
<line x1="458.4" y1="781.3" x2="458.4" y2="785.3" stroke="#999" stroke-width="0.8"/>
<circle cx="458.4" cy="783.3" r="4.1" fill="none" stroke="#808080" stroke-width="1"/>
<line x1="463.2" y1="787" x2="463.2" y2="791" stroke="#999" stroke-width="0.8"/>
<circle cx="463.2" cy="789" r="4.1" fill="none" stroke="#808080" stroke-width="1"/>
<line x1="467.2" y1="788.6" x2="467.2" y2="792.6" stroke="#999" stroke-width="0.8"/>
<circle cx="467.2" cy="790.6" r="4.1" fill="none" stroke="#808080" stroke-width="1"/>
<line x1="472.8" y1="788.6" x2="472.8" y2="792.6" stroke="#999" stroke-width="0.8"/>
<circle cx="472.8" cy="790.6" r="4.1" fill="none" stroke="#808080" stroke-width="1"/>
<line x1="482.5" y1="788.6" x2="482.5" y2="792.6" stroke="#999" stroke-width="0.8"/>
<circle cx="482.5" cy="790.6" r="4.1" fill="none" stroke="#808080" stroke-width="1"/>
<line x1="453.6" y1="806.2" x2="453.6" y2="810.2" stroke="#999" stroke-width="0.8"/>
<circle cx="453.6" cy="808.2" r="4.1" fill="none" stroke="#808080" stroke-width="1"/>
<line x1="449.5" y1="811.1" x2="449.5" y2="815.1" stroke="#999" stroke-width="0.8"/>
<circle cx="449.5" cy="813.1" r="4.1" fill="none" stroke="#808080" stroke-width="1"/>
<line x1="461.6" y1="807" x2="461.6" y2="811" stroke="#999" stroke-width="0.8"/>
<circle cx="461.6" cy="809" r="4.1" fill="none" stroke="#808080" stroke-width="1"/>
<line x1="466.4" y1="805.4" x2="466.4" y2="809.4" stroke="#999" stroke-width="0.8"/>
<circle cx="466.4" cy="807.4" r="4.1" fill="none" stroke="#808080" stroke-width="1"/>
<line x1="470.4" y1="815.1" x2="470.4" y2="819.1" stroke="#999" stroke-width="0.8"/>
<circle cx="470.4" cy="817.1" r="4.1" fill="none" stroke="#808080" stroke-width="1"/>
<line x1="447.1" y1="817.5" x2="447.1" y2="821.5" stroke="#999" stroke-width="0.8"/>
<circle cx="447.1" cy="819.5" r="4.1" fill="none" stroke="#808080" stroke-width="1"/>
<line x1="448.7" y1="824.7" x2="448.7" y2="828.7" stroke="#999" stroke-width="0.8"/>
<circle cx="448.7" cy="826.7" r="4.1" fill="none" stroke="#808080" stroke-width="1"/>
<line x1="446.3" y1="831.1" x2="446.3" y2="835.1" stroke="#999" stroke-width="0.8"/>
<circle cx="446.3" cy="833.1" r="4.1" fill="none" stroke="#808080" stroke-width="1"/>
<line x1="450.3" y1="830.3" x2="450.3" y2="834.3" stroke="#999" stroke-width="0.8"/>
<circle cx="450.3" cy="832.3" r="4.1" fill="none" stroke="#808080" stroke-width="1"/>
<line x1="458.4" y1="826.3" x2="458.4" y2="830.3" stroke="#999" stroke-width="0.8"/>
<circle cx="458.4" cy="828.3" r="4.1" fill="none" stroke="#808080" stroke-width="1"/>
<line x1="463.2" y1="832.7" x2="463.2" y2="836.7" stroke="#999" stroke-width="0.8"/>
<circle cx="463.2" cy="834.7" r="4.1" fill="none" stroke="#808080" stroke-width="1"/>
<line x1="469.6" y1="830.3" x2="469.6" y2="834.3" stroke="#999" stroke-width="0.8"/>
<circle cx="469.6" cy="832.3" r="4.1" fill="none" stroke="#808080" stroke-width="1"/>
<line x1="447.9" y1="844.8" x2="447.9" y2="848.8" stroke="#999" stroke-width="0.8"/>
<circle cx="447.9" cy="846.8" r="4.1" fill="none" stroke="#808080" stroke-width="1"/>
<line x1="466.4" y1="849.6" x2="466.4" y2="853.6" stroke="#999" stroke-width="0.8"/>
<circle cx="466.4" cy="851.6" r="4.1" fill="none" stroke="#808080" stroke-width="1"/>
<line x1="468" y1="855.2" x2="468" y2="859.2" stroke="#999" stroke-width="0.8"/>
<circle cx="468" cy="857.2" r="4.1" fill="none" stroke="#808080" stroke-width="1"/>
<line x1="489.7" y1="834.4" x2="489.7" y2="838.4" stroke="#999" stroke-width="0.8"/>
<circle cx="489.7" cy="836.4" r="4.1" fill="none" stroke="#808080" stroke-width="1"/>
<line x1="489.7" y1="855.2" x2="489.7" y2="859.2" stroke="#999" stroke-width="0.8"/>
<circle cx="489.7" cy="857.2" r="4.1" fill="none" stroke="#808080" stroke-width="1"/>
<line x1="493.7" y1="830.3" x2="493.7" y2="834.3" stroke="#999" stroke-width="0.8"/>
<circle cx="493.7" cy="832.3" r="4.1" fill="none" stroke="#808080" stroke-width="1"/>
<line x1="490.5" y1="811.9" x2="490.5" y2="815.9" stroke="#999" stroke-width="0.8"/>
<circle cx="490.5" cy="813.9" r="4.1" fill="none" stroke="#808080" stroke-width="1"/>
<line x1="471.2" y1="765.3" x2="471.2" y2="769.3" stroke="#999" stroke-width="0.8"/>
<circle cx="471.2" cy="767.3" r="4.1" fill="none" stroke="#808080" stroke-width="1"/>
<line x1="476" y1="760.5" x2="476" y2="764.5" stroke="#999" stroke-width="0.8"/>
<circle cx="476" cy="762.5" r="4.1" fill="none" stroke="#808080" stroke-width="1"/>
<line x1="479.3" y1="765.3" x2="479.3" y2="769.3" stroke="#999" stroke-width="0.8"/>
<circle cx="479.3" cy="767.3" r="4.1" fill="none" stroke="#808080" stroke-width="1"/>
<circle cx="463.2" cy="768.9" r="3.8" fill="#e00000"/>
<circle cx="470.4" cy="782.2" r="3.8" fill="#444"/>
<circle cx="488.1" cy="778.5" r="3.8" fill="#e00000"/>
<circle cx="492.9" cy="764.1" r="3.8" fill="#000"/>
<circle cx="489.7" cy="810.6" r="3.8" fill="#444"/>
<circle cx="471.2" cy="840.4" r="3.8" fill="#000"/>
<circle cx="483.3" cy="852.1" r="3.8" fill="#000"/>
<circle cx="493.7" cy="793" r="3.8" fill="#e00000"/>
<circle cx="493.7" cy="799.4" r="3.8" fill="#e00000"/>
<circle cx="507.3" cy="755.2" r="3.8" fill="#e00000"/>
<circle cx="532.2" cy="752" r="3.8" fill="#e00000"/>
<circle cx="518.9" cy="758.9" r="3.8" fill="#000"/>
<circle cx="524.2" cy="763.7" r="3.8" fill="#000"/>
<circle cx="493.2" cy="763.7" r="3.8" fill="#000"/>
<circle cx="499" cy="760.5" r="3.8" fill="#e00000"/>
<circle cx="497.7" cy="768.9" r="3.8" fill="#e00000"/>
<line x1="518.6" y1="781.7" x2="518.6" y2="785.7" stroke="#999" stroke-width="0.8"/>
<circle cx="518.6" cy="783.7" r="4.1" fill="none" stroke="#808080" stroke-width="1"/>
<line x1="482.4" y1="788.6" x2="482.4" y2="792.6" stroke="#999" stroke-width="0.8"/>
<circle cx="482.4" cy="790.6" r="4.1" fill="none" stroke="#808080" stroke-width="1"/>
<circle cx="499.3" cy="786.9" r="3.8" fill="#e00000"/>
<circle cx="503.8" cy="786.9" r="3.8" fill="#e00000"/>
<circle cx="531.7" cy="786.9" r="3.8" fill="#000"/>
<circle cx="515.3" cy="789" r="3.8" fill="#e00000"/>
<circle cx="495.3" cy="793.8" r="3.8" fill="#e00000"/>
<circle cx="494.1" cy="799.4" r="3.8" fill="#e00000"/>
<circle cx="503.8" cy="793.8" r="3.8" fill="#000"/>
<circle cx="500.6" cy="800.7" r="3.8" fill="#000"/>
<circle cx="514.5" cy="800.7" r="3.8" fill="#000"/>
<circle cx="532.2" cy="800.2" r="3.8" fill="#444"/>
<circle cx="528.2" cy="803.9" r="3.8" fill="#e00000"/>
<circle cx="504.9" cy="808.7" r="3.8" fill="#000"/>
<circle cx="512.1" cy="815.5" r="3.8" fill="#000"/>
<circle cx="490" cy="810.3" r="3.8" fill="#000"/>
<line x1="490.4" y1="811.9" x2="490.4" y2="815.9" stroke="#999" stroke-width="0.8"/>
<circle cx="490.4" cy="813.9" r="4.1" fill="none" stroke="#808080" stroke-width="1"/>
<line x1="500.9" y1="811.9" x2="500.9" y2="815.9" stroke="#999" stroke-width="0.8"/>
<circle cx="500.9" cy="813.9" r="4.1" fill="none" stroke="#808080" stroke-width="1"/>
<line x1="495.3" y1="829.5" x2="495.3" y2="833.5" stroke="#999" stroke-width="0.8"/>
<circle cx="495.3" cy="831.5" r="4.1" fill="none" stroke="#808080" stroke-width="1"/>
<line x1="491.6" y1="835.2" x2="491.6" y2="839.2" stroke="#999" stroke-width="0.8"/>
<circle cx="491.6" cy="837.2" r="4.1" fill="none" stroke="#808080" stroke-width="1"/>
<line x1="489.3" y1="855.2" x2="489.3" y2="859.2" stroke="#999" stroke-width="0.8"/>
<circle cx="489.3" cy="857.2" r="4.1" fill="none" stroke="#808080" stroke-width="1"/>
<line x1="525" y1="830.3" x2="525" y2="834.3" stroke="#999" stroke-width="0.8"/>
<circle cx="525" cy="832.3" r="4.1" fill="none" stroke="#808080" stroke-width="1"/>
<line x1="544.3" y1="825" x2="544.3" y2="829" stroke="#999" stroke-width="0.8"/>
<circle cx="544.3" cy="827" r="4.1" fill="none" stroke="#808080" stroke-width="1"/>
<line x1="512.9" y1="869.7" x2="512.9" y2="873.7" stroke="#999" stroke-width="0.8"/>
<circle cx="512.9" cy="871.7" r="4.1" fill="none" stroke="#808080" stroke-width="1"/>
<circle cx="483.2" cy="852.1" r="3.8" fill="#000"/>
<line x1="367.2" y1="151.8" x2="624.3" y2="2.8" stroke="#2a2aff" stroke-width="1.3"/>
<line x1="394.7" y1="301.7" x2="644" y2="166.8" stroke="#2a2aff" stroke-width="1.3"/>
<line x1="362.5" y1="430" x2="644" y2="360" stroke="#2a2aff" stroke-width="1.3"/>
<line x1="362.5" y1="585" x2="644" y2="502.4" stroke="#2a2aff" stroke-width="1.3"/>
<line x1="362.5" y1="716" x2="644" y2="683" stroke="#2a2aff" stroke-width="1.3"/>
<line x1="362.5" y1="811" x2="644" y2="783" stroke="#2a2aff" stroke-width="1.3"/>
<line x1="68.5" y1="132.4" x2="73.5" y2="132.4" stroke="#000" stroke-width="2"/>
<line x1="350.5" y1="132.4" x2="345.5" y2="132.4" stroke="#000" stroke-width="2"/>
<line x1="68.5" y1="112.4" x2="73.5" y2="112.4" stroke="#000" stroke-width="2"/>
<line x1="350.5" y1="112.4" x2="345.5" y2="112.4" stroke="#000" stroke-width="2"/>
<line x1="68.5" y1="92.5" x2="73.5" y2="92.5" stroke="#000" stroke-width="2"/>
<line x1="350.5" y1="92.5" x2="345.5" y2="92.5" stroke="#000" stroke-width="2"/>
<line x1="68.5" y1="72.6" x2="73.5" y2="72.6" stroke="#000" stroke-width="2"/>
<line x1="350.5" y1="72.6" x2="345.5" y2="72.6" stroke="#000" stroke-width="2"/>
<line x1="68.5" y1="52.6" x2="73.5" y2="52.6" stroke="#000" stroke-width="2"/>
<line x1="350.5" y1="52.6" x2="345.5" y2="52.6" stroke="#000" stroke-width="2"/>
<line x1="68.5" y1="32.7" x2="73.5" y2="32.7" stroke="#000" stroke-width="2"/>
<line x1="350.5" y1="32.7" x2="345.5" y2="32.7" stroke="#000" stroke-width="2"/>
<line x1="68.5" y1="12.8" x2="73.5" y2="12.8" stroke="#000" stroke-width="2"/>
<line x1="350.5" y1="12.8" x2="345.5" y2="12.8" stroke="#000" stroke-width="2"/>
<line x1="68.5" y1="264.4" x2="73.5" y2="264.4" stroke="#000" stroke-width="2"/>
<line x1="350.5" y1="264.4" x2="345.5" y2="264.4" stroke="#000" stroke-width="2"/>
<line x1="68.5" y1="227.1" x2="73.5" y2="227.1" stroke="#000" stroke-width="2"/>
<line x1="350.5" y1="227.1" x2="345.5" y2="227.1" stroke="#000" stroke-width="2"/>
<line x1="68.5" y1="189.7" x2="73.5" y2="189.7" stroke="#000" stroke-width="2"/>
<line x1="350.5" y1="189.7" x2="345.5" y2="189.7" stroke="#000" stroke-width="2"/>
<line x1="68.5" y1="418.1" x2="73.5" y2="418.1" stroke="#000" stroke-width="2"/>
<line x1="350.5" y1="418.1" x2="345.5" y2="418.1" stroke="#000" stroke-width="2"/>
<line x1="68.5" y1="384.9" x2="73.5" y2="384.9" stroke="#000" stroke-width="2"/>
<line x1="350.5" y1="384.9" x2="345.5" y2="384.9" stroke="#000" stroke-width="2"/>
<line x1="68.5" y1="351.6" x2="73.5" y2="351.6" stroke="#000" stroke-width="2"/>
<line x1="350.5" y1="351.6" x2="345.5" y2="351.6" stroke="#000" stroke-width="2"/>
<line x1="68.5" y1="318.4" x2="73.5" y2="318.4" stroke="#000" stroke-width="2"/>
<line x1="350.5" y1="318.4" x2="345.5" y2="318.4" stroke="#000" stroke-width="2"/>
<line x1="68.5" y1="575.9" x2="73.5" y2="575.9" stroke="#000" stroke-width="2"/>
<line x1="350.5" y1="575.9" x2="345.5" y2="575.9" stroke="#000" stroke-width="2"/>
<line x1="68.5" y1="551.0" x2="73.5" y2="551.0" stroke="#000" stroke-width="2"/>
<line x1="350.5" y1="551.0" x2="345.5" y2="551.0" stroke="#000" stroke-width="2"/>
<line x1="68.5" y1="526.0" x2="73.5" y2="526.0" stroke="#000" stroke-width="2"/>
<line x1="350.5" y1="526.0" x2="345.5" y2="526.0" stroke="#000" stroke-width="2"/>
<line x1="68.5" y1="501.1" x2="73.5" y2="501.1" stroke="#000" stroke-width="2"/>
<line x1="350.5" y1="501.1" x2="345.5" y2="501.1" stroke="#000" stroke-width="2"/>
<line x1="68.5" y1="476.2" x2="73.5" y2="476.2" stroke="#000" stroke-width="2"/>
<line x1="350.5" y1="476.2" x2="345.5" y2="476.2" stroke="#000" stroke-width="2"/>
<line x1="68.5" y1="717.1" x2="73.5" y2="717.1" stroke="#000" stroke-width="2"/>
<line x1="350.5" y1="717.1" x2="345.5" y2="717.1" stroke="#000" stroke-width="2"/>
<line x1="68.5" y1="683.9" x2="73.5" y2="683.9" stroke="#000" stroke-width="2"/>
<line x1="350.5" y1="683.9" x2="345.5" y2="683.9" stroke="#000" stroke-width="2"/>
<line x1="68.5" y1="650.6" x2="73.5" y2="650.6" stroke="#000" stroke-width="2"/>
<line x1="350.5" y1="650.6" x2="345.5" y2="650.6" stroke="#000" stroke-width="2"/>
<line x1="68.5" y1="617.4" x2="73.5" y2="617.4" stroke="#000" stroke-width="2"/>
<line x1="350.5" y1="617.4" x2="345.5" y2="617.4" stroke="#000" stroke-width="2"/>
<line x1="68.5" y1="866.6" x2="73.5" y2="866.6" stroke="#000" stroke-width="2"/>
<line x1="350.5" y1="866.6" x2="345.5" y2="866.6" stroke="#000" stroke-width="2"/>
<line x1="68.5" y1="833.4" x2="73.5" y2="833.4" stroke="#000" stroke-width="2"/>
<line x1="350.5" y1="833.4" x2="345.5" y2="833.4" stroke="#000" stroke-width="2"/>
<line x1="68.5" y1="800.1" x2="73.5" y2="800.1" stroke="#000" stroke-width="2"/>
<line x1="350.5" y1="800.1" x2="345.5" y2="800.1" stroke="#000" stroke-width="2"/>
<line x1="68.5" y1="766.9" x2="73.5" y2="766.9" stroke="#000" stroke-width="2"/>
<line x1="350.5" y1="766.9" x2="345.5" y2="766.9" stroke="#000" stroke-width="2"/>
<line x1="129.8" y1="2.8" x2="129.8" y2="6.3" stroke="#000" stroke-width="1.6"/>
<line x1="129.8" y1="152.3" x2="129.8" y2="148.8" stroke="#000" stroke-width="1.6"/>
<line x1="191.1" y1="2.8" x2="191.1" y2="6.3" stroke="#000" stroke-width="1.6"/>
<line x1="191.1" y1="152.3" x2="191.1" y2="148.8" stroke="#000" stroke-width="1.6"/>
<line x1="252.4" y1="2.8" x2="252.4" y2="6.3" stroke="#000" stroke-width="1.6"/>
<line x1="252.4" y1="152.3" x2="252.4" y2="148.8" stroke="#000" stroke-width="1.6"/>
<line x1="313.7" y1="2.8" x2="313.7" y2="6.3" stroke="#000" stroke-width="1.6"/>
<line x1="313.7" y1="152.3" x2="313.7" y2="148.8" stroke="#000" stroke-width="1.6"/>
<line x1="129.8" y1="152.3" x2="129.8" y2="155.8" stroke="#000" stroke-width="1.6"/>
<line x1="129.8" y1="301.8" x2="129.8" y2="298.3" stroke="#000" stroke-width="1.6"/>
<line x1="191.1" y1="152.3" x2="191.1" y2="155.8" stroke="#000" stroke-width="1.6"/>
<line x1="191.1" y1="301.8" x2="191.1" y2="298.3" stroke="#000" stroke-width="1.6"/>
<line x1="252.4" y1="152.3" x2="252.4" y2="155.8" stroke="#000" stroke-width="1.6"/>
<line x1="252.4" y1="301.8" x2="252.4" y2="298.3" stroke="#000" stroke-width="1.6"/>
<line x1="313.7" y1="152.3" x2="313.7" y2="155.8" stroke="#000" stroke-width="1.6"/>
<line x1="313.7" y1="301.8" x2="313.7" y2="298.3" stroke="#000" stroke-width="1.6"/>
<line x1="129.8" y1="301.8" x2="129.8" y2="305.3" stroke="#000" stroke-width="1.6"/>
<line x1="129.8" y1="451.3" x2="129.8" y2="447.8" stroke="#000" stroke-width="1.6"/>
<line x1="191.1" y1="301.8" x2="191.1" y2="305.3" stroke="#000" stroke-width="1.6"/>
<line x1="191.1" y1="451.3" x2="191.1" y2="447.8" stroke="#000" stroke-width="1.6"/>
<line x1="252.4" y1="301.8" x2="252.4" y2="305.3" stroke="#000" stroke-width="1.6"/>
<line x1="252.4" y1="451.3" x2="252.4" y2="447.8" stroke="#000" stroke-width="1.6"/>
<line x1="313.7" y1="301.8" x2="313.7" y2="305.3" stroke="#000" stroke-width="1.6"/>
<line x1="313.7" y1="451.3" x2="313.7" y2="447.8" stroke="#000" stroke-width="1.6"/>
<line x1="129.8" y1="451.3" x2="129.8" y2="454.8" stroke="#000" stroke-width="1.6"/>
<line x1="129.8" y1="600.8" x2="129.8" y2="597.3" stroke="#000" stroke-width="1.6"/>
<line x1="191.1" y1="451.3" x2="191.1" y2="454.8" stroke="#000" stroke-width="1.6"/>
<line x1="191.1" y1="600.8" x2="191.1" y2="597.3" stroke="#000" stroke-width="1.6"/>
<line x1="252.4" y1="451.3" x2="252.4" y2="454.8" stroke="#000" stroke-width="1.6"/>
<line x1="252.4" y1="600.8" x2="252.4" y2="597.3" stroke="#000" stroke-width="1.6"/>
<line x1="313.7" y1="451.3" x2="313.7" y2="454.8" stroke="#000" stroke-width="1.6"/>
<line x1="313.7" y1="600.8" x2="313.7" y2="597.3" stroke="#000" stroke-width="1.6"/>
<line x1="129.8" y1="600.8" x2="129.8" y2="604.3" stroke="#000" stroke-width="1.6"/>
<line x1="129.8" y1="750.3" x2="129.8" y2="746.8" stroke="#000" stroke-width="1.6"/>
<line x1="191.1" y1="600.8" x2="191.1" y2="604.3" stroke="#000" stroke-width="1.6"/>
<line x1="191.1" y1="750.3" x2="191.1" y2="746.8" stroke="#000" stroke-width="1.6"/>
<line x1="252.4" y1="600.8" x2="252.4" y2="604.3" stroke="#000" stroke-width="1.6"/>
<line x1="252.4" y1="750.3" x2="252.4" y2="746.8" stroke="#000" stroke-width="1.6"/>
<line x1="313.7" y1="600.8" x2="313.7" y2="604.3" stroke="#000" stroke-width="1.6"/>
<line x1="313.7" y1="750.3" x2="313.7" y2="746.8" stroke="#000" stroke-width="1.6"/>
<line x1="129.8" y1="750.3" x2="129.8" y2="753.8" stroke="#000" stroke-width="1.6"/>
<line x1="129.8" y1="899.8" x2="129.8" y2="896.3" stroke="#000" stroke-width="1.6"/>
<line x1="191.1" y1="750.3" x2="191.1" y2="753.8" stroke="#000" stroke-width="1.6"/>
<line x1="191.1" y1="899.8" x2="191.1" y2="896.3" stroke="#000" stroke-width="1.6"/>
<line x1="252.4" y1="750.3" x2="252.4" y2="753.8" stroke="#000" stroke-width="1.6"/>
<line x1="252.4" y1="899.8" x2="252.4" y2="896.3" stroke="#000" stroke-width="1.6"/>
<line x1="313.7" y1="750.3" x2="313.7" y2="753.8" stroke="#000" stroke-width="1.6"/>
<line x1="313.7" y1="899.8" x2="313.7" y2="896.3" stroke="#000" stroke-width="1.6"/>
<rect x="68.5" y="2.8" width="282.0" height="897.0" fill="none" stroke="#000" stroke-width="2.2"/>
<line x1="68.5" y1="152.3" x2="350.5" y2="152.3" stroke="#000" stroke-width="2.2"/>
<line x1="68.5" y1="301.8" x2="350.5" y2="301.8" stroke="#000" stroke-width="2.2"/>
<line x1="68.5" y1="451.3" x2="350.5" y2="451.3" stroke="#000" stroke-width="2.2"/>
<line x1="68.5" y1="600.8" x2="350.5" y2="600.8" stroke="#000" stroke-width="2.2"/>
<line x1="68.5" y1="750.3" x2="350.5" y2="750.3" stroke="#000" stroke-width="2.2"/>
<line x1="362.5" y1="132.4" x2="367.5" y2="132.4" stroke="#000" stroke-width="2"/>
<line x1="644.5" y1="132.4" x2="639.5" y2="132.4" stroke="#000" stroke-width="2"/>
<line x1="362.5" y1="112.4" x2="367.5" y2="112.4" stroke="#000" stroke-width="2"/>
<line x1="644.5" y1="112.4" x2="639.5" y2="112.4" stroke="#000" stroke-width="2"/>
<line x1="362.5" y1="92.5" x2="367.5" y2="92.5" stroke="#000" stroke-width="2"/>
<line x1="644.5" y1="92.5" x2="639.5" y2="92.5" stroke="#000" stroke-width="2"/>
<line x1="362.5" y1="72.6" x2="367.5" y2="72.6" stroke="#000" stroke-width="2"/>
<line x1="644.5" y1="72.6" x2="639.5" y2="72.6" stroke="#000" stroke-width="2"/>
<line x1="362.5" y1="52.6" x2="367.5" y2="52.6" stroke="#000" stroke-width="2"/>
<line x1="644.5" y1="52.6" x2="639.5" y2="52.6" stroke="#000" stroke-width="2"/>
<line x1="362.5" y1="32.7" x2="367.5" y2="32.7" stroke="#000" stroke-width="2"/>
<line x1="644.5" y1="32.7" x2="639.5" y2="32.7" stroke="#000" stroke-width="2"/>
<line x1="362.5" y1="12.8" x2="367.5" y2="12.8" stroke="#000" stroke-width="2"/>
<line x1="644.5" y1="12.8" x2="639.5" y2="12.8" stroke="#000" stroke-width="2"/>
<line x1="362.5" y1="264.4" x2="367.5" y2="264.4" stroke="#000" stroke-width="2"/>
<line x1="644.5" y1="264.4" x2="639.5" y2="264.4" stroke="#000" stroke-width="2"/>
<line x1="362.5" y1="227.1" x2="367.5" y2="227.1" stroke="#000" stroke-width="2"/>
<line x1="644.5" y1="227.1" x2="639.5" y2="227.1" stroke="#000" stroke-width="2"/>
<line x1="362.5" y1="189.7" x2="367.5" y2="189.7" stroke="#000" stroke-width="2"/>
<line x1="644.5" y1="189.7" x2="639.5" y2="189.7" stroke="#000" stroke-width="2"/>
<line x1="362.5" y1="418.1" x2="367.5" y2="418.1" stroke="#000" stroke-width="2"/>
<line x1="644.5" y1="418.1" x2="639.5" y2="418.1" stroke="#000" stroke-width="2"/>
<line x1="362.5" y1="384.9" x2="367.5" y2="384.9" stroke="#000" stroke-width="2"/>
<line x1="644.5" y1="384.9" x2="639.5" y2="384.9" stroke="#000" stroke-width="2"/>
<line x1="362.5" y1="351.6" x2="367.5" y2="351.6" stroke="#000" stroke-width="2"/>
<line x1="644.5" y1="351.6" x2="639.5" y2="351.6" stroke="#000" stroke-width="2"/>
<line x1="362.5" y1="318.4" x2="367.5" y2="318.4" stroke="#000" stroke-width="2"/>
<line x1="644.5" y1="318.4" x2="639.5" y2="318.4" stroke="#000" stroke-width="2"/>
<line x1="362.5" y1="575.9" x2="367.5" y2="575.9" stroke="#000" stroke-width="2"/>
<line x1="644.5" y1="575.9" x2="639.5" y2="575.9" stroke="#000" stroke-width="2"/>
<line x1="362.5" y1="551.0" x2="367.5" y2="551.0" stroke="#000" stroke-width="2"/>
<line x1="644.5" y1="551.0" x2="639.5" y2="551.0" stroke="#000" stroke-width="2"/>
<line x1="362.5" y1="526.0" x2="367.5" y2="526.0" stroke="#000" stroke-width="2"/>
<line x1="644.5" y1="526.0" x2="639.5" y2="526.0" stroke="#000" stroke-width="2"/>
<line x1="362.5" y1="501.1" x2="367.5" y2="501.1" stroke="#000" stroke-width="2"/>
<line x1="644.5" y1="501.1" x2="639.5" y2="501.1" stroke="#000" stroke-width="2"/>
<line x1="362.5" y1="476.2" x2="367.5" y2="476.2" stroke="#000" stroke-width="2"/>
<line x1="644.5" y1="476.2" x2="639.5" y2="476.2" stroke="#000" stroke-width="2"/>
<line x1="362.5" y1="717.1" x2="367.5" y2="717.1" stroke="#000" stroke-width="2"/>
<line x1="644.5" y1="717.1" x2="639.5" y2="717.1" stroke="#000" stroke-width="2"/>
<line x1="362.5" y1="683.9" x2="367.5" y2="683.9" stroke="#000" stroke-width="2"/>
<line x1="644.5" y1="683.9" x2="639.5" y2="683.9" stroke="#000" stroke-width="2"/>
<line x1="362.5" y1="650.6" x2="367.5" y2="650.6" stroke="#000" stroke-width="2"/>
<line x1="644.5" y1="650.6" x2="639.5" y2="650.6" stroke="#000" stroke-width="2"/>
<line x1="362.5" y1="617.4" x2="367.5" y2="617.4" stroke="#000" stroke-width="2"/>
<line x1="644.5" y1="617.4" x2="639.5" y2="617.4" stroke="#000" stroke-width="2"/>
<line x1="362.5" y1="866.6" x2="367.5" y2="866.6" stroke="#000" stroke-width="2"/>
<line x1="644.5" y1="866.6" x2="639.5" y2="866.6" stroke="#000" stroke-width="2"/>
<line x1="362.5" y1="833.4" x2="367.5" y2="833.4" stroke="#000" stroke-width="2"/>
<line x1="644.5" y1="833.4" x2="639.5" y2="833.4" stroke="#000" stroke-width="2"/>
<line x1="362.5" y1="800.1" x2="367.5" y2="800.1" stroke="#000" stroke-width="2"/>
<line x1="644.5" y1="800.1" x2="639.5" y2="800.1" stroke="#000" stroke-width="2"/>
<line x1="362.5" y1="766.9" x2="367.5" y2="766.9" stroke="#000" stroke-width="2"/>
<line x1="644.5" y1="766.9" x2="639.5" y2="766.9" stroke="#000" stroke-width="2"/>
<line x1="426.6" y1="2.8" x2="426.6" y2="6.3" stroke="#000" stroke-width="1.6"/>
<line x1="426.6" y1="152.3" x2="426.6" y2="148.8" stroke="#000" stroke-width="1.6"/>
<line x1="490.7" y1="2.8" x2="490.7" y2="6.3" stroke="#000" stroke-width="1.6"/>
<line x1="490.7" y1="152.3" x2="490.7" y2="148.8" stroke="#000" stroke-width="1.6"/>
<line x1="554.8" y1="2.8" x2="554.8" y2="6.3" stroke="#000" stroke-width="1.6"/>
<line x1="554.8" y1="152.3" x2="554.8" y2="148.8" stroke="#000" stroke-width="1.6"/>
<line x1="618.9" y1="2.8" x2="618.9" y2="6.3" stroke="#000" stroke-width="1.6"/>
<line x1="618.9" y1="152.3" x2="618.9" y2="148.8" stroke="#000" stroke-width="1.6"/>
<line x1="426.6" y1="152.3" x2="426.6" y2="155.8" stroke="#000" stroke-width="1.6"/>
<line x1="426.6" y1="301.8" x2="426.6" y2="298.3" stroke="#000" stroke-width="1.6"/>
<line x1="490.7" y1="152.3" x2="490.7" y2="155.8" stroke="#000" stroke-width="1.6"/>
<line x1="490.7" y1="301.8" x2="490.7" y2="298.3" stroke="#000" stroke-width="1.6"/>
<line x1="554.8" y1="152.3" x2="554.8" y2="155.8" stroke="#000" stroke-width="1.6"/>
<line x1="554.8" y1="301.8" x2="554.8" y2="298.3" stroke="#000" stroke-width="1.6"/>
<line x1="618.9" y1="152.3" x2="618.9" y2="155.8" stroke="#000" stroke-width="1.6"/>
<line x1="618.9" y1="301.8" x2="618.9" y2="298.3" stroke="#000" stroke-width="1.6"/>
<line x1="426.6" y1="301.8" x2="426.6" y2="305.3" stroke="#000" stroke-width="1.6"/>
<line x1="426.6" y1="451.3" x2="426.6" y2="447.8" stroke="#000" stroke-width="1.6"/>
<line x1="490.7" y1="301.8" x2="490.7" y2="305.3" stroke="#000" stroke-width="1.6"/>
<line x1="490.7" y1="451.3" x2="490.7" y2="447.8" stroke="#000" stroke-width="1.6"/>
<line x1="554.8" y1="301.8" x2="554.8" y2="305.3" stroke="#000" stroke-width="1.6"/>
<line x1="554.8" y1="451.3" x2="554.8" y2="447.8" stroke="#000" stroke-width="1.6"/>
<line x1="618.9" y1="301.8" x2="618.9" y2="305.3" stroke="#000" stroke-width="1.6"/>
<line x1="618.9" y1="451.3" x2="618.9" y2="447.8" stroke="#000" stroke-width="1.6"/>
<line x1="426.6" y1="451.3" x2="426.6" y2="454.8" stroke="#000" stroke-width="1.6"/>
<line x1="426.6" y1="600.8" x2="426.6" y2="597.3" stroke="#000" stroke-width="1.6"/>
<line x1="490.7" y1="451.3" x2="490.7" y2="454.8" stroke="#000" stroke-width="1.6"/>
<line x1="490.7" y1="600.8" x2="490.7" y2="597.3" stroke="#000" stroke-width="1.6"/>
<line x1="554.8" y1="451.3" x2="554.8" y2="454.8" stroke="#000" stroke-width="1.6"/>
<line x1="554.8" y1="600.8" x2="554.8" y2="597.3" stroke="#000" stroke-width="1.6"/>
<line x1="618.9" y1="451.3" x2="618.9" y2="454.8" stroke="#000" stroke-width="1.6"/>
<line x1="618.9" y1="600.8" x2="618.9" y2="597.3" stroke="#000" stroke-width="1.6"/>
<line x1="426.6" y1="600.8" x2="426.6" y2="604.3" stroke="#000" stroke-width="1.6"/>
<line x1="426.6" y1="750.3" x2="426.6" y2="746.8" stroke="#000" stroke-width="1.6"/>
<line x1="490.7" y1="600.8" x2="490.7" y2="604.3" stroke="#000" stroke-width="1.6"/>
<line x1="490.7" y1="750.3" x2="490.7" y2="746.8" stroke="#000" stroke-width="1.6"/>
<line x1="554.8" y1="600.8" x2="554.8" y2="604.3" stroke="#000" stroke-width="1.6"/>
<line x1="554.8" y1="750.3" x2="554.8" y2="746.8" stroke="#000" stroke-width="1.6"/>
<line x1="618.9" y1="600.8" x2="618.9" y2="604.3" stroke="#000" stroke-width="1.6"/>
<line x1="618.9" y1="750.3" x2="618.9" y2="746.8" stroke="#000" stroke-width="1.6"/>
<line x1="426.6" y1="750.3" x2="426.6" y2="753.8" stroke="#000" stroke-width="1.6"/>
<line x1="426.6" y1="899.8" x2="426.6" y2="896.3" stroke="#000" stroke-width="1.6"/>
<line x1="490.7" y1="750.3" x2="490.7" y2="753.8" stroke="#000" stroke-width="1.6"/>
<line x1="490.7" y1="899.8" x2="490.7" y2="896.3" stroke="#000" stroke-width="1.6"/>
<line x1="554.8" y1="750.3" x2="554.8" y2="753.8" stroke="#000" stroke-width="1.6"/>
<line x1="554.8" y1="899.8" x2="554.8" y2="896.3" stroke="#000" stroke-width="1.6"/>
<line x1="618.9" y1="750.3" x2="618.9" y2="753.8" stroke="#000" stroke-width="1.6"/>
<line x1="618.9" y1="899.8" x2="618.9" y2="896.3" stroke="#000" stroke-width="1.6"/>
<rect x="362.5" y="2.8" width="282.0" height="897.0" fill="none" stroke="#000" stroke-width="2.2"/>
<line x1="362.5" y1="152.3" x2="644.5" y2="152.3" stroke="#000" stroke-width="2.2"/>
<line x1="362.5" y1="301.8" x2="644.5" y2="301.8" stroke="#000" stroke-width="2.2"/>
<line x1="362.5" y1="451.3" x2="644.5" y2="451.3" stroke="#000" stroke-width="2.2"/>
<line x1="362.5" y1="600.8" x2="644.5" y2="600.8" stroke="#000" stroke-width="2.2"/>
<line x1="362.5" y1="750.3" x2="644.5" y2="750.3" stroke="#000" stroke-width="2.2"/>
<text x="63" y="153.1" font-family="Liberation Sans, sans-serif" font-size="16" text-anchor="end">0</text>
<text x="63" y="138.2" font-family="Liberation Sans, sans-serif" font-size="16" text-anchor="end">200</text>
<text x="63" y="118.2" font-family="Liberation Sans, sans-serif" font-size="16" text-anchor="end">400</text>
<text x="63" y="98.3" font-family="Liberation Sans, sans-serif" font-size="16" text-anchor="end">600</text>
<text x="63" y="78.4" font-family="Liberation Sans, sans-serif" font-size="16" text-anchor="end">800</text>
<text x="63" y="58.4" font-family="Liberation Sans, sans-serif" font-size="16" text-anchor="end">1000</text>
<text x="63" y="38.5" font-family="Liberation Sans, sans-serif" font-size="16" text-anchor="end">1200</text>
<text x="63" y="18.6" font-family="Liberation Sans, sans-serif" font-size="16" text-anchor="end">1400</text>
<text x="63" y="302.6" font-family="Liberation Sans, sans-serif" font-size="16" text-anchor="end">0</text>
<text x="63" y="270.2" font-family="Liberation Sans, sans-serif" font-size="16" text-anchor="end">200</text>
<text x="63" y="232.9" font-family="Liberation Sans, sans-serif" font-size="16" text-anchor="end">400</text>
<text x="63" y="195.5" font-family="Liberation Sans, sans-serif" font-size="16" text-anchor="end">600</text>
<text x="63" y="162.3" font-family="Liberation Sans, sans-serif" font-size="16" text-anchor="end">800</text>
<text x="63" y="423.9" font-family="Liberation Sans, sans-serif" font-size="16" text-anchor="end">2</text>
<text x="63" y="390.7" font-family="Liberation Sans, sans-serif" font-size="16" text-anchor="end">4</text>
<text x="63" y="357.4" font-family="Liberation Sans, sans-serif" font-size="16" text-anchor="end">6</text>
<text x="63" y="324.2" font-family="Liberation Sans, sans-serif" font-size="16" text-anchor="end">8</text>
<text x="63" y="601.6" font-family="Liberation Sans, sans-serif" font-size="16" text-anchor="end">0</text>
<text x="63" y="581.7" font-family="Liberation Sans, sans-serif" font-size="16" text-anchor="end">2</text>
<text x="63" y="556.8" font-family="Liberation Sans, sans-serif" font-size="16" text-anchor="end">4</text>
<text x="63" y="531.8" font-family="Liberation Sans, sans-serif" font-size="16" text-anchor="end">6</text>
<text x="63" y="506.9" font-family="Liberation Sans, sans-serif" font-size="16" text-anchor="end">8</text>
<text x="63" y="482.0" font-family="Liberation Sans, sans-serif" font-size="16" text-anchor="end">10</text>
<text x="63" y="461.3" font-family="Liberation Sans, sans-serif" font-size="16" text-anchor="end">12</text>
<text x="63" y="751.1" font-family="Liberation Sans, sans-serif" font-size="16" text-anchor="end">0</text>
<text x="63" y="722.9" font-family="Liberation Sans, sans-serif" font-size="16" text-anchor="end">2</text>
<text x="63" y="689.7" font-family="Liberation Sans, sans-serif" font-size="16" text-anchor="end">4</text>
<text x="63" y="656.4" font-family="Liberation Sans, sans-serif" font-size="16" text-anchor="end">6</text>
<text x="63" y="623.2" font-family="Liberation Sans, sans-serif" font-size="16" text-anchor="end">8</text>
<text x="63" y="900.6" font-family="Liberation Sans, sans-serif" font-size="16" text-anchor="end">0</text>
<text x="63" y="872.4" font-family="Liberation Sans, sans-serif" font-size="16" text-anchor="end">20</text>
<text x="63" y="839.2" font-family="Liberation Sans, sans-serif" font-size="16" text-anchor="end">40</text>
<text x="63" y="805.9" font-family="Liberation Sans, sans-serif" font-size="16" text-anchor="end">60</text>
<text x="63" y="772.7" font-family="Liberation Sans, sans-serif" font-size="16" text-anchor="end">80</text>
<text x="68.5" y="921.6" font-family="Liberation Sans, sans-serif" font-size="16" text-anchor="middle">− 100</text>
<text x="129.8" y="921.6" font-family="Liberation Sans, sans-serif" font-size="16" text-anchor="middle">− 50</text>
<text x="191.1" y="921.6" font-family="Liberation Sans, sans-serif" font-size="16" text-anchor="middle">0</text>
<text x="252.4" y="921.6" font-family="Liberation Sans, sans-serif" font-size="16" text-anchor="middle">50</text>
<text x="313.7" y="921.6" font-family="Liberation Sans, sans-serif" font-size="16" text-anchor="middle">100</text>
<text x="362.5" y="921.6" font-family="Liberation Sans, sans-serif" font-size="16" text-anchor="middle">0</text>
<text x="426.6" y="921.6" font-family="Liberation Sans, sans-serif" font-size="16" text-anchor="middle">500</text>
<text x="490.7" y="921.6" font-family="Liberation Sans, sans-serif" font-size="16" text-anchor="middle">1000</text>
<text x="554.8" y="921.6" font-family="Liberation Sans, sans-serif" font-size="16" text-anchor="middle">1500</text>
<text x="618.9" y="921.6" font-family="Liberation Sans, sans-serif" font-size="16" text-anchor="middle">2000</text>
<text x="151.6" y="940.3" font-family="Liberation Sans, sans-serif" font-size="16" textLength="114" lengthAdjust="spacingAndGlyphs">Longitude [deg]</text>
<text x="423.6" y="940.3" font-family="Liberation Sans, sans-serif" font-size="16" textLength="156" lengthAdjust="spacingAndGlyphs">Transit Speed [km/s]</text>
<text transform="translate(14.3,77.9) rotate(-90)" font-family="Liberation Sans, sans-serif" font-size="15" text-anchor="middle" textLength="81" lengthAdjust="spacingAndGlyphs">V<tspan font-size="10.5" dy="3">sc</tspan><tspan dy="-3">  [km/s]</tspan></text>
<text transform="translate(23.8,227.3) rotate(-90)" font-family="Liberation Sans, sans-serif" font-size="15" text-anchor="middle" textLength="78.8" lengthAdjust="spacingAndGlyphs">V<tspan font-size="10.5" dy="3">sh</tspan><tspan dy="-3">  [km/s]</tspan></text>
<text transform="translate(27,376.85) rotate(-90)" font-family="Liberation Sans, sans-serif" font-size="14.5" text-anchor="middle" textLength="24.1" lengthAdjust="spacingAndGlyphs">M<tspan font-size="10.5" dy="4">ms</tspan><tspan dy="-4"></tspan></text>
<text transform="translate(32.6,525.9) rotate(-90)" font-family="Liberation Sans, sans-serif" font-size="14.5" text-anchor="middle" textLength="15.6" lengthAdjust="spacingAndGlyphs">M<tspan font-size="10.5" dy="4">A</tspan><tspan dy="-4"></tspan></text>
<text transform="translate(26.7,675.9) rotate(-90)" font-family="Liberation Sans, sans-serif" font-size="14.5" text-anchor="middle" textLength="10.4" lengthAdjust="spacingAndGlyphs">r<tspan font-size="10.5" dy="4">n</tspan><tspan dy="-4"></tspan></text>
<text transform="translate(33.2,826.2) rotate(-90)" font-family="Liberation Sans, sans-serif" font-size="15" text-anchor="middle" textLength="64.5" lengthAdjust="spacingAndGlyphs">θ<tspan font-size="10.5" dy="4">Bn</tspan><tspan dy="-4">  [deg]</tspan></text>
<text x="75.4" y="26.6" font-family="Liberation Serif, serif" font-size="20" stroke="#000" stroke-width="0.8" textLength="62.5" lengthAdjust="spacingAndGlyphs">SEPEM</text>
<text x="148.7" y="26.6" font-family="Liberation Serif, serif" font-size="20" stroke="#000" stroke-width="0.8" textLength="92.5" lengthAdjust="spacing">45.7−66.1</text>
<text x="255.9" y="26.6" font-family="Liberation Serif, serif" font-size="20" stroke="#000" stroke-width="0.8" textLength="35.5" lengthAdjust="spacingAndGlyphs">MeV</text>
<text x="74.4" y="146.7" font-family="Liberation Serif, serif" stroke="#000" stroke-width="0.75" font-size="18" textLength="113.6" lengthAdjust="spacing">(a) events=94</text>
<text x="75" y="174.5" font-family="Liberation Serif, serif" stroke="#000" stroke-width="0.75" font-size="18" textLength="113.4" lengthAdjust="spacing">(b) events=92</text>
<text x="75.1" y="326.3" font-family="Liberation Serif, serif" stroke="#000" stroke-width="0.75" font-size="18" textLength="112.9" lengthAdjust="spacing">(c) events=93</text>
<text x="75.1" y="475.9" font-family="Liberation Serif, serif" stroke="#000" stroke-width="0.75" font-size="18" textLength="113.6" lengthAdjust="spacing">(d) events=92</text>
<text x="75.1" y="623.3" font-family="Liberation Serif, serif" stroke="#000" stroke-width="0.75" font-size="18" textLength="112.9" lengthAdjust="spacing">(e) events=93</text>
<text x="75" y="895.1" font-family="Liberation Serif, serif" stroke="#000" stroke-width="0.75" font-size="18" textLength="113.4" lengthAdjust="spacing">(f) events=94</text>
<text x="376.2" y="27.6" font-family="Liberation Serif, serif" stroke="#000" stroke-width="0.75" font-size="18" textLength="113" lengthAdjust="spacing">(g) events=94</text>
<text x="373.4" y="176.3" font-family="Liberation Serif, serif" stroke="#000" stroke-width="0.75" font-size="18" textLength="115.8" lengthAdjust="spacing">(h) events=92</text>
<text x="373" y="322.7" font-family="Liberation Serif, serif" stroke="#000" stroke-width="0.75" font-size="18" textLength="109.7" lengthAdjust="spacing">(i) events=93</text>
<text x="371.9" y="479.6" font-family="Liberation Serif, serif" stroke="#000" stroke-width="0.75" font-size="18" textLength="110.1" lengthAdjust="spacing">(j) events=92</text>
<text x="373" y="741" font-family="Liberation Serif, serif" stroke="#000" stroke-width="0.75" font-size="18" textLength="114.5" lengthAdjust="spacing">(k) events=93</text>
<text x="373" y="889.4" font-family="Liberation Serif, serif" stroke="#000" stroke-width="0.75" font-size="18" textLength="109.5" lengthAdjust="spacing">(l) events=94</text>
<text x="574.2" y="77.5" font-family="Liberation Sans, sans-serif" font-size="12.5" fill="#0a0aff" stroke="#0a0aff" stroke-width="0.35" textLength="62.1" lengthAdjust="spacingAndGlyphs">V<tspan font-size="9" dy="2.5">SC</tspan><tspan dy="-2.5">=−27.+</tspan></text>
<text x="572.5" y="91.7" font-family="Liberation Sans, sans-serif" font-size="12.5" fill="#0a0aff" stroke="#0a0aff" stroke-width="0.35" textLength="65" lengthAdjust="spacingAndGlyphs">+0.74•V<tspan font-size="9" dy="2.5">trans</tspan><tspan dy="-2.5"></tspan></text>
<text x="585.3" y="111.7" font-family="Liberation Sans, sans-serif" font-size="12.5" fill="#0a0aff" stroke="#0a0aff" stroke-width="0.35" textLength="51.9" lengthAdjust="spacingAndGlyphs">r<tspan font-size="9" dy="2.5">P</tspan><tspan dy="-2.5">=0.670</tspan></text>
<text x="580" y="126.7" font-family="Liberation Sans, sans-serif" font-size="12.5" fill="#0a0aff" stroke="#0a0aff" stroke-width="0.35" textLength="57.2" lengthAdjust="spacingAndGlyphs">r<tspan font-size="9" dy="2.5">S</tspan><tspan dy="-2.5">=  0.658</tspan></text>
<text x="556.7" y="141.7" font-family="Liberation Sans, sans-serif" font-size="12.5" fill="#0a0aff" stroke="#0a0aff" stroke-width="0.35" textLength="80.5" lengthAdjust="spacingAndGlyphs">ρ=5.499e−13</text>
<text x="575.3" y="212.5" font-family="Liberation Sans, sans-serif" font-size="12.5" fill="#0a0aff" stroke="#0a0aff" stroke-width="0.35" textLength="61" lengthAdjust="spacingAndGlyphs">V<tspan font-size="9" dy="2.5">sh</tspan><tspan dy="-2.5">=−93.+</tspan></text>
<text x="572.5" y="226.7" font-family="Liberation Sans, sans-serif" font-size="12.5" fill="#0a0aff" stroke="#0a0aff" stroke-width="0.35" textLength="65" lengthAdjust="spacingAndGlyphs">+0.37•V<tspan font-size="9" dy="2.5">trans</tspan><tspan dy="-2.5"></tspan></text>
<text x="579.5" y="262.5" font-family="Liberation Sans, sans-serif" font-size="12.5" fill="#0a0aff" stroke="#0a0aff" stroke-width="0.35" textLength="57.2" lengthAdjust="spacingAndGlyphs">r<tspan font-size="9" dy="2.5">P</tspan><tspan dy="-2.5">=  0.598</tspan></text>
<text x="579.5" y="276.7" font-family="Liberation Sans, sans-serif" font-size="12.5" fill="#0a0aff" stroke="#0a0aff" stroke-width="0.35" textLength="57.2" lengthAdjust="spacingAndGlyphs">r<tspan font-size="9" dy="2.5">S</tspan><tspan dy="-2.5">=  0.615</tspan></text>
<text x="556.7" y="290.8" font-family="Liberation Sans, sans-serif" font-size="12.5" fill="#0a0aff" stroke="#0a0aff" stroke-width="0.35" textLength="79.6" lengthAdjust="spacingAndGlyphs">ρ=7.035e−11</text>
<text x="579.7" y="325.4" font-family="Liberation Sans, sans-serif" font-size="12.5" fill="#0a0aff" stroke="#0a0aff" stroke-width="0.35" textLength="58" lengthAdjust="spacingAndGlyphs">r<tspan font-size="9" dy="2.5">P</tspan><tspan dy="-2.5">=  0.333</tspan></text>
<text x="579.7" y="340.6" font-family="Liberation Sans, sans-serif" font-size="12.5" fill="#0a0aff" stroke="#0a0aff" stroke-width="0.35" textLength="57" lengthAdjust="spacingAndGlyphs">r<tspan font-size="9" dy="2.5">S</tspan><tspan dy="-2.5">=  0.304</tspan></text>
<text x="558.3" y="355" font-family="Liberation Sans, sans-serif" font-size="12.5" fill="#0a0aff" stroke="#0a0aff" stroke-width="0.35" textLength="79.4" lengthAdjust="spacingAndGlyphs">ρ=  3.016e−3</text>
<text x="573" y="420" font-family="Liberation Sans, sans-serif" font-size="12.5" fill="#0a0aff" stroke="#0a0aff" stroke-width="0.35" textLength="62.5" lengthAdjust="spacingAndGlyphs">M<tspan font-size="9" dy="2.5">ms</tspan><tspan dy="-2.5">=1.32+</tspan></text>
<text x="565.4" y="435.3" font-family="Liberation Sans, sans-serif" font-size="12.5" fill="#0a0aff" stroke="#0a0aff" stroke-width="0.35" textLength="72.3" lengthAdjust="spacingAndGlyphs">+0.002•V<tspan font-size="9" dy="2.5">trans</tspan><tspan dy="-2.5"></tspan></text>
<text x="579.7" y="477.9" font-family="Liberation Sans, sans-serif" font-size="12.5" fill="#0a0aff" stroke="#0a0aff" stroke-width="0.35" textLength="56.3" lengthAdjust="spacingAndGlyphs">M<tspan font-size="9" dy="2.5">A</tspan><tspan dy="-2.5">=1.14+</tspan></text>
<text x="565" y="495.7" font-family="Liberation Sans, sans-serif" font-size="12.5" fill="#0a0aff" stroke="#0a0aff" stroke-width="0.35" textLength="72.7" lengthAdjust="spacingAndGlyphs">+0.003•V<tspan font-size="9" dy="2.5">trans</tspan><tspan dy="-2.5"></tspan></text>
<text x="579.7" y="563.3" font-family="Liberation Sans, sans-serif" font-size="12.5" fill="#0a0aff" stroke="#0a0aff" stroke-width="0.35" textLength="57.5" lengthAdjust="spacingAndGlyphs">r<tspan font-size="9" dy="2.5">P</tspan><tspan dy="-2.5">=  0.380</tspan></text>
<text x="579.7" y="576.8" font-family="Liberation Sans, sans-serif" font-size="12.5" fill="#0a0aff" stroke="#0a0aff" stroke-width="0.35" textLength="57.5" lengthAdjust="spacingAndGlyphs">r<tspan font-size="9" dy="2.5">S</tspan><tspan dy="-2.5">=  0.352</tspan></text>
<text x="564.5" y="588.7" font-family="Liberation Sans, sans-serif" font-size="12.5" fill="#0a0aff" stroke="#0a0aff" stroke-width="0.35" textLength="71.9" lengthAdjust="spacingAndGlyphs">ρ=5.713e−4</text>
<text x="372.6" y="620.7" font-family="Liberation Sans, sans-serif" font-size="12.5" fill="#0a0aff" stroke="#0a0aff" stroke-width="0.35" textLength="57.8" lengthAdjust="spacingAndGlyphs">r<tspan font-size="9" dy="2.5">P</tspan><tspan dy="-2.5">=  0.216</tspan></text>
<text x="372.6" y="637" font-family="Liberation Sans, sans-serif" font-size="12.5" fill="#0a0aff" stroke="#0a0aff" stroke-width="0.35" textLength="56.3" lengthAdjust="spacingAndGlyphs">r<tspan font-size="9" dy="2.5">S</tspan><tspan dy="-2.5">=  0.161</tspan></text>
<text x="372.6" y="654" font-family="Liberation Sans, sans-serif" font-size="12.5" fill="#0a0aff" stroke="#0a0aff" stroke-width="0.35" textLength="71.7" lengthAdjust="spacingAndGlyphs">ρ=1.231e−1</text>
<text x="573" y="859.2" font-family="Liberation Sans, sans-serif" font-size="12.5" fill="#0a0aff" stroke="#0a0aff" stroke-width="0.35" textLength="56.2" lengthAdjust="spacingAndGlyphs">r<tspan font-size="9" dy="2.5">P</tspan><tspan dy="-2.5">=  0.101</tspan></text>
<text x="579.7" y="875" font-family="Liberation Sans, sans-serif" font-size="12.5" fill="#0a0aff" stroke="#0a0aff" stroke-width="0.35" textLength="57" lengthAdjust="spacingAndGlyphs">r<tspan font-size="9" dy="2.5">S</tspan><tspan dy="-2.5">=  0.112</tspan></text>
<text x="558.3" y="892" font-family="Liberation Sans, sans-serif" font-size="12.5" fill="#0a0aff" stroke="#0a0aff" stroke-width="0.35" textLength="77.5" lengthAdjust="spacingAndGlyphs">ρ=  2.835e−1</text>
</svg></body></html>
